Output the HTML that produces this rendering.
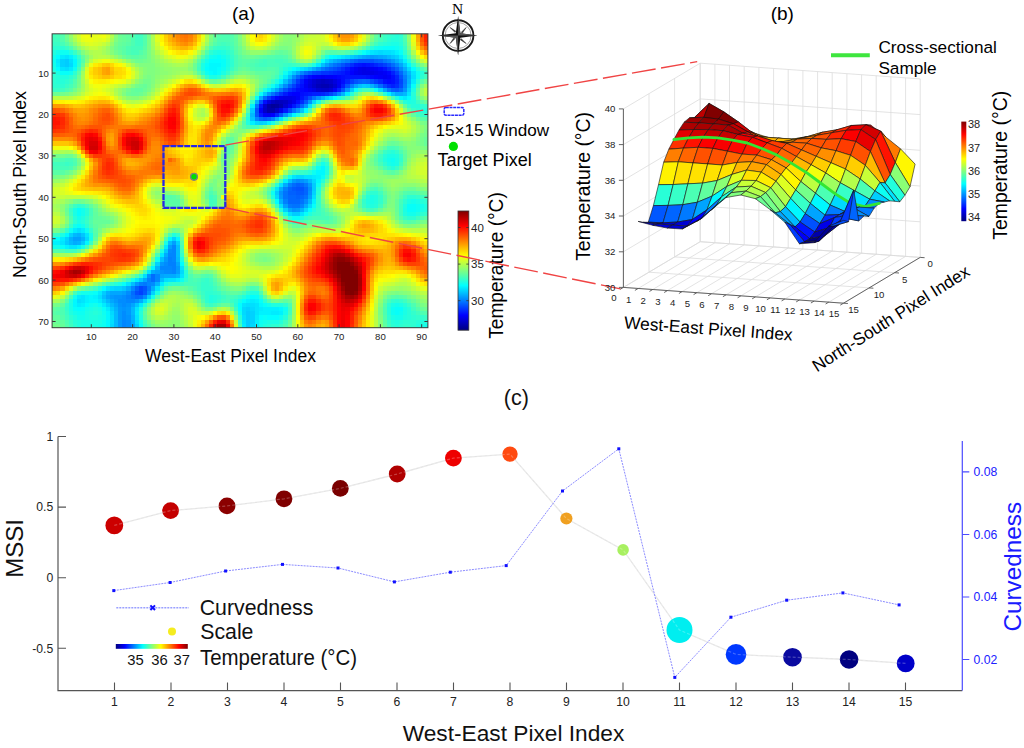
<!DOCTYPE html>
<html><head><meta charset="utf-8"><title>Figure</title>
<style>html,body{margin:0;padding:0;background:#fff;width:1024px;height:748px;overflow:hidden}svg{display:block}</style>
</head><body>
<svg width="1024" height="748" viewBox="0 0 1024 748">
<rect width="1024" height="748" fill="#fff"/>
<g shape-rendering="crispEdges">
<path fill="#40ffbf" d="M52.1 33.8H56.2V37.9H52.1zM134.7 33.8H143.0V37.9H134.7zM52.1 37.9H60.4V42.1H52.1zM134.7 37.9H143.0V42.1H134.7zM134.7 42.1H143.0V46.2H134.7zM221.4 42.1H225.6V46.2H221.4zM374.2 42.1H378.4V46.2H374.2zM366.0 46.2H370.1V50.4H366.0zM349.5 50.4H353.6V54.5H349.5zM262.7 58.6H266.9V62.8H262.7zM275.1 58.6H283.4V62.8H275.1zM316.4 58.6H320.6V62.8H316.4zM258.6 62.8H266.9V66.9H258.6zM279.2 62.8H283.4V66.9H279.2zM295.8 62.8H299.9V66.9H295.8zM76.9 66.9H81.0V71.1H76.9zM196.6 66.9H200.8V71.1H196.6zM72.8 75.2H76.9V79.3H72.8zM221.4 75.2H225.6V79.3H221.4zM275.1 75.2H279.2V79.3H275.1zM423.8 75.2H427.9V79.3H423.8zM60.4 87.6H64.5V91.8H60.4zM361.9 87.6H370.1V91.8H361.9zM312.3 104.2H316.4V108.3H312.3zM250.3 124.9H254.5V129.0H250.3zM378.4 153.9H382.5V158.0H378.4zM320.6 158.0H324.7V162.1H320.6zM52.1 162.1H64.5V166.3H52.1zM68.6 162.1H72.8V166.3H68.6zM399.0 162.1H403.2V166.3H399.0zM279.2 178.7H283.4V182.8H279.2zM378.4 191.1H382.5V195.3H378.4zM209.0 195.3H213.2V199.4H209.0zM403.2 195.3H407.3V199.4H403.2zM419.7 195.3H423.8V199.4H419.7zM209.0 199.4H213.2V203.5H209.0zM209.0 203.5H213.2V207.7H209.0zM378.4 203.5H382.5V207.7H378.4zM399.0 203.5H403.2V207.7H399.0zM370.1 207.7H374.2V211.8H370.1zM399.0 207.7H403.2V211.8H399.0zM68.6 211.8H72.8V216.0H68.6zM399.0 211.8H403.2V216.0H399.0zM308.2 216.0H312.3V220.1H308.2zM415.5 216.0H419.7V220.1H415.5zM64.5 249.1H76.9V253.2H64.5zM180.1 249.1H184.3V253.2H180.1zM184.3 265.6H188.4V269.8H184.3zM143.0 269.8H147.1V273.9H143.0zM209.0 278.1H213.2V282.2H209.0zM196.6 282.2H200.8V286.3H196.6zM93.4 286.3H97.5V290.5H93.4zM196.6 286.3H200.8V290.5H196.6zM213.2 286.3H217.3V290.5H213.2zM200.8 294.6H204.9V298.8H200.8zM233.8 294.6H237.9V298.8H233.8zM221.4 298.8H225.6V302.9H221.4zM403.2 298.8H407.3V302.9H403.2zM287.5 307.0H291.6V311.2H287.5zM411.4 307.0H415.5V311.2H411.4zM415.5 311.2H419.7V315.3H415.5zM64.5 315.3H68.6V319.5H64.5zM283.4 319.5H287.5V323.6H283.4zM68.6 323.6H72.8V327.7H68.6zM386.6 323.6H390.8V327.7H386.6z"/>
<path fill="#46ffb9" d="M56.2 33.8H60.4V37.9H56.2zM378.4 37.9H382.5V42.1H378.4zM60.4 42.1H64.5V46.2H60.4zM217.3 42.1H221.4V46.2H217.3zM225.6 42.1H229.7V46.2H225.6zM403.2 42.1H407.3V46.2H403.2zM130.6 46.2H143.0V50.4H130.6zM229.7 46.2H233.8V50.4H229.7zM130.6 50.4H138.8V54.5H130.6zM233.8 54.5H237.9V58.6H233.8zM320.6 54.5H324.7V58.6H320.6zM407.3 54.5H411.4V58.6H407.3zM233.8 58.6H237.9V62.8H233.8zM258.6 58.6H262.7V62.8H258.6zM266.9 58.6H275.1V62.8H266.9zM283.4 58.6H287.5V62.8H283.4zM196.6 62.8H200.8V66.9H196.6zM233.8 62.8H237.9V66.9H233.8zM254.5 62.8H258.6V66.9H254.5zM266.9 62.8H279.2V66.9H266.9zM419.7 66.9H423.8V71.1H419.7zM68.6 83.5H72.8V87.6H68.6zM415.5 83.5H419.7V87.6H415.5zM258.6 87.6H262.7V91.8H258.6zM308.2 108.3H312.3V112.5H308.2zM299.9 112.5H304.0V116.6H299.9zM415.5 112.5H419.7V116.6H415.5zM246.2 124.9H250.3V129.0H246.2zM254.5 124.9H258.6V129.0H254.5zM386.6 145.6H394.9V149.7H386.6zM64.5 158.0H72.8V162.1H64.5zM378.4 162.1H382.5V166.3H378.4zM52.1 166.3H68.6V170.4H52.1zM382.5 166.3H386.6V170.4H382.5zM291.6 170.4H295.8V174.6H291.6zM374.2 187.0H378.4V191.1H374.2zM361.9 195.3H366.0V199.4H361.9zM423.8 195.3H427.9V199.4H423.8zM213.2 199.4H217.3V203.5H213.2zM399.0 199.4H403.2V203.5H399.0zM85.1 203.5H89.3V207.7H85.1zM89.3 207.7H93.4V211.8H89.3zM366.0 207.7H370.1V211.8H366.0zM89.3 211.8H93.4V216.0H89.3zM320.6 211.8H324.7V216.0H320.6zM312.3 216.0H328.8V220.1H312.3zM299.9 220.1H304.0V224.2H299.9zM167.7 232.5H171.9V236.7H167.7zM85.1 244.9H89.3V249.1H85.1zM180.1 244.9H184.3V249.1H180.1zM155.3 253.2H159.5V257.4H155.3zM188.4 278.1H192.5V282.2H188.4zM196.6 278.1H200.8V282.2H196.6zM105.8 282.2H109.9V286.3H105.8zM184.3 282.2H196.6V286.3H184.3zM250.3 286.3H254.5V290.5H250.3zM72.8 290.5H76.9V294.6H72.8zM242.1 290.5H246.2V294.6H242.1zM68.6 294.6H72.8V298.8H68.6zM225.6 294.6H233.8V298.8H225.6zM225.6 298.8H229.7V302.9H225.6zM386.6 298.8H390.8V302.9H386.6zM204.9 302.9H209.0V307.0H204.9zM213.2 302.9H217.3V307.0H213.2zM287.5 311.2H291.6V315.3H287.5zM143.0 319.5H147.1V323.6H143.0z"/>
<path fill="#53ffac" d="M60.4 33.8H64.5V37.9H60.4zM130.6 33.8H134.7V37.9H130.6zM143.0 33.8H147.1V37.9H143.0zM217.3 33.8H221.4V37.9H217.3zM229.7 33.8H233.8V37.9H229.7zM403.2 33.8H407.3V37.9H403.2zM60.4 37.9H64.5V42.1H60.4zM143.0 37.9H147.1V42.1H143.0zM229.7 37.9H233.8V42.1H229.7zM143.0 42.1H147.1V46.2H143.0zM213.2 42.1H217.3V46.2H213.2zM138.8 50.4H143.0V54.5H138.8zM233.8 50.4H237.9V54.5H233.8zM328.8 50.4H337.1V54.5H328.8zM200.8 54.5H204.9V58.6H200.8zM266.9 54.5H275.1V58.6H266.9zM283.4 54.5H287.5V58.6H283.4zM81.0 58.6H85.1V62.8H81.0zM237.9 58.6H242.1V62.8H237.9zM250.3 58.6H254.5V62.8H250.3zM287.5 58.6H291.6V62.8H287.5zM237.9 62.8H242.1V66.9H237.9zM246.2 62.8H250.3V66.9H246.2zM250.3 66.9H254.5V71.1H250.3zM266.9 66.9H275.1V71.1H266.9zM229.7 71.1H233.8V75.2H229.7zM271.0 75.2H275.1V79.3H271.0zM72.8 79.3H76.9V83.5H72.8zM266.9 79.3H271.0V83.5H266.9zM419.7 79.3H423.8V83.5H419.7zM345.3 95.9H349.5V100.0H345.3zM415.5 95.9H419.7V100.0H415.5zM399.0 100.0H403.2V104.2H399.0zM419.7 100.0H423.8V104.2H419.7zM246.2 108.3H250.3V112.5H246.2zM423.8 116.6H427.9V120.7H423.8zM242.1 120.7H246.2V124.9H242.1zM225.6 141.4H229.7V145.6H225.6zM225.6 145.6H229.7V149.7H225.6zM52.1 158.0H60.4V162.1H52.1zM72.8 158.0H76.9V162.1H72.8zM324.7 158.0H328.8V162.1H324.7zM403.2 191.1H407.3V195.3H403.2zM415.5 191.1H419.7V195.3H415.5zM163.6 195.3H171.9V199.4H163.6zM382.5 195.3H386.6V199.4H382.5zM382.5 199.4H386.6V203.5H382.5zM68.6 203.5H72.8V207.7H68.6zM324.7 211.8H328.8V216.0H324.7zM328.8 216.0H332.9V220.1H328.8zM399.0 216.0H403.2V220.1H399.0zM68.6 220.1H72.8V224.2H68.6zM89.3 220.1H93.4V224.2H89.3zM287.5 220.1H291.6V224.2H287.5zM304.0 220.1H308.2V224.2H304.0zM324.7 220.1H328.8V224.2H324.7zM407.3 220.1H411.4V224.2H407.3zM93.4 232.5H97.5V236.7H93.4zM180.1 240.8H184.3V244.9H180.1zM52.1 249.1H60.4V253.2H52.1zM200.8 273.9H204.9V278.1H200.8zM209.0 273.9H213.2V278.1H209.0zM89.3 286.3H93.4V290.5H89.3zM163.6 286.3H167.7V290.5H163.6zM217.3 286.3H221.4V290.5H217.3zM394.9 294.6H399.0V298.8H394.9zM266.9 298.8H271.0V302.9H266.9zM407.3 298.8H411.4V302.9H407.3zM382.5 302.9H386.6V307.0H382.5zM143.0 307.0H147.1V311.2H143.0zM415.5 307.0H419.7V311.2H415.5zM56.2 311.2H60.4V315.3H56.2zM423.8 311.2H427.9V315.3H423.8zM60.4 315.3H64.5V319.5H60.4zM382.5 315.3H386.6V319.5H382.5zM64.5 323.6H68.6V327.7H64.5z"/>
<path fill="#73ff8c" d="M64.5 33.8H68.6V37.9H64.5zM68.6 42.1H72.8V46.2H68.6zM114.0 42.1H118.2V46.2H114.0zM204.9 46.2H209.0V50.4H204.9zM114.0 50.4H118.2V54.5H114.0zM271.0 50.4H275.1V54.5H271.0zM287.5 50.4H291.6V54.5H287.5zM143.0 58.6H147.1V62.8H143.0zM312.3 58.6H316.4V62.8H312.3zM237.9 71.1H242.1V75.2H237.9zM246.2 71.1H250.3V75.2H246.2zM76.9 79.3H81.0V83.5H76.9zM143.0 79.3H151.2V83.5H143.0zM258.6 79.3H262.7V83.5H258.6zM134.7 83.5H138.8V87.6H134.7zM147.1 83.5H151.2V87.6H147.1zM72.8 87.6H76.9V91.8H72.8zM126.4 87.6H130.6V91.8H126.4zM60.4 91.8H64.5V95.9H60.4zM423.8 120.7H427.9V124.9H423.8zM262.7 124.9H266.9V129.0H262.7zM423.8 133.2H427.9V137.3H423.8zM419.7 137.3H423.8V141.4H419.7zM419.7 141.4H423.8V145.6H419.7zM403.2 145.6H407.3V149.7H403.2zM56.2 153.9H64.5V158.0H56.2zM370.1 158.0H374.2V162.1H370.1zM76.9 162.1H81.0V166.3H76.9zM312.3 162.1H316.4V166.3H312.3zM68.6 170.4H72.8V174.6H68.6zM52.1 174.6H56.2V178.7H52.1zM209.0 182.8H213.2V187.0H209.0zM271.0 182.8H275.1V187.0H271.0zM378.4 182.8H382.5V187.0H378.4zM382.5 187.0H386.6V191.1H382.5zM403.2 187.0H407.3V191.1H403.2zM386.6 195.3H390.8V199.4H386.6zM394.9 195.3H399.0V199.4H394.9zM72.8 199.4H76.9V203.5H72.8zM81.0 199.4H85.1V203.5H81.0zM320.6 199.4H324.7V203.5H320.6zM64.5 203.5H68.6V207.7H64.5zM97.5 211.8H101.7V216.0H97.5zM105.8 216.0H109.9V220.1H105.8zM394.9 216.0H399.0V220.1H394.9zM109.9 220.1H114.0V224.2H109.9zM419.7 220.1H423.8V224.2H419.7zM101.7 224.2H105.8V228.4H101.7zM56.2 228.4H60.4V232.5H56.2zM171.9 228.4H176.0V232.5H171.9zM151.2 257.4H155.3V261.5H151.2zM130.6 273.9H134.7V278.1H130.6zM213.2 273.9H217.3V278.1H213.2zM118.2 278.1H122.3V282.2H118.2zM81.0 286.3H85.1V290.5H81.0zM171.9 286.3H180.1V290.5H171.9zM225.6 286.3H229.7V290.5H225.6zM242.1 286.3H246.2V290.5H242.1zM188.4 290.5H192.5V294.6H188.4zM407.3 294.6H411.4V298.8H407.3zM271.0 298.8H275.1V302.9H271.0zM56.2 302.9H60.4V307.0H56.2zM52.1 323.6H60.4V327.7H52.1zM287.5 323.6H291.6V327.7H287.5z"/>
<path fill="#93ff6c" d="M68.6 33.8H72.8V37.9H68.6zM407.3 33.8H411.4V37.9H407.3zM291.6 37.9H295.8V42.1H291.6zM407.3 37.9H411.4V42.1H407.3zM72.8 42.1H76.9V46.2H72.8zM109.9 42.1H114.0V46.2H109.9zM291.6 42.1H295.8V46.2H291.6zM151.2 50.4H155.3V54.5H151.2zM250.3 50.4H262.7V54.5H250.3zM291.6 50.4H295.8V54.5H291.6zM114.0 54.5H118.2V58.6H114.0zM155.3 58.6H159.5V62.8H155.3zM415.5 58.6H419.7V62.8H415.5zM159.5 62.8H163.6V66.9H159.5zM188.4 62.8H192.5V66.9H188.4zM423.8 62.8H427.9V66.9H423.8zM138.8 66.9H143.0V71.1H138.8zM163.6 66.9H171.9V71.1H163.6zM167.7 71.1H171.9V75.2H167.7zM138.8 75.2H143.0V79.3H138.8zM159.5 75.2H163.6V79.3H159.5zM196.6 75.2H200.8V79.3H196.6zM233.8 75.2H237.9V79.3H233.8zM246.2 75.2H250.3V79.3H246.2zM134.7 79.3H138.8V83.5H134.7zM155.3 79.3H159.5V83.5H155.3zM151.2 87.6H155.3V91.8H151.2zM72.8 91.8H76.9V95.9H72.8zM147.1 91.8H151.2V95.9H147.1zM138.8 95.9H143.0V100.0H138.8zM394.9 100.0H399.0V104.2H394.9zM403.2 108.3H407.3V112.5H403.2zM237.9 120.7H242.1V124.9H237.9zM415.5 120.7H419.7V124.9H415.5zM246.2 129.0H250.3V133.2H246.2zM225.6 133.2H229.7V137.3H225.6zM237.9 133.2H242.1V137.3H237.9zM221.4 137.3H225.6V141.4H221.4zM411.4 137.3H415.5V141.4H411.4zM415.5 149.7H427.9V153.9H415.5zM324.7 153.9H328.8V158.0H324.7zM229.7 158.0H233.8V162.1H229.7zM366.0 158.0H370.1V162.1H366.0zM366.0 166.3H370.1V170.4H366.0zM217.3 170.4H221.4V174.6H217.3zM370.1 170.4H374.2V174.6H370.1zM221.4 174.6H225.6V178.7H221.4zM370.1 174.6H378.4V178.7H370.1zM382.5 178.7H386.6V182.8H382.5zM217.3 182.8H221.4V187.0H217.3zM324.7 182.8H328.8V187.0H324.7zM386.6 182.8H390.8V187.0H386.6zM399.0 182.8H403.2V187.0H399.0zM415.5 182.8H419.7V187.0H415.5zM262.7 187.0H266.9V191.1H262.7zM390.8 187.0H394.9V191.1H390.8zM262.7 195.3H266.9V199.4H262.7zM64.5 199.4H68.6V203.5H64.5zM221.4 199.4H225.6V203.5H221.4zM266.9 199.4H271.0V203.5H266.9zM353.6 203.5H357.7V207.7H353.6zM353.6 207.7H357.7V211.8H353.6zM337.1 211.8H341.2V216.0H337.1zM366.0 211.8H370.1V216.0H366.0zM374.2 211.8H378.4V216.0H374.2zM114.0 216.0H118.2V220.1H114.0zM60.4 224.2H64.5V228.4H60.4zM299.9 228.4H304.0V232.5H299.9zM258.6 261.5H271.0V265.6H258.6zM213.2 269.8H217.3V273.9H213.2zM126.4 273.9H130.6V278.1H126.4zM180.1 290.5H184.3V294.6H180.1zM188.4 294.6H192.5V298.8H188.4zM287.5 294.6H291.6V298.8H287.5zM415.5 294.6H419.7V298.8H415.5zM155.3 298.8H159.5V302.9H155.3zM378.4 298.8H382.5V302.9H378.4zM423.8 298.8H427.9V302.9H423.8zM196.6 302.9H200.8V307.0H196.6zM200.8 307.0H204.9V311.2H200.8zM147.1 311.2H151.2V315.3H147.1zM171.9 315.3H180.1V319.5H171.9zM233.8 315.3H237.9V319.5H233.8zM167.7 319.5H171.9V323.6H167.7zM159.5 323.6H167.7V327.7H159.5z"/>
<path fill="#b9ff46" d="M72.8 33.8H76.9V37.9H72.8zM275.1 33.8H279.2V37.9H275.1zM271.0 42.1H275.1V46.2H271.0zM85.1 46.2H89.3V50.4H85.1zM97.5 46.2H101.7V50.4H97.5zM295.8 46.2H299.9V50.4H295.8zM316.4 46.2H320.6V50.4H316.4zM97.5 54.5H105.8V58.6H97.5zM89.3 58.6H93.4V62.8H89.3zM167.7 58.6H171.9V62.8H167.7zM134.7 71.1H138.8V75.2H134.7zM176.0 75.2H180.1V79.3H176.0zM192.5 75.2H196.6V79.3H192.5zM229.7 79.3H233.8V83.5H229.7zM246.2 79.3H250.3V83.5H246.2zM159.5 83.5H163.6V87.6H159.5zM250.3 83.5H254.5V87.6H250.3zM250.3 87.6H254.5V91.8H250.3zM52.1 95.9H68.6V100.0H52.1zM118.2 95.9H122.3V100.0H118.2zM126.4 100.0H130.6V104.2H126.4zM134.7 100.0H138.8V104.2H134.7zM337.1 100.0H341.2V104.2H337.1zM196.6 108.3H200.8V112.5H196.6zM403.2 112.5H407.3V116.6H403.2zM271.0 124.9H275.1V129.0H271.0zM411.4 124.9H415.5V129.0H411.4zM242.1 133.2H246.2V137.3H242.1zM382.5 133.2H386.6V137.3H382.5zM403.2 133.2H407.3V137.3H403.2zM81.0 158.0H85.1V162.1H81.0zM415.5 158.0H419.7V162.1H415.5zM217.3 162.1H221.4V166.3H217.3zM308.2 162.1H312.3V166.3H308.2zM361.9 162.1H366.0V166.3H361.9zM287.5 166.3H291.6V170.4H287.5zM332.9 170.4H337.1V174.6H332.9zM411.4 174.6H415.5V178.7H411.4zM64.5 178.7H68.6V182.8H64.5zM423.8 178.7H427.9V182.8H423.8zM52.1 182.8H56.2V187.0H52.1zM258.6 187.0H262.7V191.1H258.6zM324.7 187.0H328.8V191.1H324.7zM254.5 191.1H258.6V195.3H254.5zM101.7 203.5H105.8V207.7H101.7zM337.1 207.7H341.2V211.8H337.1zM56.2 211.8H60.4V216.0H56.2zM386.6 216.0H390.8V220.1H386.6zM52.1 224.2H56.2V228.4H52.1zM118.2 224.2H122.3V228.4H118.2zM171.9 224.2H176.0V228.4H171.9zM341.2 224.2H345.3V228.4H341.2zM163.6 228.4H167.7V232.5H163.6zM312.3 228.4H316.4V232.5H312.3zM411.4 228.4H419.7V232.5H411.4zM155.3 244.9H159.5V249.1H155.3zM275.1 249.1H279.2V253.2H275.1zM72.8 253.2H76.9V257.4H72.8zM246.2 253.2H250.3V257.4H246.2zM204.9 265.6H213.2V269.8H204.9zM258.6 265.6H262.7V269.8H258.6zM271.0 265.6H275.1V269.8H271.0zM134.7 269.8H138.8V273.9H134.7zM217.3 269.8H221.4V273.9H217.3zM225.6 278.1H229.7V282.2H225.6zM246.2 278.1H250.3V282.2H246.2zM394.9 282.2H399.0V286.3H394.9zM382.5 286.3H386.6V290.5H382.5zM411.4 286.3H415.5V290.5H411.4zM378.4 290.5H382.5V294.6H378.4zM419.7 290.5H423.8V294.6H419.7zM167.7 298.8H171.9V302.9H167.7zM184.3 298.8H188.4V302.9H184.3zM167.7 302.9H171.9V307.0H167.7zM192.5 302.9H196.6V307.0H192.5zM151.2 307.0H155.3V311.2H151.2zM221.4 307.0H225.6V311.2H221.4zM374.2 307.0H378.4V311.2H374.2zM151.2 311.2H155.3V315.3H151.2zM155.3 315.3H163.6V319.5H155.3zM184.3 315.3H188.4V319.5H184.3zM374.2 319.5H378.4V323.6H374.2zM374.2 323.6H378.4V327.7H374.2z"/>
<path fill="#d2ff2d" d="M76.9 33.8H81.0V37.9H76.9zM246.2 33.8H250.3V37.9H246.2zM320.6 33.8H324.7V37.9H320.6zM105.8 37.9H109.9V42.1H105.8zM271.0 37.9H275.1V42.1H271.0zM320.6 37.9H324.7V42.1H320.6zM97.5 42.1H101.7V46.2H97.5zM155.3 42.1H159.5V46.2H155.3zM304.0 42.1H308.2V46.2H304.0zM312.3 42.1H316.4V46.2H312.3zM357.7 42.1H361.9V46.2H357.7zM312.3 50.4H316.4V54.5H312.3zM299.9 54.5H304.0V58.6H299.9zM114.0 58.6H118.2V62.8H114.0zM184.3 75.2H192.5V79.3H184.3zM85.1 79.3H89.3V83.5H85.1zM126.4 79.3H130.6V83.5H126.4zM171.9 79.3H176.0V83.5H171.9zM237.9 79.3H242.1V83.5H237.9zM209.0 83.5H213.2V87.6H209.0zM105.8 87.6H109.9V91.8H105.8zM159.5 87.6H163.6V91.8H159.5zM109.9 91.8H114.0V95.9H109.9zM357.7 95.9H361.9V100.0H357.7zM143.0 100.0H147.1V104.2H143.0zM349.5 100.0H353.6V104.2H349.5zM192.5 108.3H196.6V112.5H192.5zM242.1 108.3H246.2V112.5H242.1zM403.2 116.6H407.3V120.7H403.2zM407.3 124.9H411.4V129.0H407.3zM382.5 129.0H386.6V133.2H382.5zM403.2 129.0H407.3V133.2H403.2zM378.4 133.2H382.5V137.3H378.4zM221.4 145.6H225.6V149.7H221.4zM320.6 149.7H324.7V153.9H320.6zM366.0 149.7H370.1V153.9H366.0zM423.8 162.1H427.9V166.3H423.8zM419.7 166.3H423.8V170.4H419.7zM357.7 170.4H361.9V174.6H357.7zM419.7 170.4H427.9V174.6H419.7zM229.7 174.6H233.8V178.7H229.7zM353.6 174.6H357.7V178.7H353.6zM68.6 178.7H72.8V182.8H68.6zM271.0 178.7H275.1V182.8H271.0zM345.3 178.7H349.5V182.8H345.3zM328.8 182.8H332.9V187.0H328.8zM357.7 182.8H361.9V187.0H357.7zM52.1 187.0H60.4V191.1H52.1zM176.0 187.0H180.1V191.1H176.0zM52.1 191.1H60.4V195.3H52.1zM246.2 191.1H250.3V195.3H246.2zM147.1 195.3H151.2V199.4H147.1zM196.6 199.4H200.8V203.5H196.6zM105.8 203.5H109.9V207.7H105.8zM188.4 203.5H192.5V207.7H188.4zM266.9 203.5H271.0V207.7H266.9zM332.9 203.5H337.1V207.7H332.9zM114.0 207.7H118.2V211.8H114.0zM163.6 207.7H176.0V211.8H163.6zM271.0 207.7H275.1V211.8H271.0zM52.1 216.0H56.2V220.1H52.1zM184.3 216.0H192.5V220.1H184.3zM382.5 216.0H386.6V220.1H382.5zM52.1 220.1H56.2V224.2H52.1zM192.5 220.1H196.6V224.2H192.5zM386.6 220.1H390.8V224.2H386.6zM122.3 224.2H126.4V228.4H122.3zM188.4 224.2H192.5V228.4H188.4zM114.0 228.4H118.2V232.5H114.0zM399.0 228.4H403.2V232.5H399.0zM159.5 232.5H163.6V236.7H159.5zM299.9 236.7H304.0V240.8H299.9zM287.5 240.8H295.8V244.9H287.5zM279.2 244.9H291.6V249.1H279.2zM184.3 249.1H188.4V253.2H184.3zM246.2 249.1H250.3V253.2H246.2zM76.9 253.2H81.0V257.4H76.9zM242.1 253.2H246.2V257.4H242.1zM287.5 253.2H291.6V257.4H287.5zM242.1 261.5H246.2V265.6H242.1zM246.2 265.6H250.3V269.8H246.2zM130.6 269.8H134.7V273.9H130.6zM258.6 269.8H266.9V273.9H258.6zM246.2 273.9H258.6V278.1H246.2zM407.3 278.1H411.4V282.2H407.3zM382.5 282.2H386.6V286.3H382.5zM411.4 282.2H415.5V286.3H411.4zM159.5 302.9H163.6V307.0H159.5zM192.5 307.0H196.6V311.2H192.5zM155.3 311.2H163.6V315.3H155.3zM196.6 311.2H200.8V315.3H196.6zM188.4 315.3H192.5V319.5H188.4z"/>
<path fill="#ecff13" d="M81.0 33.8H85.1V37.9H81.0zM89.3 33.8H93.4V37.9H89.3zM97.5 33.8H101.7V37.9H97.5zM200.8 33.8H204.9V37.9H200.8zM324.7 33.8H328.8V37.9H324.7zM85.1 37.9H93.4V42.1H85.1zM411.4 37.9H415.5V42.1H411.4zM304.0 46.2H312.3V50.4H304.0zM184.3 54.5H188.4V58.6H184.3zM89.3 62.8H93.4V66.9H89.3zM122.3 62.8H126.4V66.9H122.3zM122.3 79.3H126.4V83.5H122.3zM101.7 83.5H105.8V87.6H101.7zM225.6 83.5H229.7V87.6H225.6zM97.5 87.6H101.7V91.8H97.5zM155.3 95.9H159.5V100.0H155.3zM118.2 100.0H122.3V104.2H118.2zM126.4 104.2H130.6V108.3H126.4zM134.7 104.2H138.8V108.3H134.7zM320.6 104.2H324.7V108.3H320.6zM390.8 124.9H394.9V129.0H390.8zM258.6 129.0H262.7V133.2H258.6zM378.4 129.0H382.5V133.2H378.4zM242.1 137.3H246.2V141.4H242.1zM370.1 141.4H374.2V145.6H370.1zM85.1 162.1H89.3V166.3H85.1zM213.2 162.1H217.3V166.3H213.2zM283.4 166.3H287.5V170.4H283.4zM357.7 166.3H361.9V170.4H357.7zM353.6 170.4H357.7V174.6H353.6zM200.8 174.6H204.9V178.7H200.8zM275.1 174.6H279.2V178.7H275.1zM72.8 178.7H76.9V182.8H72.8zM159.5 182.8H163.6V187.0H159.5zM64.5 187.0H68.6V191.1H64.5zM68.6 191.1H72.8V195.3H68.6zM188.4 191.1H192.5V195.3H188.4zM97.5 195.3H101.7V199.4H97.5zM237.9 195.3H242.1V199.4H237.9zM147.1 199.4H151.2V203.5H147.1zM254.5 199.4H258.6V203.5H254.5zM109.9 203.5H114.0V207.7H109.9zM151.2 203.5H155.3V207.7H151.2zM337.1 203.5H341.2V207.7H337.1zM345.3 203.5H349.5V207.7H345.3zM155.3 207.7H159.5V211.8H155.3zM209.0 207.7H213.2V211.8H209.0zM159.5 211.8H163.6V216.0H159.5zM180.1 211.8H188.4V216.0H180.1zM196.6 211.8H200.8V216.0H196.6zM171.9 216.0H176.0V220.1H171.9zM370.1 216.0H374.2V220.1H370.1zM167.7 220.1H171.9V224.2H167.7zM126.4 224.2H130.6V228.4H126.4zM279.2 224.2H283.4V228.4H279.2zM386.6 224.2H390.8V228.4H386.6zM122.3 228.4H126.4V232.5H122.3zM105.8 232.5H109.9V236.7H105.8zM312.3 232.5H316.4V236.7H312.3zM415.5 232.5H419.7V236.7H415.5zM279.2 240.8H283.4V244.9H279.2zM184.3 244.9H188.4V249.1H184.3zM254.5 244.9H258.6V249.1H254.5zM295.8 244.9H299.9V249.1H295.8zM242.1 249.1H246.2V253.2H242.1zM237.9 253.2H242.1V257.4H237.9zM291.6 253.2H295.8V257.4H291.6zM138.8 265.6H143.0V269.8H138.8zM237.9 265.6H242.1V269.8H237.9zM225.6 269.8H229.7V273.9H225.6zM237.9 269.8H242.1V273.9H237.9zM275.1 269.8H279.2V273.9H275.1zM114.0 273.9H118.2V278.1H114.0zM262.7 273.9H266.9V278.1H262.7zM399.0 273.9H407.3V278.1H399.0zM97.5 278.1H101.7V282.2H97.5zM262.7 278.1H266.9V282.2H262.7zM386.6 278.1H390.8V282.2H386.6zM287.5 286.3H291.6V290.5H287.5zM374.2 290.5H378.4V294.6H374.2zM52.1 294.6H56.2V298.8H52.1zM370.1 311.2H374.2V315.3H370.1zM192.5 319.5H196.6V323.6H192.5zM192.5 323.6H196.6V327.7H192.5z"/>
<path fill="#f2ff0d" d="M85.1 33.8H89.3V37.9H85.1zM101.7 33.8H105.8V37.9H101.7zM411.4 33.8H415.5V37.9H411.4zM266.9 37.9H271.0V42.1H266.9zM262.7 42.1H266.9V46.2H262.7zM308.2 50.4H312.3V54.5H308.2zM176.0 54.5H184.3V58.6H176.0zM101.7 58.6H109.9V62.8H101.7zM118.2 79.3H122.3V83.5H118.2zM93.4 83.5H101.7V87.6H93.4zM204.9 83.5H209.0V87.6H204.9zM163.6 87.6H167.7V91.8H163.6zM246.2 87.6H250.3V91.8H246.2zM93.4 91.8H97.5V95.9H93.4zM101.7 91.8H105.8V95.9H101.7zM159.5 91.8H163.6V95.9H159.5zM246.2 91.8H250.3V95.9H246.2zM138.8 104.2H143.0V108.3H138.8zM394.9 104.2H399.0V108.3H394.9zM196.6 120.7H200.8V124.9H196.6zM287.5 120.7H291.6V124.9H287.5zM386.6 124.9H390.8V129.0H386.6zM374.2 133.2H378.4V137.3H374.2zM52.1 145.6H68.6V149.7H52.1zM316.4 149.7H320.6V153.9H316.4zM312.3 153.9H316.4V158.0H312.3zM295.8 162.1H304.0V166.3H295.8zM233.8 166.3H237.9V170.4H233.8zM279.2 170.4H283.4V174.6H279.2zM349.5 170.4H353.6V174.6H349.5zM341.2 174.6H345.3V178.7H341.2zM68.6 182.8H72.8V187.0H68.6zM196.6 182.8H200.8V187.0H196.6zM353.6 182.8H357.7V187.0H353.6zM184.3 187.0H188.4V191.1H184.3zM246.2 187.0H250.3V191.1H246.2zM192.5 191.1H196.6V195.3H192.5zM237.9 191.1H242.1V195.3H237.9zM221.4 195.3H225.6V199.4H221.4zM105.8 199.4H109.9V203.5H105.8zM122.3 207.7H126.4V211.8H122.3zM126.4 211.8H130.6V216.0H126.4zM188.4 211.8H196.6V216.0H188.4zM200.8 211.8H204.9V216.0H200.8zM163.6 216.0H171.9V220.1H163.6zM275.1 216.0H279.2V220.1H275.1zM353.6 216.0H357.7V220.1H353.6zM366.0 216.0H370.1V220.1H366.0zM130.6 220.1H134.7V224.2H130.6zM163.6 220.1H167.7V224.2H163.6zM196.6 220.1H200.8V224.2H196.6zM382.5 220.1H386.6V224.2H382.5zM159.5 224.2H163.6V228.4H159.5zM192.5 224.2H196.6V228.4H192.5zM390.8 228.4H394.9V232.5H390.8zM411.4 232.5H415.5V236.7H411.4zM184.3 236.7H188.4V240.8H184.3zM184.3 240.8H188.4V244.9H184.3zM299.9 240.8H304.0V244.9H299.9zM250.3 244.9H254.5V249.1H250.3zM233.8 261.5H237.9V265.6H233.8zM221.4 265.6H225.6V269.8H221.4zM126.4 269.8H130.6V273.9H126.4zM233.8 269.8H237.9V273.9H233.8zM394.9 273.9H399.0V278.1H394.9zM382.5 278.1H386.6V282.2H382.5zM411.4 278.1H415.5V282.2H411.4zM415.5 282.2H419.7V286.3H415.5zM295.8 294.6H299.9V298.8H295.8zM196.6 315.3H200.8V319.5H196.6zM295.8 323.6H299.9V327.7H295.8z"/>
<path fill="#e5ff1a" d="M93.4 33.8H97.5V37.9H93.4zM361.9 33.8H366.0V37.9H361.9zM81.0 37.9H85.1V42.1H81.0zM93.4 37.9H97.5V42.1H93.4zM101.7 37.9H105.8V42.1H101.7zM200.8 37.9H204.9V42.1H200.8zM324.7 37.9H328.8V42.1H324.7zM250.3 42.1H254.5V46.2H250.3zM159.5 46.2H163.6V50.4H159.5zM196.6 46.2H200.8V50.4H196.6zM163.6 50.4H167.7V54.5H163.6zM192.5 50.4H196.6V54.5H192.5zM171.9 54.5H176.0V58.6H171.9zM304.0 54.5H308.2V58.6H304.0zM97.5 58.6H101.7V62.8H97.5zM85.1 71.1H89.3V75.2H85.1zM85.1 75.2H89.3V79.3H85.1zM176.0 79.3H180.1V83.5H176.0zM196.6 79.3H200.8V83.5H196.6zM89.3 83.5H93.4V87.6H89.3zM105.8 83.5H109.9V87.6H105.8zM167.7 83.5H171.9V87.6H167.7zM93.4 87.6H97.5V91.8H93.4zM89.3 91.8H93.4V95.9H89.3zM105.8 91.8H109.9V95.9H105.8zM81.0 95.9H85.1V100.0H81.0zM353.6 100.0H357.7V104.2H353.6zM130.6 104.2H134.7V108.3H130.6zM204.9 116.6H209.0V120.7H204.9zM275.1 124.9H279.2V129.0H275.1zM394.9 124.9H403.2V129.0H394.9zM246.2 133.2H250.3V137.3H246.2zM237.9 153.9H242.1V158.0H237.9zM304.0 162.1H308.2V166.3H304.0zM332.9 162.1H337.1V166.3H332.9zM209.0 166.3H213.2V170.4H209.0zM81.0 170.4H85.1V174.6H81.0zM204.9 170.4H209.0V174.6H204.9zM76.9 174.6H81.0V178.7H76.9zM229.7 178.7H233.8V182.8H229.7zM332.9 178.7H337.1V182.8H332.9zM151.2 182.8H155.3V187.0H151.2zM225.6 182.8H229.7V187.0H225.6zM196.6 187.0H200.8V191.1H196.6zM250.3 187.0H254.5V191.1H250.3zM64.5 191.1H68.6V195.3H64.5zM188.4 195.3H196.6V199.4H188.4zM192.5 199.4H196.6V203.5H192.5zM242.1 199.4H246.2V203.5H242.1zM250.3 199.4H254.5V203.5H250.3zM118.2 207.7H122.3V211.8H118.2zM176.0 207.7H180.1V211.8H176.0zM200.8 207.7H204.9V211.8H200.8zM163.6 211.8H171.9V216.0H163.6zM176.0 211.8H180.1V216.0H176.0zM126.4 216.0H130.6V220.1H126.4zM176.0 216.0H180.1V220.1H176.0zM196.6 216.0H200.8V220.1H196.6zM374.2 216.0H378.4V220.1H374.2zM126.4 220.1H130.6V224.2H126.4zM171.9 220.1H176.0V224.2H171.9zM159.5 228.4H163.6V232.5H159.5zM419.7 232.5H423.8V236.7H419.7zM304.0 236.7H308.2V240.8H304.0zM155.3 240.8H159.5V244.9H155.3zM258.6 244.9H266.9V249.1H258.6zM89.3 249.1H93.4V253.2H89.3zM291.6 249.1H295.8V253.2H291.6zM237.9 257.4H242.1V261.5H237.9zM237.9 261.5H242.1V265.6H237.9zM242.1 269.8H246.2V273.9H242.1zM229.7 273.9H242.1V278.1H229.7zM390.8 278.1H394.9V282.2H390.8zM378.4 282.2H382.5V286.3H378.4zM68.6 286.3H72.8V290.5H68.6zM291.6 286.3H295.8V290.5H291.6zM423.8 286.3H427.9V290.5H423.8zM266.9 290.5H271.0V294.6H266.9zM192.5 315.3H196.6V319.5H192.5zM370.1 315.3H374.2V319.5H370.1zM370.1 319.5H374.2V323.6H370.1zM370.1 323.6H374.2V327.7H370.1z"/>
<path fill="#dfff20" d="M105.8 33.8H109.9V37.9H105.8zM155.3 33.8H159.5V37.9H155.3zM97.5 37.9H101.7V42.1H97.5zM155.3 37.9H159.5V42.1H155.3zM89.3 42.1H93.4V46.2H89.3zM328.8 42.1H332.9V46.2H328.8zM411.4 42.1H415.5V46.2H411.4zM299.9 50.4H304.0V54.5H299.9zM308.2 54.5H312.3V58.6H308.2zM109.9 58.6H114.0V62.8H109.9zM130.6 71.1H134.7V75.2H130.6zM246.2 83.5H250.3V87.6H246.2zM101.7 87.6H105.8V91.8H101.7zM147.1 100.0H151.2V104.2H147.1zM196.6 104.2H204.9V108.3H196.6zM399.0 108.3H403.2V112.5H399.0zM403.2 120.7H407.3V124.9H403.2zM403.2 124.9H407.3V129.0H403.2zM374.2 137.3H378.4V141.4H374.2zM217.3 149.7H221.4V153.9H217.3zM324.7 149.7H328.8V153.9H324.7zM361.9 153.9H366.0V158.0H361.9zM60.4 187.0H64.5V191.1H60.4zM180.1 187.0H184.3V191.1H180.1zM196.6 191.1H200.8V195.3H196.6zM242.1 191.1H246.2V195.3H242.1zM353.6 195.3H357.7V199.4H353.6zM246.2 199.4H250.3V203.5H246.2zM258.6 199.4H262.7V203.5H258.6zM192.5 203.5H196.6V207.7H192.5zM159.5 207.7H163.6V211.8H159.5zM171.9 211.8H176.0V216.0H171.9zM378.4 216.0H382.5V220.1H378.4zM163.6 224.2H167.7V228.4H163.6zM345.3 224.2H349.5V228.4H345.3zM118.2 228.4H122.3V232.5H118.2zM341.2 228.4H345.3V232.5H341.2zM394.9 228.4H399.0V232.5H394.9zM184.3 232.5H188.4V236.7H184.3zM423.8 232.5H427.9V236.7H423.8zM283.4 236.7H287.5V240.8H283.4zM295.8 240.8H299.9V244.9H295.8zM266.9 244.9H271.0V249.1H266.9zM291.6 244.9H295.8V249.1H291.6zM287.5 257.4H291.6V261.5H287.5zM217.3 265.6H221.4V269.8H217.3zM242.1 265.6H246.2V269.8H242.1zM246.2 269.8H250.3V273.9H246.2zM271.0 269.8H275.1V273.9H271.0zM258.6 273.9H262.7V278.1H258.6zM85.1 282.2H89.3V286.3H85.1zM262.7 282.2H266.9V286.3H262.7zM419.7 286.3H423.8V290.5H419.7zM283.4 290.5H287.5V294.6H283.4zM56.2 294.6H60.4V298.8H56.2zM159.5 307.0H163.6V311.2H159.5zM192.5 311.2H196.6V315.3H192.5zM233.8 323.6H237.9V327.7H233.8z"/>
<path fill="#b3ff4c" d="M109.9 33.8H114.0V37.9H109.9zM366.0 33.8H370.1V37.9H366.0zM275.1 37.9H279.2V42.1H275.1zM299.9 37.9H304.0V42.1H299.9zM76.9 42.1H81.0V46.2H76.9zM105.8 42.1H109.9V46.2H105.8zM332.9 46.2H337.1V50.4H332.9zM349.5 46.2H353.6V50.4H349.5zM93.4 50.4H101.7V54.5H93.4zM155.3 50.4H159.5V54.5H155.3zM196.6 50.4H200.8V54.5H196.6zM93.4 54.5H97.5V58.6H93.4zM105.8 54.5H109.9V58.6H105.8zM159.5 54.5H163.6V58.6H159.5zM192.5 54.5H196.6V58.6H192.5zM295.8 54.5H299.9V58.6H295.8zM312.3 54.5H316.4V58.6H312.3zM85.1 62.8H89.3V66.9H85.1zM134.7 75.2H138.8V79.3H134.7zM130.6 79.3H134.7V83.5H130.6zM200.8 79.3H204.9V83.5H200.8zM122.3 83.5H126.4V87.6H122.3zM155.3 87.6H159.5V91.8H155.3zM114.0 91.8H118.2V95.9H114.0zM366.0 91.8H370.1V95.9H366.0zM147.1 95.9H151.2V100.0H147.1zM130.6 100.0H134.7V104.2H130.6zM246.2 100.0H250.3V104.2H246.2zM332.9 100.0H337.1V104.2H332.9zM196.6 112.5H200.8V116.6H196.6zM308.2 112.5H312.3V116.6H308.2zM295.8 116.6H299.9V120.7H295.8zM411.4 129.0H415.5V133.2H411.4zM399.0 133.2H403.2V137.3H399.0zM407.3 133.2H411.4V137.3H407.3zM52.1 149.7H56.2V153.9H52.1zM76.9 153.9H81.0V158.0H76.9zM312.3 158.0H316.4V162.1H312.3zM411.4 162.1H415.5V166.3H411.4zM229.7 166.3H233.8V170.4H229.7zM361.9 166.3H366.0V170.4H361.9zM76.9 170.4H81.0V174.6H76.9zM407.3 170.4H411.4V174.6H407.3zM361.9 174.6H366.0V178.7H361.9zM407.3 174.6H411.4V178.7H407.3zM204.9 178.7H209.0V182.8H204.9zM361.9 178.7H366.0V182.8H361.9zM419.7 178.7H423.8V182.8H419.7zM151.2 187.0H155.3V191.1H151.2zM159.5 187.0H163.6V191.1H159.5zM200.8 187.0H204.9V191.1H200.8zM180.1 191.1H184.3V195.3H180.1zM258.6 195.3H262.7V199.4H258.6zM52.1 199.4H56.2V203.5H52.1zM155.3 199.4H159.5V203.5H155.3zM353.6 199.4H357.7V203.5H353.6zM200.8 203.5H204.9V207.7H200.8zM328.8 203.5H332.9V207.7H328.8zM105.8 207.7H109.9V211.8H105.8zM349.5 207.7H353.6V211.8H349.5zM345.3 211.8H349.5V216.0H345.3zM357.7 211.8H361.9V216.0H357.7zM118.2 216.0H122.3V220.1H118.2zM60.4 220.1H64.5V224.2H60.4zM390.8 220.1H394.9V224.2H390.8zM56.2 224.2H60.4V228.4H56.2zM176.0 224.2H184.3V228.4H176.0zM394.9 224.2H399.0V228.4H394.9zM299.9 232.5H304.0V236.7H299.9zM159.5 236.7H163.6V240.8H159.5zM254.5 249.1H258.6V253.2H254.5zM271.0 249.1H275.1V253.2H271.0zM184.3 253.2H188.4V257.4H184.3zM246.2 257.4H250.3V261.5H246.2zM262.7 265.6H271.0V269.8H262.7zM122.3 273.9H126.4V278.1H122.3zM105.8 278.1H109.9V282.2H105.8zM250.3 278.1H258.6V282.2H250.3zM399.0 282.2H407.3V286.3H399.0zM72.8 286.3H76.9V290.5H72.8zM167.7 294.6H176.0V298.8H167.7zM159.5 298.8H163.6V302.9H159.5zM171.9 298.8H176.0V302.9H171.9zM180.1 298.8H184.3V302.9H180.1zM188.4 298.8H192.5V302.9H188.4zM180.1 302.9H184.3V307.0H180.1zM167.7 307.0H171.9V311.2H167.7zM180.1 307.0H184.3V311.2H180.1zM196.6 307.0H200.8V311.2H196.6zM374.2 311.2H378.4V315.3H374.2zM374.2 315.3H378.4V319.5H374.2zM184.3 319.5H188.4V323.6H184.3z"/>
<path fill="#86ff79" d="M114.0 33.8H118.2V37.9H114.0zM370.1 33.8H374.2V37.9H370.1zM287.5 37.9H291.6V42.1H287.5zM283.4 42.1H291.6V46.2H283.4zM407.3 42.1H411.4V46.2H407.3zM242.1 46.2H246.2V50.4H242.1zM275.1 46.2H279.2V50.4H275.1zM109.9 50.4H114.0V54.5H109.9zM246.2 50.4H250.3V54.5H246.2zM291.6 54.5H295.8V58.6H291.6zM411.4 54.5H415.5V58.6H411.4zM151.2 58.6H155.3V62.8H151.2zM192.5 58.6H196.6V62.8H192.5zM295.8 58.6H299.9V62.8H295.8zM81.0 66.9H85.1V71.1H81.0zM143.0 66.9H147.1V71.1H143.0zM155.3 66.9H159.5V71.1H155.3zM188.4 66.9H192.5V71.1H188.4zM143.0 71.1H147.1V75.2H143.0zM155.3 71.1H159.5V75.2H155.3zM250.3 75.2H254.5V79.3H250.3zM204.9 79.3H209.0V83.5H204.9zM130.6 83.5H134.7V87.6H130.6zM151.2 83.5H155.3V87.6H151.2zM122.3 87.6H126.4V91.8H122.3zM68.6 91.8H72.8V95.9H68.6zM357.7 91.8H361.9V95.9H357.7zM130.6 95.9H138.8V100.0H130.6zM386.6 95.9H390.8V100.0H386.6zM324.7 100.0H328.8V104.2H324.7zM407.3 112.5H411.4V116.6H407.3zM279.2 120.7H283.4V124.9H279.2zM390.8 137.3H394.9V141.4H390.8zM382.5 141.4H386.6V145.6H382.5zM403.2 141.4H407.3V145.6H403.2zM411.4 141.4H415.5V145.6H411.4zM407.3 145.6H419.7V149.7H407.3zM221.4 166.3H229.7V170.4H221.4zM370.1 166.3H374.2V170.4H370.1zM386.6 174.6H394.9V178.7H386.6zM370.1 178.7H382.5V182.8H370.1zM382.5 182.8H386.6V187.0H382.5zM217.3 187.0H225.6V191.1H217.3zM386.6 187.0H390.8V191.1H386.6zM423.8 187.0H427.9V191.1H423.8zM167.7 191.1H171.9V195.3H167.7zM217.3 191.1H221.4V195.3H217.3zM390.8 191.1H394.9V195.3H390.8zM357.7 195.3H361.9V199.4H357.7zM68.6 199.4H72.8V203.5H68.6zM217.3 203.5H221.4V207.7H217.3zM324.7 203.5H328.8V207.7H324.7zM328.8 207.7H332.9V211.8H328.8zM390.8 207.7H394.9V211.8H390.8zM64.5 220.1H68.6V224.2H64.5zM308.2 224.2H324.7V228.4H308.2zM332.9 224.2H337.1V228.4H332.9zM403.2 224.2H407.3V228.4H403.2zM411.4 224.2H415.5V228.4H411.4zM295.8 228.4H299.9V232.5H295.8zM163.6 232.5H167.7V236.7H163.6zM93.4 240.8H97.5V244.9H93.4zM159.5 240.8H163.6V244.9H159.5zM89.3 244.9H93.4V249.1H89.3zM258.6 253.2H266.9V257.4H258.6zM254.5 257.4H258.6V261.5H254.5zM138.8 269.8H143.0V273.9H138.8zM192.5 269.8H196.6V273.9H192.5zM114.0 278.1H118.2V282.2H114.0zM254.5 282.2H258.6V286.3H254.5zM76.9 286.3H81.0V290.5H76.9zM233.8 286.3H242.1V290.5H233.8zM68.6 290.5H72.8V294.6H68.6zM184.3 290.5H188.4V294.6H184.3zM386.6 290.5H390.8V294.6H386.6zM403.2 290.5H407.3V294.6H403.2zM64.5 294.6H68.6V298.8H64.5zM159.5 294.6H163.6V298.8H159.5zM60.4 298.8H64.5V302.9H60.4zM378.4 302.9H382.5V307.0H378.4zM147.1 315.3H151.2V319.5H147.1zM378.4 319.5H382.5V323.6H378.4z"/>
<path fill="#6cff93" d="M118.2 33.8H122.3V37.9H118.2zM64.5 37.9H68.6V42.1H64.5zM118.2 37.9H122.3V42.1H118.2zM209.0 42.1H213.2V46.2H209.0zM72.8 46.2H76.9V50.4H72.8zM114.0 46.2H118.2V50.4H114.0zM237.9 46.2H242.1V50.4H237.9zM122.3 54.5H126.4V58.6H122.3zM246.2 54.5H254.5V58.6H246.2zM134.7 58.6H143.0V62.8H134.7zM192.5 62.8H196.6V66.9H192.5zM192.5 66.9H196.6V71.1H192.5zM250.3 71.1H254.5V75.2H250.3zM76.9 75.2H81.0V79.3H76.9zM258.6 75.2H262.7V79.3H258.6zM217.3 79.3H221.4V83.5H217.3zM423.8 79.3H427.9V83.5H423.8zM138.8 83.5H143.0V87.6H138.8zM143.0 87.6H147.1V91.8H143.0zM52.1 91.8H60.4V95.9H52.1zM126.4 91.8H130.6V95.9H126.4zM138.8 91.8H143.0V95.9H138.8zM250.3 95.9H254.5V100.0H250.3zM242.1 116.6H246.2V120.7H242.1zM415.5 116.6H419.7V120.7H415.5zM386.6 141.4H390.8V145.6H386.6zM394.9 141.4H399.0V145.6H394.9zM229.7 149.7H233.8V153.9H229.7zM64.5 153.9H72.8V158.0H64.5zM225.6 153.9H229.7V158.0H225.6zM221.4 158.0H225.6V162.1H221.4zM403.2 162.1H407.3V166.3H403.2zM308.2 166.3H312.3V170.4H308.2zM382.5 170.4H386.6V174.6H382.5zM370.1 182.8H374.2V187.0H370.1zM320.6 187.0H324.7V191.1H320.6zM407.3 187.0H415.5V191.1H407.3zM204.9 191.1H209.0V195.3H204.9zM76.9 199.4H81.0V203.5H76.9zM64.5 211.8H68.6V216.0H64.5zM394.9 211.8H399.0V216.0H394.9zM101.7 216.0H105.8V220.1H101.7zM399.0 220.1H403.2V224.2H399.0zM64.5 224.2H68.6V228.4H64.5zM97.5 224.2H101.7V228.4H97.5zM299.9 224.2H304.0V228.4H299.9zM167.7 286.3H171.9V290.5H167.7zM180.1 286.3H184.3V290.5H180.1zM279.2 298.8H283.4V302.9H279.2zM287.5 298.8H291.6V302.9H287.5zM423.8 307.0H427.9V311.2H423.8zM52.1 319.5H56.2V323.6H52.1zM147.1 319.5H151.2V323.6H147.1z"/>
<path fill="#66ff99" d="M122.3 33.8H126.4V37.9H122.3zM233.8 33.8H237.9V37.9H233.8zM122.3 37.9H126.4V42.1H122.3zM118.2 42.1H122.3V46.2H118.2zM118.2 50.4H122.3V54.5H118.2zM237.9 50.4H242.1V54.5H237.9zM275.1 50.4H279.2V54.5H275.1zM283.4 50.4H287.5V54.5H283.4zM143.0 54.5H147.1V58.6H143.0zM242.1 54.5H246.2V58.6H242.1zM254.5 54.5H258.6V58.6H254.5zM287.5 54.5H291.6V58.6H287.5zM291.6 58.6H295.8V62.8H291.6zM81.0 62.8H85.1V66.9H81.0zM242.1 66.9H246.2V71.1H242.1zM233.8 71.1H237.9V75.2H233.8zM262.7 75.2H266.9V79.3H262.7zM209.0 79.3H213.2V83.5H209.0zM262.7 79.3H266.9V83.5H262.7zM143.0 83.5H147.1V87.6H143.0zM258.6 83.5H262.7V87.6H258.6zM130.6 87.6H134.7V91.8H130.6zM130.6 91.8H138.8V95.9H130.6zM415.5 91.8H419.7V95.9H415.5zM423.8 100.0H427.9V104.2H423.8zM225.6 137.3H229.7V141.4H225.6zM423.8 137.3H427.9V141.4H423.8zM390.8 141.4H394.9V145.6H390.8zM423.8 141.4H427.9V145.6H423.8zM403.2 149.7H407.3V153.9H403.2zM316.4 158.0H320.6V162.1H316.4zM72.8 166.3H76.9V170.4H72.8zM328.8 166.3H332.9V170.4H328.8zM64.5 170.4H68.6V174.6H64.5zM287.5 170.4H291.6V174.6H287.5zM328.8 170.4H332.9V174.6H328.8zM394.9 170.4H399.0V174.6H394.9zM324.7 178.7H328.8V182.8H324.7zM374.2 182.8H378.4V187.0H374.2zM266.9 187.0H271.0V191.1H266.9zM361.9 191.1H366.0V195.3H361.9zM399.0 191.1H403.2V195.3H399.0zM423.8 191.1H427.9V195.3H423.8zM176.0 195.3H180.1V199.4H176.0zM204.9 195.3H209.0V199.4H204.9zM357.7 199.4H361.9V203.5H357.7zM394.9 199.4H399.0V203.5H394.9zM163.6 203.5H167.7V207.7H163.6zM382.5 203.5H386.6V207.7H382.5zM394.9 203.5H399.0V207.7H394.9zM64.5 207.7H68.6V211.8H64.5zM93.4 207.7H97.5V211.8H93.4zM324.7 207.7H328.8V211.8H324.7zM378.4 207.7H382.5V211.8H378.4zM394.9 207.7H399.0V211.8H394.9zM279.2 211.8H283.4V216.0H279.2zM328.8 211.8H332.9V216.0H328.8zM97.5 216.0H101.7V220.1H97.5zM332.9 216.0H337.1V220.1H332.9zM93.4 220.1H109.9V224.2H93.4zM312.3 220.1H316.4V224.2H312.3zM332.9 220.1H337.1V224.2H332.9zM415.5 220.1H419.7V224.2H415.5zM291.6 224.2H295.8V228.4H291.6zM188.4 269.8H192.5V273.9H188.4zM217.3 282.2H221.4V286.3H217.3zM184.3 286.3H188.4V290.5H184.3zM221.4 286.3H225.6V290.5H221.4zM386.6 294.6H390.8V298.8H386.6zM382.5 298.8H386.6V302.9H382.5zM411.4 298.8H415.5V302.9H411.4zM200.8 302.9H204.9V307.0H200.8zM221.4 302.9H229.7V307.0H221.4zM415.5 302.9H419.7V307.0H415.5zM419.7 307.0H423.8V311.2H419.7zM233.8 311.2H237.9V315.3H233.8zM56.2 319.5H60.4V323.6H56.2zM287.5 319.5H291.6V323.6H287.5zM60.4 323.6H64.5V327.7H60.4z"/>
<path fill="#60ff9f" d="M126.4 33.8H130.6V37.9H126.4zM213.2 33.8H217.3V37.9H213.2zM374.2 33.8H378.4V37.9H374.2zM126.4 37.9H130.6V42.1H126.4zM213.2 37.9H217.3V42.1H213.2zM233.8 37.9H237.9V42.1H233.8zM122.3 42.1H126.4V46.2H122.3zM233.8 42.1H237.9V46.2H233.8zM118.2 46.2H122.3V50.4H118.2zM361.9 46.2H366.0V50.4H361.9zM143.0 50.4H147.1V54.5H143.0zM279.2 50.4H283.4V54.5H279.2zM407.3 50.4H411.4V54.5H407.3zM81.0 54.5H85.1V58.6H81.0zM126.4 54.5H130.6V58.6H126.4zM138.8 54.5H143.0V58.6H138.8zM258.6 54.5H262.7V58.6H258.6zM237.9 66.9H242.1V71.1H237.9zM246.2 66.9H250.3V71.1H246.2zM254.5 71.1H271.0V75.2H254.5zM200.8 75.2H204.9V79.3H200.8zM225.6 75.2H229.7V79.3H225.6zM266.9 75.2H271.0V79.3H266.9zM213.2 79.3H217.3V83.5H213.2zM134.7 87.6H143.0V91.8H134.7zM415.5 87.6H419.7V91.8H415.5zM378.4 91.8H382.5V95.9H378.4zM403.2 104.2H407.3V108.3H403.2zM411.4 112.5H415.5V116.6H411.4zM287.5 116.6H291.6V120.7H287.5zM229.7 137.3H233.8V141.4H229.7zM229.7 145.6H233.8V149.7H229.7zM382.5 145.6H386.6V149.7H382.5zM399.0 145.6H403.2V149.7H399.0zM374.2 153.9H378.4V158.0H374.2zM403.2 153.9H407.3V158.0H403.2zM403.2 158.0H407.3V162.1H403.2zM374.2 162.1H378.4V166.3H374.2zM378.4 166.3H382.5V170.4H378.4zM386.6 170.4H390.8V174.6H386.6zM209.0 187.0H213.2V191.1H209.0zM366.0 187.0H370.1V191.1H366.0zM213.2 191.1H217.3V195.3H213.2zM382.5 191.1H386.6V195.3H382.5zM419.7 191.1H423.8V195.3H419.7zM266.9 195.3H271.0V199.4H266.9zM89.3 203.5H93.4V207.7H89.3zM167.7 203.5H171.9V207.7H167.7zM320.6 203.5H324.7V207.7H320.6zM357.7 203.5H361.9V207.7H357.7zM93.4 211.8H97.5V216.0H93.4zM93.4 216.0H97.5V220.1H93.4zM308.2 220.1H312.3V224.2H308.2zM316.4 220.1H320.6V224.2H316.4zM93.4 224.2H97.5V228.4H93.4zM295.8 224.2H299.9V228.4H295.8zM93.4 236.7H97.5V240.8H93.4zM180.1 236.7H184.3V240.8H180.1zM184.3 261.5H188.4V265.6H184.3zM192.5 273.9H200.8V278.1H192.5zM101.7 282.2H105.8V286.3H101.7zM85.1 286.3H89.3V290.5H85.1zM192.5 290.5H196.6V294.6H192.5zM229.7 290.5H237.9V294.6H229.7zM196.6 294.6H200.8V298.8H196.6zM262.7 294.6H266.9V298.8H262.7zM403.2 294.6H407.3V298.8H403.2zM283.4 298.8H287.5V302.9H283.4zM60.4 302.9H64.5V307.0H60.4zM147.1 302.9H151.2V307.0H147.1zM52.1 307.0H56.2V311.2H52.1zM143.0 311.2H147.1V315.3H143.0zM52.1 315.3H60.4V319.5H52.1zM60.4 319.5H64.5V323.6H60.4zM382.5 323.6H386.6V327.7H382.5z"/>
<path fill="#79ff86" d="M147.1 33.8H151.2V37.9H147.1zM147.1 37.9H151.2V42.1H147.1zM209.0 37.9H213.2V42.1H209.0zM370.1 37.9H374.2V42.1H370.1zM147.1 42.1H151.2V46.2H147.1zM237.9 42.1H242.1V46.2H237.9zM147.1 46.2H151.2V50.4H147.1zM279.2 46.2H287.5V50.4H279.2zM407.3 46.2H411.4V50.4H407.3zM147.1 50.4H151.2V54.5H147.1zM242.1 50.4H246.2V54.5H242.1zM320.6 50.4H324.7V54.5H320.6zM147.1 54.5H151.2V58.6H147.1zM130.6 58.6H134.7V62.8H130.6zM147.1 58.6H151.2V62.8H147.1zM419.7 62.8H423.8V66.9H419.7zM242.1 71.1H246.2V75.2H242.1zM147.1 75.2H151.2V79.3H147.1zM229.7 75.2H233.8V79.3H229.7zM254.5 75.2H258.6V79.3H254.5zM76.9 83.5H81.0V87.6H76.9zM147.1 87.6H151.2V91.8H147.1zM254.5 87.6H258.6V91.8H254.5zM64.5 91.8H68.6V95.9H64.5zM143.0 91.8H147.1V95.9H143.0zM349.5 95.9H353.6V100.0H349.5zM304.0 112.5H308.2V116.6H304.0zM419.7 120.7H423.8V124.9H419.7zM237.9 124.9H242.1V129.0H237.9zM423.8 129.0H427.9V133.2H423.8zM229.7 133.2H233.8V137.3H229.7zM419.7 133.2H423.8V137.3H419.7zM233.8 137.3H237.9V141.4H233.8zM221.4 141.4H225.6V145.6H221.4zM399.0 141.4H403.2V145.6H399.0zM415.5 141.4H419.7V145.6H415.5zM378.4 145.6H382.5V149.7H378.4zM423.8 145.6H427.9V149.7H423.8zM52.1 153.9H56.2V158.0H52.1zM221.4 153.9H225.6V158.0H221.4zM76.9 158.0H81.0V162.1H76.9zM225.6 158.0H229.7V162.1H225.6zM221.4 162.1H225.6V166.3H221.4zM370.1 162.1H374.2V166.3H370.1zM374.2 166.3H378.4V170.4H374.2zM56.2 174.6H60.4V178.7H56.2zM213.2 178.7H217.3V182.8H213.2zM213.2 182.8H217.3V187.0H213.2zM221.4 182.8H225.6V187.0H221.4zM213.2 187.0H217.3V191.1H213.2zM415.5 187.0H419.7V191.1H415.5zM386.6 191.1H390.8V195.3H386.6zM394.9 191.1H399.0V195.3H394.9zM217.3 195.3H221.4V199.4H217.3zM180.1 199.4H184.3V203.5H180.1zM204.9 199.4H209.0V203.5H204.9zM386.6 199.4H390.8V203.5H386.6zM93.4 203.5H97.5V207.7H93.4zM180.1 203.5H184.3V207.7H180.1zM275.1 207.7H279.2V211.8H275.1zM357.7 207.7H361.9V211.8H357.7zM423.8 220.1H427.9V224.2H423.8zM304.0 224.2H308.2V228.4H304.0zM52.1 228.4H56.2V232.5H52.1zM97.5 228.4H101.7V232.5H97.5zM176.0 228.4H180.1V232.5H176.0zM180.1 232.5H184.3V236.7H180.1zM262.7 257.4H266.9V261.5H262.7zM204.9 269.8H209.0V273.9H204.9zM217.3 278.1H221.4V282.2H217.3zM258.6 286.3H262.7V290.5H258.6zM394.9 290.5H399.0V294.6H394.9zM192.5 294.6H196.6V298.8H192.5zM196.6 298.8H200.8V302.9H196.6zM275.1 298.8H279.2V302.9H275.1zM415.5 298.8H419.7V302.9H415.5zM52.1 302.9H56.2V307.0H52.1zM419.7 302.9H423.8V307.0H419.7zM204.9 307.0H213.2V311.2H204.9zM229.7 307.0H233.8V311.2H229.7zM378.4 307.0H382.5V311.2H378.4zM378.4 311.2H382.5V315.3H378.4zM151.2 323.6H155.3V327.7H151.2z"/>
<path fill="#acff53" d="M151.2 33.8H155.3V37.9H151.2zM204.9 33.8H209.0V37.9H204.9zM299.9 33.8H304.0V37.9H299.9zM72.8 37.9H76.9V42.1H72.8zM151.2 37.9H155.3V42.1H151.2zM204.9 37.9H209.0V42.1H204.9zM295.8 42.1H299.9V46.2H295.8zM361.9 42.1H366.0V46.2H361.9zM101.7 46.2H105.8V50.4H101.7zM200.8 46.2H204.9V50.4H200.8zM266.9 46.2H271.0V50.4H266.9zM89.3 50.4H93.4V54.5H89.3zM411.4 50.4H415.5V54.5H411.4zM163.6 58.6H167.7V62.8H163.6zM188.4 58.6H192.5V62.8H188.4zM304.0 58.6H308.2V62.8H304.0zM176.0 62.8H184.3V66.9H176.0zM134.7 66.9H138.8V71.1H134.7zM171.9 75.2H176.0V79.3H171.9zM163.6 79.3H167.7V83.5H163.6zM114.0 87.6H118.2V91.8H114.0zM151.2 91.8H155.3V95.9H151.2zM370.1 91.8H374.2V95.9H370.1zM200.8 108.3H204.9V112.5H200.8zM407.3 116.6H411.4V120.7H407.3zM411.4 120.7H415.5V124.9H411.4zM250.3 129.0H254.5V133.2H250.3zM386.6 133.2H390.8V137.3H386.6zM394.9 133.2H399.0V137.3H394.9zM237.9 137.3H242.1V141.4H237.9zM56.2 149.7H64.5V153.9H56.2zM68.6 149.7H72.8V153.9H68.6zM233.8 153.9H237.9V158.0H233.8zM316.4 153.9H320.6V158.0H316.4zM419.7 153.9H427.9V158.0H419.7zM217.3 158.0H221.4V162.1H217.3zM213.2 170.4H217.3V174.6H213.2zM361.9 170.4H366.0V174.6H361.9zM415.5 178.7H419.7V182.8H415.5zM266.9 182.8H271.0V187.0H266.9zM357.7 191.1H361.9V195.3H357.7zM151.2 195.3H155.3V199.4H151.2zM56.2 199.4H60.4V203.5H56.2zM159.5 199.4H163.6V203.5H159.5zM184.3 199.4H188.4V203.5H184.3zM52.1 207.7H56.2V211.8H52.1zM114.0 211.8H118.2V216.0H114.0zM60.4 216.0H64.5V220.1H60.4zM118.2 220.1H122.3V224.2H118.2zM283.4 224.2H287.5V228.4H283.4zM105.8 228.4H109.9V232.5H105.8zM308.2 228.4H312.3V232.5H308.2zM291.6 232.5H299.9V236.7H291.6zM97.5 236.7H101.7V240.8H97.5zM85.1 249.1H89.3V253.2H85.1zM258.6 249.1H271.0V253.2H258.6zM52.1 253.2H56.2V257.4H52.1zM68.6 253.2H72.8V257.4H68.6zM279.2 253.2H283.4V257.4H279.2zM279.2 257.4H283.4V261.5H279.2zM250.3 261.5H254.5V265.6H250.3zM275.1 261.5H279.2V265.6H275.1zM233.8 282.2H242.1V286.3H233.8zM386.6 286.3H390.8V290.5H386.6zM415.5 290.5H419.7V294.6H415.5zM176.0 294.6H180.1V298.8H176.0zM291.6 294.6H295.8V298.8H291.6zM52.1 298.8H56.2V302.9H52.1zM176.0 298.8H180.1V302.9H176.0zM171.9 302.9H176.0V307.0H171.9zM217.3 307.0H221.4V311.2H217.3zM225.6 307.0H229.7V311.2H225.6zM180.1 311.2H184.3V315.3H180.1zM163.6 315.3H167.7V319.5H163.6zM291.6 319.5H295.8V323.6H291.6zM184.3 323.6H188.4V327.7H184.3zM291.6 323.6H295.8V327.7H291.6z"/>
<path fill="#fff200" d="M159.5 33.8H163.6V37.9H159.5zM159.5 37.9H163.6V42.1H159.5zM196.6 42.1H200.8V46.2H196.6zM171.9 50.4H176.0V54.5H171.9zM114.0 62.8H118.2V66.9H114.0zM93.4 79.3H97.5V83.5H93.4zM105.8 79.3H109.9V83.5H105.8zM192.5 79.3H196.6V83.5H192.5zM233.8 83.5H242.1V87.6H233.8zM89.3 95.9H93.4V100.0H89.3zM56.2 100.0H64.5V104.2H56.2zM76.9 100.0H81.0V104.2H76.9zM114.0 100.0H118.2V104.2H114.0zM357.7 100.0H361.9V104.2H357.7zM130.6 108.3H134.7V112.5H130.6zM394.9 120.7H399.0V124.9H394.9zM262.7 129.0H266.9V133.2H262.7zM242.1 141.4H246.2V145.6H242.1zM361.9 149.7H366.0V153.9H361.9zM184.3 153.9H188.4V158.0H184.3zM85.1 158.0H89.3V162.1H85.1zM332.9 158.0H337.1V162.1H332.9zM209.0 162.1H213.2V166.3H209.0zM287.5 162.1H291.6V166.3H287.5zM200.8 166.3H204.9V170.4H200.8zM337.1 178.7H341.2V182.8H337.1zM72.8 182.8H76.9V187.0H72.8zM233.8 182.8H237.9V187.0H233.8zM332.9 182.8H337.1V187.0H332.9zM345.3 182.8H349.5V187.0H345.3zM229.7 187.0H237.9V191.1H229.7zM85.1 191.1H93.4V195.3H85.1zM233.8 191.1H237.9V195.3H233.8zM109.9 199.4H114.0V203.5H109.9zM143.0 199.4H147.1V203.5H143.0zM147.1 203.5H151.2V207.7H147.1zM237.9 203.5H242.1V207.7H237.9zM184.3 207.7H188.4V211.8H184.3zM192.5 207.7H196.6V211.8H192.5zM138.8 216.0H143.0V220.1H138.8zM147.1 216.0H151.2V220.1H147.1zM378.4 220.1H382.5V224.2H378.4zM138.8 224.2H155.3V228.4H138.8zM349.5 224.2H353.6V228.4H349.5zM382.5 224.2H386.6V228.4H382.5zM155.3 228.4H159.5V232.5H155.3zM109.9 232.5H114.0V236.7H109.9zM122.3 232.5H126.4V236.7H122.3zM155.3 232.5H159.5V236.7H155.3zM337.1 232.5H341.2V236.7H337.1zM399.0 232.5H403.2V236.7H399.0zM419.7 236.7H423.8V240.8H419.7zM304.0 240.8H308.2V244.9H304.0zM242.1 244.9H246.2V249.1H242.1zM52.1 257.4H60.4V261.5H52.1zM229.7 257.4H233.8V261.5H229.7zM204.9 261.5H209.0V265.6H204.9zM221.4 261.5H229.7V265.6H221.4zM122.3 269.8H126.4V273.9H122.3zM271.0 273.9H275.1V278.1H271.0zM382.5 273.9H386.6V278.1H382.5zM93.4 278.1H97.5V282.2H93.4zM291.6 282.2H295.8V286.3H291.6zM419.7 282.2H423.8V286.3H419.7zM295.8 286.3H299.9V290.5H295.8zM225.6 311.2H229.7V315.3H225.6zM196.6 319.5H200.8V323.6H196.6z"/>
<path fill="#ffcc00" d="M163.6 33.8H167.7V37.9H163.6zM353.6 37.9H357.7V42.1H353.6zM171.9 46.2H176.0V50.4H171.9zM101.7 62.8H105.8V66.9H101.7zM93.4 66.9H97.5V71.1H93.4zM93.4 71.1H97.5V75.2H93.4zM97.5 75.2H101.7V79.3H97.5zM109.9 75.2H114.0V79.3H109.9zM221.4 87.6H225.6V91.8H221.4zM89.3 100.0H93.4V104.2H89.3zM134.7 112.5H138.8V116.6H134.7zM209.0 116.6H213.2V120.7H209.0zM386.6 120.7H390.8V124.9H386.6zM200.8 124.9H204.9V129.0H200.8zM196.6 133.2H200.8V137.3H196.6zM246.2 137.3H250.3V141.4H246.2zM366.0 137.3H370.1V141.4H366.0zM167.7 145.6H171.9V149.7H167.7zM200.8 145.6H204.9V149.7H200.8zM171.9 149.7H176.0V153.9H171.9zM196.6 149.7H200.8V153.9H196.6zM312.3 149.7H316.4V153.9H312.3zM176.0 153.9H180.1V158.0H176.0zM196.6 153.9H200.8V158.0H196.6zM213.2 153.9H217.3V158.0H213.2zM196.6 158.0H204.9V162.1H196.6zM209.0 158.0H213.2V162.1H209.0zM304.0 158.0H308.2V162.1H304.0zM89.3 162.1H93.4V166.3H89.3zM283.4 162.1H287.5V166.3H283.4zM192.5 166.3H196.6V170.4H192.5zM188.4 174.6H192.5V178.7H188.4zM271.0 174.6H275.1V178.7H271.0zM81.0 178.7H85.1V182.8H81.0zM171.9 178.7H180.1V182.8H171.9zM262.7 178.7H266.9V182.8H262.7zM81.0 187.0H85.1V191.1H81.0zM138.8 187.0H143.0V191.1H138.8zM105.8 191.1H109.9V195.3H105.8zM332.9 191.1H337.1V195.3H332.9zM229.7 195.3H233.8V199.4H229.7zM233.8 203.5H237.9V207.7H233.8zM246.2 207.7H250.3V211.8H246.2zM370.1 220.1H374.2V224.2H370.1zM275.1 228.4H279.2V232.5H275.1zM138.8 232.5H143.0V236.7H138.8zM151.2 232.5H155.3V236.7H151.2zM357.7 232.5H366.0V236.7H357.7zM105.8 236.7H109.9V240.8H105.8zM126.4 236.7H130.6V240.8H126.4zM271.0 236.7H275.1V240.8H271.0zM386.6 236.7H390.8V240.8H386.6zM411.4 236.7H415.5V240.8H411.4zM242.1 240.8H246.2V244.9H242.1zM419.7 240.8H423.8V244.9H419.7zM229.7 249.1H233.8V253.2H229.7zM188.4 253.2H192.5V257.4H188.4zM130.6 265.6H134.7V269.8H130.6zM386.6 265.6H390.8V269.8H386.6zM407.3 269.8H411.4V273.9H407.3zM287.5 273.9H291.6V278.1H287.5zM283.4 278.1H287.5V282.2H283.4zM291.6 278.1H295.8V282.2H291.6zM52.1 290.5H56.2V294.6H52.1zM370.1 290.5H374.2V294.6H370.1z"/>
<path fill="#ffb300" d="M167.7 33.8H171.9V37.9H167.7zM167.7 37.9H171.9V42.1H167.7zM337.1 37.9H341.2V42.1H337.1zM349.5 37.9H353.6V42.1H349.5zM171.9 42.1H176.0V46.2H171.9zM180.1 46.2H188.4V50.4H180.1zM229.7 87.6H233.8V91.8H229.7zM97.5 100.0H105.8V104.2H97.5zM204.9 100.0H209.0V104.2H204.9zM85.1 104.2H89.3V108.3H85.1zM209.0 104.2H213.2V108.3H209.0zM337.1 104.2H341.2V108.3H337.1zM151.2 108.3H155.3V112.5H151.2zM122.3 116.6H126.4V120.7H122.3zM134.7 116.6H138.8V120.7H134.7zM184.3 116.6H188.4V120.7H184.3zM366.0 129.0H370.1V133.2H366.0zM184.3 133.2H188.4V137.3H184.3zM254.5 133.2H258.6V137.3H254.5zM209.0 145.6H213.2V149.7H209.0zM204.9 153.9H209.0V158.0H204.9zM295.8 158.0H299.9V162.1H295.8zM126.4 162.1H134.7V166.3H126.4zM180.1 166.3H184.3V170.4H180.1zM345.3 166.3H353.6V170.4H345.3zM184.3 170.4H188.4V174.6H184.3zM237.9 170.4H242.1V174.6H237.9zM171.9 174.6H184.3V178.7H171.9zM237.9 174.6H242.1V178.7H237.9zM258.6 178.7H262.7V182.8H258.6zM101.7 187.0H105.8V191.1H101.7zM134.7 191.1H138.8V195.3H134.7zM341.2 191.1H349.5V195.3H341.2zM200.8 224.2H204.9V228.4H200.8zM370.1 224.2H374.2V228.4H370.1zM361.9 228.4H370.1V232.5H361.9zM266.9 236.7H271.0V240.8H266.9zM341.2 236.7H345.3V240.8H341.2zM399.0 236.7H407.3V240.8H399.0zM308.2 244.9H312.3V249.1H308.2zM361.9 244.9H366.0V249.1H361.9zM386.6 244.9H390.8V249.1H386.6zM225.6 249.1H229.7V253.2H225.6zM382.5 249.1H386.6V253.2H382.5zM89.3 253.2H93.4V257.4H89.3zM143.0 253.2H147.1V257.4H143.0zM386.6 257.4H390.8V261.5H386.6zM382.5 261.5H386.6V265.6H382.5zM390.8 261.5H394.9V265.6H390.8zM126.4 265.6H130.6V269.8H126.4zM291.6 269.8H295.8V273.9H291.6zM411.4 269.8H415.5V273.9H411.4zM291.6 273.9H295.8V278.1H291.6zM295.8 278.1H299.9V282.2H295.8zM423.8 278.1H427.9V282.2H423.8zM279.2 282.2H283.4V286.3H279.2zM271.0 286.3H275.1V290.5H271.0zM299.9 294.6H304.0V298.8H299.9zM366.0 302.9H370.1V307.0H366.0zM361.9 315.3H366.0V319.5H361.9zM200.8 323.6H204.9V327.7H200.8zM320.6 323.6H324.7V327.7H320.6z"/>
<path fill="#ff9900" d="M171.9 33.8H176.0V37.9H171.9zM423.8 50.4H427.9V54.5H423.8zM192.5 83.5H196.6V87.6H192.5zM171.9 91.8H176.0V95.9H171.9zM52.1 104.2H60.4V108.3H52.1zM93.4 104.2H97.5V108.3H93.4zM109.9 104.2H114.0V108.3H109.9zM159.5 104.2H163.6V108.3H159.5zM155.3 108.3H159.5V112.5H155.3zM76.9 112.5H85.1V116.6H76.9zM122.3 120.7H126.4V124.9H122.3zM217.3 124.9H221.4V129.0H217.3zM213.2 129.0H217.3V133.2H213.2zM275.1 129.0H279.2V133.2H275.1zM361.9 133.2H366.0V137.3H361.9zM105.8 137.3H109.9V141.4H105.8zM209.0 137.3H213.2V141.4H209.0zM246.2 141.4H250.3V145.6H246.2zM320.6 141.4H328.8V145.6H320.6zM81.0 149.7H85.1V153.9H81.0zM332.9 149.7H337.1V153.9H332.9zM85.1 153.9H89.3V158.0H85.1zM353.6 153.9H357.7V158.0H353.6zM138.8 158.0H147.1V162.1H138.8zM337.1 158.0H341.2V162.1H337.1zM122.3 162.1H126.4V166.3H122.3zM126.4 166.3H130.6V170.4H126.4zM134.7 166.3H138.8V170.4H134.7zM163.6 166.3H180.1V170.4H163.6zM151.2 174.6H155.3V178.7H151.2zM159.5 174.6H163.6V178.7H159.5zM266.9 174.6H271.0V178.7H266.9zM246.2 178.7H254.5V182.8H246.2zM109.9 187.0H114.0V191.1H109.9zM225.6 203.5H229.7V207.7H225.6zM229.7 207.7H233.8V211.8H229.7zM246.2 211.8H250.3V216.0H246.2zM271.0 224.2H275.1V228.4H271.0zM271.0 228.4H275.1V232.5H271.0zM237.9 236.7H242.1V240.8H237.9zM250.3 236.7H254.5V240.8H250.3zM258.6 236.7H262.7V240.8H258.6zM324.7 236.7H328.8V240.8H324.7zM332.9 236.7H337.1V240.8H332.9zM105.8 240.8H109.9V244.9H105.8zM130.6 240.8H134.7V244.9H130.6zM143.0 240.8H147.1V244.9H143.0zM390.8 244.9H394.9V249.1H390.8zM143.0 249.1H147.1V253.2H143.0zM213.2 253.2H217.3V257.4H213.2zM304.0 253.2H308.2V257.4H304.0zM378.4 253.2H382.5V257.4H378.4zM200.8 257.4H204.9V261.5H200.8zM134.7 261.5H138.8V265.6H134.7zM374.2 265.6H378.4V269.8H374.2zM403.2 265.6H407.3V269.8H403.2zM295.8 273.9H299.9V278.1H295.8zM419.7 273.9H423.8V278.1H419.7zM68.6 282.2H72.8V286.3H68.6zM366.0 298.8H370.1V302.9H366.0zM357.7 323.6H361.9V327.7H357.7z"/>
<path fill="#ff8600" d="M176.0 33.8H180.1V37.9H176.0zM188.4 37.9H192.5V42.1H188.4zM213.2 91.8H217.3V95.9H213.2zM196.6 95.9H204.9V100.0H196.6zM209.0 100.0H213.2V104.2H209.0zM101.7 104.2H109.9V108.3H101.7zM72.8 112.5H76.9V116.6H72.8zM89.3 112.5H93.4V116.6H89.3zM213.2 112.5H217.3V116.6H213.2zM353.6 112.5H357.7V116.6H353.6zM147.1 116.6H151.2V120.7H147.1zM386.6 116.6H390.8V120.7H386.6zM76.9 120.7H85.1V124.9H76.9zM138.8 120.7H143.0V124.9H138.8zM308.2 120.7H312.3V124.9H308.2zM366.0 120.7H370.1V124.9H366.0zM213.2 124.9H217.3V129.0H213.2zM361.9 124.9H366.0V129.0H361.9zM209.0 129.0H213.2V133.2H209.0zM204.9 133.2H209.0V137.3H204.9zM258.6 133.2H262.7V137.3H258.6zM68.6 137.3H72.8V141.4H68.6zM180.1 137.3H184.3V141.4H180.1zM204.9 137.3H209.0V141.4H204.9zM250.3 137.3H254.5V141.4H250.3zM151.2 141.4H159.5V145.6H151.2zM316.4 141.4H320.6V145.6H316.4zM109.9 145.6H114.0V149.7H109.9zM246.2 149.7H250.3V153.9H246.2zM308.2 149.7H312.3V153.9H308.2zM143.0 153.9H147.1V158.0H143.0zM155.3 153.9H159.5V158.0H155.3zM246.2 153.9H250.3V158.0H246.2zM151.2 158.0H155.3V162.1H151.2zM353.6 158.0H357.7V162.1H353.6zM93.4 166.3H97.5V170.4H93.4zM122.3 166.3H126.4V170.4H122.3zM242.1 166.3H246.2V170.4H242.1zM271.0 170.4H275.1V174.6H271.0zM143.0 174.6H147.1V178.7H143.0zM105.8 182.8H109.9V187.0H105.8zM134.7 182.8H138.8V187.0H134.7zM225.6 207.7H229.7V211.8H225.6zM221.4 211.8H225.6V216.0H221.4zM229.7 211.8H233.8V216.0H229.7zM250.3 211.8H254.5V216.0H250.3zM262.7 211.8H266.9V216.0H262.7zM217.3 216.0H221.4V220.1H217.3zM233.8 216.0H237.9V220.1H233.8zM242.1 216.0H246.2V220.1H242.1zM266.9 216.0H271.0V220.1H266.9zM188.4 236.7H192.5V240.8H188.4zM316.4 240.8H320.6V244.9H316.4zM345.3 240.8H349.5V244.9H345.3zM312.3 244.9H316.4V249.1H312.3zM366.0 249.1H370.1V253.2H366.0zM419.7 249.1H423.8V253.2H419.7zM423.8 253.2H427.9V257.4H423.8zM60.4 261.5H64.5V265.6H60.4zM407.3 265.6H411.4V269.8H407.3zM93.4 273.9H97.5V278.1H93.4zM423.8 273.9H427.9V278.1H423.8zM304.0 290.5H308.2V294.6H304.0zM366.0 294.6H370.1V298.8H366.0zM299.9 307.0H304.0V311.2H299.9zM213.2 315.3H217.3V319.5H213.2zM225.6 315.3H229.7V319.5H225.6z"/>
<path fill="#ff7900" d="M180.1 33.8H184.3V37.9H180.1zM184.3 37.9H188.4V42.1H184.3zM176.0 91.8H180.1V95.9H176.0zM204.9 91.8H209.0V95.9H204.9zM221.4 91.8H225.6V95.9H221.4zM233.8 91.8H237.9V95.9H233.8zM192.5 95.9H196.6V100.0H192.5zM237.9 95.9H242.1V100.0H237.9zM237.9 100.0H242.1V104.2H237.9zM64.5 108.3H68.6V112.5H64.5zM159.5 108.3H163.6V112.5H159.5zM213.2 108.3H217.3V112.5H213.2zM155.3 112.5H159.5V116.6H155.3zM349.5 112.5H353.6V116.6H349.5zM72.8 120.7H76.9V124.9H72.8zM213.2 120.7H217.3V124.9H213.2zM312.3 120.7H316.4V124.9H312.3zM361.9 120.7H366.0V124.9H361.9zM114.0 124.9H130.6V129.0H114.0zM357.7 129.0H361.9V133.2H357.7zM180.1 133.2H184.3V137.3H180.1zM151.2 137.3H159.5V141.4H151.2zM114.0 145.6H118.2V149.7H114.0zM332.9 145.6H337.1V149.7H332.9zM349.5 149.7H353.6V153.9H349.5zM118.2 153.9H122.3V158.0H118.2zM159.5 153.9H163.6V158.0H159.5zM337.1 153.9H341.2V158.0H337.1zM349.5 153.9H353.6V158.0H349.5zM93.4 158.0H97.5V162.1H93.4zM155.3 158.0H159.5V162.1H155.3zM118.2 162.1H122.3V166.3H118.2zM345.3 162.1H349.5V166.3H345.3zM147.1 166.3H151.2V170.4H147.1zM93.4 170.4H97.5V174.6H93.4zM126.4 170.4H130.6V174.6H126.4zM138.8 170.4H155.3V174.6H138.8zM138.8 174.6H143.0V178.7H138.8zM262.7 174.6H266.9V178.7H262.7zM93.4 178.7H97.5V182.8H93.4zM134.7 178.7H138.8V182.8H134.7zM109.9 182.8H114.0V187.0H109.9zM130.6 187.0H134.7V191.1H130.6zM225.6 211.8H229.7V216.0H225.6zM229.7 216.0H233.8V220.1H229.7zM213.2 220.1H217.3V224.2H213.2zM233.8 232.5H237.9V236.7H233.8zM229.7 236.7H233.8V240.8H229.7zM109.9 240.8H114.0V244.9H109.9zM225.6 240.8H229.7V244.9H225.6zM399.0 240.8H403.2V244.9H399.0zM138.8 244.9H143.0V249.1H138.8zM188.4 244.9H192.5V249.1H188.4zM361.9 249.1H366.0V253.2H361.9zM192.5 253.2H196.6V257.4H192.5zM374.2 253.2H378.4V257.4H374.2zM299.9 265.6H304.0V269.8H299.9zM411.4 265.6H415.5V269.8H411.4zM101.7 269.8H105.8V273.9H101.7zM419.7 269.8H423.8V273.9H419.7zM316.4 286.3H324.7V290.5H316.4zM320.6 315.3H324.7V319.5H320.6zM304.0 319.5H308.2V323.6H304.0zM229.7 323.6H233.8V327.7H229.7z"/>
<path fill="#ff7300" d="M184.3 33.8H188.4V37.9H184.3zM225.6 91.8H229.7V95.9H225.6zM370.1 100.0H374.2V104.2H370.1zM386.6 104.2H390.8V108.3H386.6zM109.9 108.3H114.0V112.5H109.9zM180.1 108.3H184.3V112.5H180.1zM361.9 108.3H366.0V112.5H361.9zM68.6 112.5H72.8V116.6H68.6zM93.4 112.5H97.5V116.6H93.4zM320.6 112.5H324.7V116.6H320.6zM114.0 116.6H118.2V120.7H114.0zM151.2 116.6H155.3V120.7H151.2zM357.7 116.6H361.9V120.7H357.7zM89.3 120.7H93.4V124.9H89.3zM114.0 120.7H118.2V124.9H114.0zM147.1 120.7H151.2V124.9H147.1zM316.4 120.7H320.6V124.9H316.4zM76.9 124.9H81.0V129.0H76.9zM109.9 124.9H114.0V129.0H109.9zM130.6 124.9H134.7V129.0H130.6zM279.2 129.0H283.4V133.2H279.2zM72.8 137.3H76.9V141.4H72.8zM320.6 137.3H328.8V141.4H320.6zM159.5 141.4H163.6V145.6H159.5zM105.8 145.6H109.9V149.7H105.8zM147.1 145.6H151.2V149.7H147.1zM353.6 145.6H357.7V149.7H353.6zM126.4 153.9H130.6V158.0H126.4zM291.6 153.9H304.0V158.0H291.6zM159.5 158.0H163.6V162.1H159.5zM279.2 158.0H283.4V162.1H279.2zM341.2 158.0H345.3V162.1H341.2zM151.2 162.1H155.3V166.3H151.2zM155.3 170.4H163.6V174.6H155.3zM242.1 170.4H246.2V174.6H242.1zM93.4 174.6H97.5V178.7H93.4zM134.7 174.6H138.8V178.7H134.7zM254.5 211.8H262.7V216.0H254.5zM221.4 216.0H229.7V220.1H221.4zM246.2 216.0H250.3V220.1H246.2zM233.8 220.1H237.9V224.2H233.8zM209.0 224.2H213.2V228.4H209.0zM266.9 228.4H271.0V232.5H266.9zM192.5 232.5H196.6V236.7H192.5zM246.2 232.5H250.3V236.7H246.2zM262.7 232.5H266.9V236.7H262.7zM114.0 240.8H118.2V244.9H114.0zM188.4 240.8H192.5V244.9H188.4zM407.3 240.8H411.4V244.9H407.3zM105.8 244.9H109.9V249.1H105.8zM134.7 244.9H138.8V249.1H134.7zM217.3 244.9H221.4V249.1H217.3zM394.9 244.9H399.0V249.1H394.9zM138.8 249.1H143.0V253.2H138.8zM213.2 249.1H217.3V253.2H213.2zM97.5 253.2H101.7V257.4H97.5zM138.8 253.2H143.0V257.4H138.8zM308.2 253.2H312.3V257.4H308.2zM85.1 257.4H89.3V261.5H85.1zM374.2 257.4H378.4V261.5H374.2zM394.9 257.4H399.0V261.5H394.9zM299.9 273.9H304.0V278.1H299.9zM81.0 278.1H85.1V282.2H81.0zM64.5 282.2H68.6V286.3H64.5zM308.2 286.3H312.3V290.5H308.2zM316.4 290.5H320.6V294.6H316.4zM324.7 290.5H328.8V294.6H324.7zM324.7 315.3H328.8V319.5H324.7zM312.3 319.5H316.4V323.6H312.3zM204.9 323.6H209.0V327.7H204.9z"/>
<path fill="#ff8000" d="M188.4 33.8H192.5V37.9H188.4zM180.1 37.9H184.3V42.1H180.1zM180.1 87.6H184.3V91.8H180.1zM209.0 91.8H213.2V95.9H209.0zM217.3 91.8H221.4V95.9H217.3zM204.9 95.9H209.0V100.0H204.9zM184.3 100.0H188.4V104.2H184.3zM378.4 100.0H382.5V104.2H378.4zM93.4 108.3H97.5V112.5H93.4zM390.8 108.3H394.9V112.5H390.8zM114.0 112.5H118.2V116.6H114.0zM357.7 112.5H361.9V116.6H357.7zM390.8 112.5H394.9V116.6H390.8zM72.8 116.6H76.9V120.7H72.8zM89.3 116.6H93.4V120.7H89.3zM213.2 116.6H217.3V120.7H213.2zM85.1 120.7H89.3V124.9H85.1zM143.0 120.7H147.1V124.9H143.0zM221.4 120.7H225.6V124.9H221.4zM105.8 129.0H109.9V133.2H105.8zM114.0 129.0H118.2V133.2H114.0zM114.0 133.2H118.2V137.3H114.0zM357.7 133.2H361.9V137.3H357.7zM114.0 137.3H118.2V141.4H114.0zM357.7 137.3H361.9V141.4H357.7zM114.0 141.4H118.2V145.6H114.0zM328.8 141.4H332.9V145.6H328.8zM357.7 141.4H361.9V145.6H357.7zM159.5 145.6H163.6V149.7H159.5zM147.1 149.7H151.2V153.9H147.1zM159.5 149.7H163.6V153.9H159.5zM122.3 153.9H126.4V158.0H122.3zM118.2 158.0H122.3V162.1H118.2zM171.9 158.0H176.0V162.1H171.9zM246.2 158.0H250.3V162.1H246.2zM147.1 162.1H151.2V166.3H147.1zM143.0 166.3H147.1V170.4H143.0zM130.6 170.4H138.8V174.6H130.6zM242.1 174.6H246.2V178.7H242.1zM114.0 187.0H118.2V191.1H114.0zM122.3 191.1H130.6V195.3H122.3zM200.8 228.4H204.9V232.5H200.8zM237.9 232.5H246.2V236.7H237.9zM118.2 240.8H122.3V244.9H118.2zM221.4 244.9H225.6V249.1H221.4zM415.5 244.9H419.7V249.1H415.5zM101.7 249.1H105.8V253.2H101.7zM209.0 253.2H213.2V257.4H209.0zM304.0 257.4H308.2V261.5H304.0zM130.6 261.5H134.7V265.6H130.6zM374.2 261.5H378.4V265.6H374.2zM114.0 265.6H118.2V269.8H114.0zM304.0 282.2H308.2V286.3H304.0zM52.1 286.3H56.2V290.5H52.1zM320.6 290.5H324.7V294.6H320.6zM357.7 315.3H361.9V319.5H357.7zM308.2 323.6H312.3V327.7H308.2z"/>
<path fill="#ff9f00" d="M192.5 33.8H196.6V37.9H192.5zM349.5 33.8H353.6V37.9H349.5zM171.9 37.9H176.0V42.1H171.9zM341.2 37.9H349.5V42.1H341.2zM176.0 42.1H180.1V46.2H176.0zM188.4 42.1H192.5V46.2H188.4zM105.8 66.9H109.9V71.1H105.8zM105.8 71.1H109.9V75.2H105.8zM184.3 83.5H188.4V87.6H184.3zM60.4 104.2H64.5V108.3H60.4zM72.8 108.3H76.9V112.5H72.8zM85.1 108.3H89.3V112.5H85.1zM357.7 108.3H361.9V112.5H357.7zM118.2 112.5H122.3V116.6H118.2zM147.1 112.5H151.2V116.6H147.1zM233.8 112.5H237.9V116.6H233.8zM138.8 116.6H143.0V120.7H138.8zM229.7 116.6H233.8V120.7H229.7zM126.4 120.7H134.7V124.9H126.4zM374.2 120.7H378.4V124.9H374.2zM184.3 124.9H188.4V129.0H184.3zM366.0 124.9H370.1V129.0H366.0zM109.9 133.2H114.0V137.3H109.9zM200.8 133.2H204.9V137.3H200.8zM200.8 137.3H204.9V141.4H200.8zM361.9 137.3H366.0V141.4H361.9zM72.8 141.4H76.9V145.6H72.8zM109.9 141.4H114.0V145.6H109.9zM122.3 158.0H126.4V162.1H122.3zM134.7 158.0H138.8V162.1H134.7zM163.6 158.0H167.7V162.1H163.6zM176.0 158.0H180.1V162.1H176.0zM138.8 162.1H143.0V166.3H138.8zM176.0 162.1H180.1V166.3H176.0zM242.1 162.1H246.2V166.3H242.1zM279.2 162.1H283.4V166.3H279.2zM130.6 166.3H134.7V170.4H130.6zM171.9 170.4H180.1V174.6H171.9zM155.3 174.6H159.5V178.7H155.3zM254.5 178.7H258.6V182.8H254.5zM89.3 182.8H93.4V187.0H89.3zM134.7 187.0H138.8V191.1H134.7zM114.0 191.1H118.2V195.3H114.0zM122.3 195.3H130.6V199.4H122.3zM217.3 211.8H221.4V216.0H217.3zM233.8 211.8H237.9V216.0H233.8zM213.2 216.0H217.3V220.1H213.2zM271.0 220.1H275.1V224.2H271.0zM361.9 224.2H366.0V228.4H361.9zM196.6 228.4H200.8V232.5H196.6zM242.1 236.7H250.3V240.8H242.1zM262.7 236.7H266.9V240.8H262.7zM126.4 240.8H130.6V244.9H126.4zM349.5 240.8H353.6V244.9H349.5zM188.4 249.1H192.5V253.2H188.4zM221.4 249.1H225.6V253.2H221.4zM374.2 249.1H378.4V253.2H374.2zM423.8 249.1H427.9V253.2H423.8zM196.6 257.4H200.8V261.5H196.6zM390.8 257.4H394.9V261.5H390.8zM378.4 261.5H382.5V265.6H378.4zM122.3 265.6H126.4V269.8H122.3zM295.8 265.6H299.9V269.8H295.8zM370.1 273.9H374.2V278.1H370.1zM85.1 278.1H89.3V282.2H85.1zM275.1 282.2H279.2V286.3H275.1zM275.1 286.3H279.2V290.5H275.1zM299.9 298.8H304.0V302.9H299.9zM361.9 311.2H366.0V315.3H361.9zM204.9 319.5H209.0V323.6H204.9zM320.6 319.5H324.7V323.6H320.6zM324.7 323.6H328.8V327.7H324.7z"/>
<path fill="#ffd200" d="M196.6 33.8H200.8V37.9H196.6zM258.6 33.8H262.7V37.9H258.6zM163.6 37.9H167.7V42.1H163.6zM332.9 37.9H337.1V42.1H332.9zM114.0 71.1H118.2V75.2H114.0zM213.2 87.6H221.4V91.8H213.2zM109.9 100.0H114.0V104.2H109.9zM196.6 100.0H204.9V104.2H196.6zM242.1 100.0H246.2V104.2H242.1zM143.0 108.3H147.1V112.5H143.0zM394.9 108.3H399.0V112.5H394.9zM126.4 112.5H134.7V116.6H126.4zM394.9 116.6H399.0V120.7H394.9zM374.2 124.9H378.4V129.0H374.2zM196.6 129.0H200.8V133.2H196.6zM213.2 137.3H217.3V141.4H213.2zM242.1 153.9H246.2V158.0H242.1zM357.7 153.9H361.9V158.0H357.7zM192.5 158.0H196.6V162.1H192.5zM192.5 162.1H200.8V166.3H192.5zM279.2 166.3H283.4V170.4H279.2zM353.6 166.3H357.7V170.4H353.6zM192.5 170.4H196.6V174.6H192.5zM159.5 178.7H163.6V182.8H159.5zM167.7 178.7H171.9V182.8H167.7zM180.1 178.7H184.3V182.8H180.1zM143.0 182.8H147.1V187.0H143.0zM246.2 182.8H250.3V187.0H246.2zM337.1 182.8H341.2V187.0H337.1zM332.9 187.0H337.1V191.1H332.9zM349.5 187.0H353.6V191.1H349.5zM109.9 195.3H114.0V199.4H109.9zM349.5 195.3H353.6V199.4H349.5zM118.2 199.4H122.3V203.5H118.2zM341.2 199.4H345.3V203.5H341.2zM134.7 203.5H143.0V207.7H134.7zM237.9 207.7H242.1V211.8H237.9zM275.1 224.2H279.2V228.4H275.1zM353.6 232.5H357.7V236.7H353.6zM366.0 232.5H370.1V236.7H366.0zM353.6 236.7H357.7V240.8H353.6zM101.7 240.8H105.8V244.9H101.7zM151.2 240.8H155.3V244.9H151.2zM246.2 240.8H262.7V244.9H246.2zM308.2 240.8H312.3V244.9H308.2zM357.7 240.8H361.9V244.9H357.7zM382.5 240.8H386.6V244.9H382.5zM304.0 244.9H308.2V249.1H304.0zM225.6 253.2H229.7V257.4H225.6zM68.6 257.4H72.8V261.5H68.6zM143.0 257.4H147.1V261.5H143.0zM217.3 257.4H221.4V261.5H217.3zM295.8 257.4H299.9V261.5H295.8zM287.5 269.8H291.6V273.9H287.5zM378.4 269.8H382.5V273.9H378.4zM374.2 273.9H378.4V278.1H374.2zM287.5 278.1H291.6V282.2H287.5zM283.4 282.2H287.5V286.3H283.4zM295.8 282.2H299.9V286.3H295.8zM275.1 290.5H279.2V294.6H275.1zM221.4 311.2H225.6V315.3H221.4zM200.8 319.5H204.9V323.6H200.8z"/>
<path fill="#80ff80" d="M209.0 33.8H213.2V37.9H209.0zM237.9 33.8H242.1V37.9H237.9zM114.0 37.9H118.2V42.1H114.0zM237.9 37.9H242.1V42.1H237.9zM366.0 42.1H370.1V46.2H366.0zM109.9 46.2H114.0V50.4H109.9zM287.5 46.2H291.6V50.4H287.5zM357.7 46.2H361.9V50.4H357.7zM81.0 50.4H85.1V54.5H81.0zM200.8 50.4H204.9V54.5H200.8zM266.9 50.4H271.0V54.5H266.9zM85.1 54.5H89.3V58.6H85.1zM118.2 54.5H122.3V58.6H118.2zM196.6 54.5H200.8V58.6H196.6zM316.4 54.5H320.6V58.6H316.4zM138.8 62.8H155.3V66.9H138.8zM147.1 66.9H155.3V71.1H147.1zM147.1 71.1H155.3V75.2H147.1zM192.5 71.1H196.6V75.2H192.5zM143.0 75.2H147.1V79.3H143.0zM151.2 75.2H155.3V79.3H151.2zM138.8 79.3H143.0V83.5H138.8zM151.2 79.3H155.3V83.5H151.2zM221.4 79.3H225.6V83.5H221.4zM419.7 83.5H423.8V87.6H419.7zM122.3 91.8H126.4V95.9H122.3zM419.7 95.9H423.8V100.0H419.7zM246.2 104.2H250.3V108.3H246.2zM423.8 124.9H427.9V129.0H423.8zM237.9 129.0H246.2V133.2H237.9zM233.8 133.2H237.9V137.3H233.8zM415.5 137.3H419.7V141.4H415.5zM233.8 141.4H237.9V145.6H233.8zM419.7 145.6H423.8V149.7H419.7zM374.2 149.7H378.4V153.9H374.2zM407.3 149.7H411.4V153.9H407.3zM72.8 153.9H76.9V158.0H72.8zM229.7 153.9H233.8V158.0H229.7zM320.6 153.9H324.7V158.0H320.6zM370.1 153.9H374.2V158.0H370.1zM407.3 153.9H411.4V158.0H407.3zM225.6 162.1H229.7V166.3H225.6zM328.8 162.1H332.9V166.3H328.8zM403.2 166.3H407.3V170.4H403.2zM378.4 170.4H382.5V174.6H378.4zM399.0 170.4H403.2V174.6H399.0zM60.4 174.6H64.5V178.7H60.4zM217.3 174.6H221.4V178.7H217.3zM328.8 174.6H332.9V178.7H328.8zM366.0 182.8H370.1V187.0H366.0zM204.9 187.0H209.0V191.1H204.9zM399.0 187.0H403.2V191.1H399.0zM419.7 187.0H423.8V191.1H419.7zM163.6 191.1H167.7V195.3H163.6zM221.4 191.1H225.6V195.3H221.4zM262.7 191.1H266.9V195.3H262.7zM320.6 191.1H324.7V195.3H320.6zM320.6 195.3H324.7V199.4H320.6zM390.8 195.3H394.9V199.4H390.8zM85.1 199.4H89.3V203.5H85.1zM217.3 199.4H221.4V203.5H217.3zM390.8 199.4H394.9V203.5H390.8zM386.6 203.5H394.9V207.7H386.6zM97.5 207.7H101.7V211.8H97.5zM382.5 207.7H386.6V211.8H382.5zM101.7 211.8H105.8V216.0H101.7zM332.9 211.8H337.1V216.0H332.9zM64.5 216.0H68.6V220.1H64.5zM109.9 216.0H114.0V220.1H109.9zM337.1 216.0H341.2V220.1H337.1zM337.1 220.1H341.2V224.2H337.1zM105.8 224.2H109.9V228.4H105.8zM287.5 224.2H291.6V228.4H287.5zM324.7 224.2H332.9V228.4H324.7zM407.3 224.2H411.4V228.4H407.3zM81.0 249.1H85.1V253.2H81.0zM155.3 249.1H159.5V253.2H155.3zM258.6 257.4H262.7V261.5H258.6zM266.9 257.4H271.0V261.5H266.9zM200.8 269.8H204.9V273.9H200.8zM209.0 269.8H213.2V273.9H209.0zM97.5 282.2H101.7V286.3H97.5zM221.4 282.2H225.6V286.3H221.4zM250.3 282.2H254.5V286.3H250.3zM229.7 286.3H233.8V290.5H229.7zM163.6 290.5H167.7V294.6H163.6zM390.8 290.5H394.9V294.6H390.8zM399.0 290.5H403.2V294.6H399.0zM382.5 294.6H386.6V298.8H382.5zM411.4 294.6H415.5V298.8H411.4zM423.8 302.9H427.9V307.0H423.8zM378.4 315.3H382.5V319.5H378.4z"/>
<path fill="#4dffb2" d="M221.4 33.8H229.7V37.9H221.4zM378.4 33.8H382.5V37.9H378.4zM130.6 37.9H134.7V42.1H130.6zM217.3 37.9H229.7V42.1H217.3zM403.2 37.9H407.3V42.1H403.2zM130.6 42.1H134.7V46.2H130.6zM229.7 42.1H233.8V46.2H229.7zM68.6 46.2H72.8V50.4H68.6zM126.4 46.2H130.6V50.4H126.4zM209.0 46.2H213.2V50.4H209.0zM126.4 50.4H130.6V54.5H126.4zM204.9 50.4H209.0V54.5H204.9zM345.3 50.4H349.5V54.5H345.3zM275.1 54.5H283.4V58.6H275.1zM254.5 58.6H258.6V62.8H254.5zM250.3 62.8H254.5V66.9H250.3zM299.9 62.8H308.2V66.9H299.9zM233.8 66.9H237.9V71.1H233.8zM254.5 66.9H266.9V71.1H254.5zM275.1 66.9H279.2V71.1H275.1zM275.1 71.1H279.2V75.2H275.1zM262.7 83.5H266.9V87.6H262.7zM64.5 87.6H68.6V91.8H64.5zM254.5 91.8H258.6V95.9H254.5zM390.8 95.9H394.9V100.0H390.8zM275.1 120.7H279.2V124.9H275.1zM394.9 145.6H399.0V149.7H394.9zM399.0 149.7H403.2V153.9H399.0zM60.4 158.0H64.5V162.1H60.4zM72.8 162.1H76.9V166.3H72.8zM68.6 166.3H72.8V170.4H68.6zM283.4 174.6H287.5V178.7H283.4zM320.6 182.8H324.7V187.0H320.6zM370.1 187.0H374.2V191.1H370.1zM209.0 191.1H213.2V195.3H209.0zM266.9 191.1H271.0V195.3H266.9zM407.3 191.1H415.5V195.3H407.3zM213.2 195.3H217.3V199.4H213.2zM271.0 199.4H275.1V203.5H271.0zM213.2 203.5H217.3V207.7H213.2zM320.6 207.7H324.7V211.8H320.6zM374.2 207.7H378.4V211.8H374.2zM68.6 216.0H72.8V220.1H68.6zM89.3 216.0H93.4V220.1H89.3zM419.7 216.0H423.8V220.1H419.7zM89.3 224.2H93.4V228.4H89.3zM163.6 236.7H167.7V240.8H163.6zM60.4 249.1H64.5V253.2H60.4zM147.1 265.6H151.2V269.8H147.1zM134.7 273.9H138.8V278.1H134.7zM188.4 273.9H192.5V278.1H188.4zM204.9 273.9H209.0V278.1H204.9zM192.5 278.1H196.6V282.2H192.5zM213.2 282.2H217.3V286.3H213.2zM192.5 286.3H196.6V290.5H192.5zM254.5 286.3H258.6V290.5H254.5zM196.6 290.5H200.8V294.6H196.6zM221.4 290.5H225.6V294.6H221.4zM258.6 290.5H262.7V294.6H258.6zM200.8 298.8H204.9V302.9H200.8zM229.7 302.9H233.8V307.0H229.7zM287.5 302.9H291.6V307.0H287.5zM411.4 302.9H415.5V307.0H411.4zM60.4 307.0H64.5V311.2H60.4zM382.5 307.0H386.6V311.2H382.5zM60.4 311.2H64.5V315.3H60.4zM382.5 311.2H386.6V315.3H382.5zM419.7 311.2H423.8V315.3H419.7zM64.5 319.5H68.6V323.6H64.5zM237.9 323.6H242.1V327.7H237.9zM283.4 323.6H287.5V327.7H283.4z"/>
<path fill="#a6ff59" d="M242.1 33.8H246.2V37.9H242.1zM109.9 37.9H114.0V42.1H109.9zM366.0 37.9H370.1V42.1H366.0zM151.2 42.1H155.3V46.2H151.2zM81.0 46.2H85.1V50.4H81.0zM246.2 46.2H250.3V50.4H246.2zM101.7 50.4H105.8V54.5H101.7zM316.4 50.4H320.6V54.5H316.4zM109.9 54.5H114.0V58.6H109.9zM122.3 58.6H126.4V62.8H122.3zM130.6 62.8H134.7V66.9H130.6zM171.9 62.8H176.0V66.9H171.9zM184.3 62.8H188.4V66.9H184.3zM180.1 71.1H188.4V75.2H180.1zM81.0 75.2H85.1V79.3H81.0zM81.0 79.3H85.1V83.5H81.0zM81.0 87.6H85.1V91.8H81.0zM76.9 91.8H81.0V95.9H76.9zM361.9 91.8H366.0V95.9H361.9zM353.6 95.9H357.7V100.0H353.6zM399.0 104.2H403.2V108.3H399.0zM312.3 108.3H316.4V112.5H312.3zM200.8 112.5H204.9V116.6H200.8zM233.8 124.9H237.9V129.0H233.8zM229.7 129.0H233.8V133.2H229.7zM390.8 133.2H394.9V137.3H390.8zM411.4 133.2H415.5V137.3H411.4zM64.5 149.7H68.6V153.9H64.5zM370.1 149.7H374.2V153.9H370.1zM366.0 153.9H370.1V158.0H366.0zM415.5 153.9H419.7V158.0H415.5zM328.8 158.0H332.9V162.1H328.8zM411.4 158.0H415.5V162.1H411.4zM81.0 162.1H85.1V166.3H81.0zM217.3 166.3H221.4V170.4H217.3zM407.3 166.3H411.4V170.4H407.3zM283.4 170.4H287.5V174.6H283.4zM209.0 174.6H213.2V178.7H209.0zM225.6 174.6H229.7V178.7H225.6zM403.2 174.6H407.3V178.7H403.2zM60.4 178.7H64.5V182.8H60.4zM328.8 178.7H332.9V182.8H328.8zM407.3 178.7H415.5V182.8H407.3zM361.9 182.8H366.0V187.0H361.9zM155.3 187.0H159.5V191.1H155.3zM60.4 199.4H64.5V203.5H60.4zM93.4 199.4H97.5V203.5H93.4zM324.7 199.4H328.8V203.5H324.7zM52.1 203.5H56.2V207.7H52.1zM184.3 203.5H188.4V207.7H184.3zM56.2 207.7H60.4V211.8H56.2zM332.9 207.7H337.1V211.8H332.9zM341.2 211.8H345.3V216.0H341.2zM361.9 211.8H366.0V216.0H361.9zM382.5 211.8H390.8V216.0H382.5zM56.2 253.2H68.6V257.4H56.2zM151.2 253.2H155.3V257.4H151.2zM143.0 265.6H147.1V269.8H143.0zM229.7 282.2H233.8V286.3H229.7zM258.6 282.2H262.7V286.3H258.6zM390.8 286.3H394.9V290.5H390.8zM407.3 286.3H411.4V290.5H407.3zM163.6 294.6H167.7V298.8H163.6zM180.1 294.6H184.3V298.8H180.1zM378.4 294.6H382.5V298.8H378.4zM423.8 294.6H427.9V298.8H423.8zM56.2 298.8H60.4V302.9H56.2zM176.0 302.9H180.1V307.0H176.0zM167.7 311.2H171.9V315.3H167.7zM151.2 315.3H155.3V319.5H151.2zM180.1 315.3H184.3V319.5H180.1z"/>
<path fill="#ffff00" d="M250.3 33.8H254.5V37.9H250.3zM159.5 42.1H163.6V46.2H159.5zM258.6 42.1H262.7V46.2H258.6zM332.9 42.1H337.1V46.2H332.9zM167.7 50.4H171.9V54.5H167.7zM419.7 54.5H423.8V58.6H419.7zM180.1 79.3H184.3V83.5H180.1zM171.9 83.5H176.0V87.6H171.9zM242.1 83.5H246.2V87.6H242.1zM122.3 104.2H126.4V108.3H122.3zM143.0 104.2H147.1V108.3H143.0zM204.9 104.2H209.0V108.3H204.9zM188.4 108.3H192.5V112.5H188.4zM312.3 112.5H316.4V116.6H312.3zM399.0 116.6H403.2V120.7H399.0zM200.8 120.7H204.9V124.9H200.8zM382.5 124.9H386.6V129.0H382.5zM221.4 129.0H225.6V133.2H221.4zM68.6 145.6H72.8V149.7H68.6zM217.3 145.6H221.4V149.7H217.3zM237.9 158.0H242.1V162.1H237.9zM308.2 158.0H312.3V162.1H308.2zM85.1 166.3H89.3V170.4H85.1zM337.1 170.4H341.2V174.6H337.1zM196.6 178.7H200.8V182.8H196.6zM349.5 182.8H353.6V187.0H349.5zM68.6 187.0H72.8V191.1H68.6zM353.6 187.0H357.7V191.1H353.6zM76.9 191.1H81.0V195.3H76.9zM101.7 195.3H105.8V199.4H101.7zM143.0 195.3H147.1V199.4H143.0zM332.9 199.4H337.1V203.5H332.9zM349.5 199.4H353.6V203.5H349.5zM242.1 203.5H246.2V207.7H242.1zM155.3 216.0H159.5V220.1H155.3zM200.8 216.0H204.9V220.1H200.8zM357.7 216.0H366.0V220.1H357.7zM134.7 220.1H138.8V224.2H134.7zM155.3 220.1H159.5V224.2H155.3zM279.2 232.5H283.4V236.7H279.2zM316.4 232.5H320.6V236.7H316.4zM407.3 232.5H411.4V236.7H407.3zM423.8 236.7H427.9V240.8H423.8zM246.2 244.9H250.3V249.1H246.2zM237.9 249.1H242.1V253.2H237.9zM295.8 249.1H299.9V253.2H295.8zM147.1 253.2H151.2V257.4H147.1zM209.0 261.5H213.2V265.6H209.0zM229.7 261.5H233.8V265.6H229.7zM225.6 265.6H233.8V269.8H225.6zM279.2 269.8H283.4V273.9H279.2zM266.9 273.9H271.0V278.1H266.9zM390.8 273.9H394.9V278.1H390.8zM213.2 311.2H217.3V315.3H213.2zM200.8 315.3H204.9V319.5H200.8zM295.8 315.3H299.9V319.5H295.8z"/>
<path fill="#ffdf00" d="M254.5 33.8H258.6V37.9H254.5zM258.6 37.9H262.7V42.1H258.6zM163.6 42.1H167.7V46.2H163.6zM167.7 46.2H171.9V50.4H167.7zM180.1 50.4H184.3V54.5H180.1zM423.8 54.5H427.9V58.6H423.8zM97.5 62.8H101.7V66.9H97.5zM89.3 71.1H93.4V75.2H89.3zM122.3 71.1H126.4V75.2H122.3zM114.0 75.2H122.3V79.3H114.0zM188.4 79.3H192.5V83.5H188.4zM118.2 104.2H122.3V108.3H118.2zM188.4 104.2H192.5V108.3H188.4zM349.5 104.2H357.7V108.3H349.5zM138.8 108.3H143.0V112.5H138.8zM209.0 108.3H213.2V112.5H209.0zM308.2 116.6H312.3V120.7H308.2zM291.6 120.7H295.8V124.9H291.6zM390.8 120.7H394.9V124.9H390.8zM188.4 133.2H192.5V137.3H188.4zM366.0 141.4H370.1V145.6H366.0zM242.1 145.6H246.2V149.7H242.1zM320.6 145.6H324.7V149.7H320.6zM192.5 149.7H196.6V153.9H192.5zM180.1 153.9H184.3V158.0H180.1zM188.4 158.0H192.5V162.1H188.4zM357.7 158.0H361.9V162.1H357.7zM200.8 162.1H204.9V166.3H200.8zM237.9 162.1H242.1V166.3H237.9zM196.6 166.3H200.8V170.4H196.6zM337.1 166.3H341.2V170.4H337.1zM85.1 170.4H89.3V174.6H85.1zM192.5 174.6H196.6V178.7H192.5zM155.3 178.7H159.5V182.8H155.3zM237.9 182.8H242.1V187.0H237.9zM229.7 191.1H233.8V195.3H229.7zM114.0 199.4H118.2V203.5H114.0zM233.8 199.4H237.9V203.5H233.8zM337.1 199.4H341.2V203.5H337.1zM126.4 203.5H130.6V207.7H126.4zM143.0 203.5H147.1V207.7H143.0zM254.5 203.5H262.7V207.7H254.5zM134.7 207.7H138.8V211.8H134.7zM138.8 211.8H147.1V216.0H138.8zM204.9 216.0H209.0V220.1H204.9zM200.8 220.1H204.9V224.2H200.8zM353.6 220.1H357.7V224.2H353.6zM374.2 220.1H378.4V224.2H374.2zM196.6 224.2H200.8V228.4H196.6zM143.0 228.4H147.1V232.5H143.0zM151.2 228.4H155.3V232.5H151.2zM378.4 232.5H386.6V236.7H378.4zM357.7 236.7H361.9V240.8H357.7zM415.5 236.7H419.7V240.8H415.5zM262.7 240.8H266.9V244.9H262.7zM361.9 240.8H366.0V244.9H361.9zM374.2 240.8H378.4V244.9H374.2zM423.8 240.8H427.9V244.9H423.8zM237.9 244.9H242.1V249.1H237.9zM93.4 249.1H97.5V253.2H93.4zM299.9 249.1H304.0V253.2H299.9zM85.1 253.2H89.3V257.4H85.1zM64.5 257.4H68.6V261.5H64.5zM291.6 261.5H295.8V265.6H291.6zM382.5 269.8H394.9V273.9H382.5zM403.2 269.8H407.3V273.9H403.2zM105.8 273.9H109.9V278.1H105.8zM279.2 273.9H283.4V278.1H279.2zM266.9 282.2H271.0V286.3H266.9zM271.0 290.5H275.1V294.6H271.0zM217.3 311.2H221.4V315.3H217.3z"/>
<path fill="#ffe500" d="M262.7 33.8H266.9V37.9H262.7zM254.5 37.9H258.6V42.1H254.5zM337.1 42.1H341.2V46.2H337.1zM192.5 46.2H196.6V50.4H192.5zM176.0 50.4H180.1V54.5H176.0zM184.3 50.4H188.4V54.5H184.3zM89.3 66.9H93.4V71.1H89.3zM122.3 66.9H126.4V71.1H122.3zM184.3 79.3H188.4V83.5H184.3zM200.8 83.5H204.9V87.6H200.8zM163.6 91.8H167.7V95.9H163.6zM97.5 95.9H105.8V100.0H97.5zM159.5 95.9H163.6V100.0H159.5zM366.0 95.9H370.1V100.0H366.0zM374.2 95.9H378.4V100.0H374.2zM155.3 100.0H159.5V104.2H155.3zM386.6 100.0H390.8V104.2H386.6zM233.8 116.6H237.9V120.7H233.8zM188.4 120.7H192.5V124.9H188.4zM229.7 120.7H233.8V124.9H229.7zM196.6 124.9H200.8V129.0H196.6zM192.5 129.0H196.6V133.2H192.5zM192.5 133.2H196.6V137.3H192.5zM250.3 133.2H254.5V137.3H250.3zM370.1 133.2H374.2V137.3H370.1zM188.4 137.3H196.6V141.4H188.4zM188.4 141.4H196.6V145.6H188.4zM72.8 145.6H76.9V149.7H72.8zM328.8 149.7H332.9V153.9H328.8zM184.3 158.0H188.4V162.1H184.3zM204.9 162.1H209.0V166.3H204.9zM192.5 178.7H196.6V182.8H192.5zM188.4 182.8H192.5V187.0H188.4zM72.8 187.0H76.9V191.1H72.8zM97.5 191.1H101.7V195.3H97.5zM147.1 207.7H151.2V211.8H147.1zM213.2 207.7H217.3V211.8H213.2zM266.9 207.7H271.0V211.8H266.9zM275.1 220.1H279.2V224.2H275.1zM138.8 228.4H143.0V232.5H138.8zM349.5 228.4H353.6V232.5H349.5zM382.5 228.4H386.6V232.5H382.5zM130.6 232.5H134.7V236.7H130.6zM324.7 232.5H332.9V236.7H324.7zM345.3 232.5H349.5V236.7H345.3zM386.6 232.5H394.9V236.7H386.6zM361.9 236.7H366.0V240.8H361.9zM378.4 236.7H382.5V240.8H378.4zM266.9 240.8H271.0V244.9H266.9zM366.0 240.8H374.2V244.9H366.0zM233.8 249.1H237.9V253.2H233.8zM229.7 253.2H233.8V257.4H229.7zM225.6 257.4H229.7V261.5H225.6zM134.7 265.6H138.8V269.8H134.7zM287.5 265.6H291.6V269.8H287.5zM394.9 269.8H403.2V273.9H394.9zM275.1 273.9H279.2V278.1H275.1zM411.4 273.9H415.5V278.1H411.4zM266.9 278.1H271.0V282.2H266.9zM374.2 278.1H378.4V282.2H374.2zM415.5 278.1H419.7V282.2H415.5zM76.9 282.2H81.0V286.3H76.9zM423.8 282.2H427.9V286.3H423.8zM204.9 315.3H209.0V319.5H204.9zM366.0 315.3H370.1V319.5H366.0zM196.6 323.6H200.8V327.7H196.6z"/>
<path fill="#f9ff06" d="M266.9 33.8H271.0V37.9H266.9zM250.3 37.9H254.5V42.1H250.3zM254.5 42.1H258.6V46.2H254.5zM353.6 42.1H357.7V46.2H353.6zM304.0 50.4H308.2V54.5H304.0zM415.5 50.4H419.7V54.5H415.5zM126.4 66.9H130.6V71.1H126.4zM126.4 75.2H130.6V79.3H126.4zM89.3 79.3H93.4V83.5H89.3zM114.0 79.3H118.2V83.5H114.0zM97.5 91.8H101.7V95.9H97.5zM85.1 95.9H89.3V100.0H85.1zM109.9 95.9H114.0V100.0H109.9zM361.9 95.9H366.0V100.0H361.9zM378.4 95.9H382.5V100.0H378.4zM151.2 100.0H155.3V104.2H151.2zM192.5 104.2H196.6V108.3H192.5zM188.4 112.5H192.5V116.6H188.4zM399.0 112.5H403.2V116.6H399.0zM304.0 116.6H308.2V120.7H304.0zM192.5 120.7H196.6V124.9H192.5zM399.0 120.7H403.2V124.9H399.0zM366.0 145.6H370.1V149.7H366.0zM291.6 162.1H295.8V166.3H291.6zM204.9 166.3H209.0V170.4H204.9zM200.8 170.4H204.9V174.6H200.8zM345.3 170.4H349.5V174.6H345.3zM337.1 174.6H341.2V178.7H337.1zM341.2 178.7H345.3V182.8H341.2zM229.7 182.8H233.8V187.0H229.7zM258.6 182.8H262.7V187.0H258.6zM242.1 187.0H246.2V191.1H242.1zM328.8 187.0H332.9V191.1H328.8zM72.8 191.1H76.9V195.3H72.8zM143.0 191.1H147.1V195.3H143.0zM353.6 191.1H357.7V195.3H353.6zM328.8 195.3H332.9V199.4H328.8zM237.9 199.4H242.1V203.5H237.9zM114.0 203.5H118.2V207.7H114.0zM341.2 203.5H345.3V207.7H341.2zM180.1 207.7H184.3V211.8H180.1zM196.6 207.7H200.8V211.8H196.6zM155.3 211.8H159.5V216.0H155.3zM204.9 211.8H209.0V216.0H204.9zM130.6 216.0H134.7V220.1H130.6zM159.5 216.0H163.6V220.1H159.5zM159.5 220.1H163.6V224.2H159.5zM349.5 220.1H353.6V224.2H349.5zM130.6 224.2H134.7V228.4H130.6zM126.4 228.4H130.6V232.5H126.4zM279.2 228.4H283.4V232.5H279.2zM345.3 228.4H349.5V232.5H345.3zM101.7 236.7H105.8V240.8H101.7zM279.2 236.7H283.4V240.8H279.2zM275.1 240.8H279.2V244.9H275.1zM81.0 253.2H85.1V257.4H81.0zM188.4 257.4H192.5V261.5H188.4zM233.8 257.4H237.9V261.5H233.8zM143.0 261.5H147.1V265.6H143.0zM192.5 261.5H196.6V265.6H192.5zM287.5 261.5H291.6V265.6H287.5zM233.8 265.6H237.9V269.8H233.8zM283.4 265.6H287.5V269.8H283.4zM229.7 269.8H233.8V273.9H229.7zM407.3 273.9H411.4V278.1H407.3zM378.4 278.1H382.5V282.2H378.4zM81.0 282.2H85.1V286.3H81.0zM374.2 286.3H378.4V290.5H374.2zM295.8 290.5H299.9V294.6H295.8zM295.8 298.8H299.9V302.9H295.8zM370.1 307.0H374.2V311.2H370.1zM295.8 319.5H299.9V323.6H295.8z"/>
<path fill="#d9ff26" d="M271.0 33.8H275.1V37.9H271.0zM361.9 37.9H366.0V42.1H361.9zM85.1 42.1H89.3V46.2H85.1zM93.4 42.1H97.5V46.2H93.4zM266.9 42.1H271.0V46.2H266.9zM308.2 42.1H312.3V46.2H308.2zM299.9 46.2H304.0V50.4H299.9zM312.3 46.2H316.4V50.4H312.3zM167.7 54.5H171.9V58.6H167.7zM188.4 54.5H192.5V58.6H188.4zM93.4 58.6H97.5V62.8H93.4zM423.8 58.6H427.9V62.8H423.8zM85.1 66.9H89.3V71.1H85.1zM130.6 75.2H134.7V79.3H130.6zM109.9 83.5H114.0V87.6H109.9zM221.4 83.5H225.6V87.6H221.4zM89.3 87.6H93.4V91.8H89.3zM85.1 91.8H89.3V95.9H85.1zM76.9 95.9H81.0V100.0H76.9zM114.0 95.9H118.2V100.0H114.0zM246.2 95.9H250.3V100.0H246.2zM390.8 100.0H394.9V104.2H390.8zM192.5 116.6H196.6V120.7H192.5zM299.9 116.6H304.0V120.7H299.9zM233.8 120.7H237.9V124.9H233.8zM229.7 124.9H233.8V129.0H229.7zM217.3 137.3H221.4V141.4H217.3zM237.9 149.7H242.1V153.9H237.9zM328.8 153.9H332.9V158.0H328.8zM233.8 162.1H237.9V166.3H233.8zM423.8 166.3H427.9V170.4H423.8zM200.8 178.7H204.9V182.8H200.8zM353.6 178.7H357.7V182.8H353.6zM64.5 182.8H68.6V187.0H64.5zM155.3 182.8H159.5V187.0H155.3zM262.7 182.8H266.9V187.0H262.7zM147.1 187.0H151.2V191.1H147.1zM254.5 187.0H258.6V191.1H254.5zM60.4 191.1H64.5V195.3H60.4zM184.3 191.1H188.4V195.3H184.3zM93.4 195.3H97.5V199.4H93.4zM196.6 195.3H200.8V199.4H196.6zM242.1 195.3H246.2V199.4H242.1zM101.7 199.4H105.8V203.5H101.7zM188.4 199.4H192.5V203.5H188.4zM328.8 199.4H332.9V203.5H328.8zM155.3 203.5H159.5V207.7H155.3zM196.6 203.5H200.8V207.7H196.6zM204.9 207.7H209.0V211.8H204.9zM122.3 211.8H126.4V216.0H122.3zM180.1 216.0H184.3V220.1H180.1zM192.5 216.0H196.6V220.1H192.5zM349.5 216.0H353.6V220.1H349.5zM176.0 220.1H180.1V224.2H176.0zM283.4 232.5H287.5V236.7H283.4zM308.2 232.5H312.3V236.7H308.2zM97.5 240.8H101.7V244.9H97.5zM283.4 240.8H287.5V244.9H283.4zM271.0 244.9H279.2V249.1H271.0zM151.2 249.1H155.3V253.2H151.2zM147.1 257.4H151.2V261.5H147.1zM283.4 261.5H287.5V265.6H283.4zM279.2 265.6H283.4V269.8H279.2zM221.4 269.8H225.6V273.9H221.4zM250.3 269.8H258.6V273.9H250.3zM266.9 269.8H271.0V273.9H266.9zM225.6 273.9H229.7V278.1H225.6zM242.1 273.9H246.2V278.1H242.1zM394.9 278.1H399.0V282.2H394.9zM275.1 294.6H279.2V298.8H275.1zM374.2 294.6H378.4V298.8H374.2zM155.3 307.0H159.5V311.2H155.3zM188.4 307.0H192.5V311.2H188.4zM188.4 311.2H192.5V315.3H188.4zM209.0 311.2H213.2V315.3H209.0z"/>
<path fill="#9fff60" d="M279.2 33.8H283.4V37.9H279.2zM295.8 33.8H299.9V37.9H295.8zM242.1 37.9H246.2V42.1H242.1zM295.8 37.9H299.9V42.1H295.8zM275.1 42.1H279.2V46.2H275.1zM151.2 46.2H155.3V50.4H151.2zM320.6 46.2H324.7V50.4H320.6zM328.8 46.2H332.9V50.4H328.8zM353.6 46.2H357.7V50.4H353.6zM89.3 54.5H93.4V58.6H89.3zM155.3 54.5H159.5V58.6H155.3zM159.5 58.6H163.6V62.8H159.5zM299.9 58.6H304.0V62.8H299.9zM308.2 58.6H312.3V62.8H308.2zM167.7 62.8H171.9V66.9H167.7zM81.0 71.1H85.1V75.2H81.0zM176.0 71.1H180.1V75.2H176.0zM188.4 71.1H192.5V75.2H188.4zM167.7 75.2H171.9V79.3H167.7zM237.9 75.2H246.2V79.3H237.9zM159.5 79.3H163.6V83.5H159.5zM225.6 79.3H229.7V83.5H225.6zM250.3 79.3H254.5V83.5H250.3zM81.0 83.5H85.1V87.6H81.0zM126.4 83.5H130.6V87.6H126.4zM155.3 83.5H159.5V87.6H155.3zM423.8 83.5H427.9V87.6H423.8zM419.7 87.6H423.8V91.8H419.7zM250.3 91.8H254.5V95.9H250.3zM419.7 91.8H423.8V95.9H419.7zM122.3 95.9H126.4V100.0H122.3zM143.0 95.9H147.1V100.0H143.0zM328.8 100.0H332.9V104.2H328.8zM242.1 112.5H246.2V116.6H242.1zM415.5 124.9H419.7V129.0H415.5zM415.5 129.0H419.7V133.2H415.5zM382.5 137.3H386.6V141.4H382.5zM403.2 137.3H411.4V141.4H403.2zM378.4 141.4H382.5V145.6H378.4zM374.2 145.6H378.4V149.7H374.2zM229.7 162.1H233.8V166.3H229.7zM291.6 166.3H295.8V170.4H291.6zM68.6 174.6H72.8V178.7H68.6zM279.2 174.6H283.4V178.7H279.2zM366.0 174.6H370.1V178.7H366.0zM390.8 178.7H407.3V182.8H390.8zM390.8 182.8H394.9V187.0H390.8zM419.7 182.8H427.9V187.0H419.7zM151.2 191.1H155.3V195.3H151.2zM200.8 191.1H204.9V195.3H200.8zM258.6 191.1H262.7V195.3H258.6zM200.8 199.4H204.9V203.5H200.8zM56.2 203.5H60.4V207.7H56.2zM221.4 203.5H225.6V207.7H221.4zM378.4 211.8H382.5V216.0H378.4zM279.2 216.0H283.4V220.1H279.2zM341.2 220.1H345.3V224.2H341.2zM114.0 224.2H118.2V228.4H114.0zM423.8 224.2H427.9V228.4H423.8zM287.5 228.4H291.6V232.5H287.5zM304.0 228.4H308.2V232.5H304.0zM250.3 253.2H254.5V257.4H250.3zM275.1 253.2H279.2V257.4H275.1zM275.1 257.4H279.2V261.5H275.1zM147.1 261.5H151.2V265.6H147.1zM254.5 261.5H258.6V265.6H254.5zM109.9 278.1H114.0V282.2H109.9zM221.4 278.1H225.6V282.2H221.4zM93.4 282.2H97.5V286.3H93.4zM242.1 282.2H246.2V286.3H242.1zM394.9 286.3H399.0V290.5H394.9zM403.2 286.3H407.3V290.5H403.2zM171.9 290.5H176.0V294.6H171.9zM411.4 290.5H415.5V294.6H411.4zM184.3 294.6H188.4V298.8H184.3zM266.9 294.6H271.0V298.8H266.9zM283.4 294.6H287.5V298.8H283.4zM419.7 294.6H423.8V298.8H419.7zM291.6 298.8H295.8V302.9H291.6zM171.9 307.0H180.1V311.2H171.9zM167.7 315.3H171.9V319.5H167.7zM291.6 315.3H295.8V319.5H291.6zM155.3 319.5H163.6V323.6H155.3zM180.1 319.5H184.3V323.6H180.1z"/>
<path fill="#8cff73" d="M283.4 33.8H295.8V37.9H283.4zM68.6 37.9H72.8V42.1H68.6zM283.4 37.9H287.5V42.1H283.4zM279.2 42.1H283.4V46.2H279.2zM76.9 46.2H81.0V50.4H76.9zM262.7 50.4H266.9V54.5H262.7zM151.2 54.5H155.3V58.6H151.2zM85.1 58.6H89.3V62.8H85.1zM126.4 58.6H130.6V62.8H126.4zM134.7 62.8H138.8V66.9H134.7zM155.3 62.8H159.5V66.9H155.3zM159.5 66.9H163.6V71.1H159.5zM159.5 71.1H167.7V75.2H159.5zM155.3 75.2H159.5V79.3H155.3zM254.5 79.3H258.6V83.5H254.5zM254.5 83.5H258.6V87.6H254.5zM76.9 87.6H81.0V91.8H76.9zM374.2 91.8H378.4V95.9H374.2zM126.4 95.9H130.6V100.0H126.4zM291.6 116.6H295.8V120.7H291.6zM411.4 116.6H415.5V120.7H411.4zM266.9 124.9H271.0V129.0H266.9zM419.7 124.9H423.8V129.0H419.7zM233.8 129.0H237.9V133.2H233.8zM419.7 129.0H423.8V133.2H419.7zM415.5 133.2H419.7V137.3H415.5zM386.6 137.3H390.8V141.4H386.6zM394.9 137.3H399.0V141.4H394.9zM407.3 141.4H411.4V145.6H407.3zM233.8 145.6H237.9V149.7H233.8zM221.4 149.7H225.6V153.9H221.4zM411.4 149.7H415.5V153.9H411.4zM407.3 158.0H411.4V162.1H407.3zM366.0 162.1H370.1V166.3H366.0zM76.9 166.3H81.0V170.4H76.9zM304.0 166.3H308.2V170.4H304.0zM72.8 170.4H76.9V174.6H72.8zM221.4 170.4H229.7V174.6H221.4zM374.2 170.4H378.4V174.6H374.2zM64.5 174.6H68.6V178.7H64.5zM213.2 174.6H217.3V178.7H213.2zM378.4 174.6H386.6V178.7H378.4zM394.9 174.6H399.0V178.7H394.9zM209.0 178.7H213.2V182.8H209.0zM217.3 178.7H225.6V182.8H217.3zM275.1 178.7H279.2V182.8H275.1zM403.2 182.8H415.5V187.0H403.2zM361.9 187.0H366.0V191.1H361.9zM394.9 187.0H399.0V191.1H394.9zM155.3 191.1H159.5V195.3H155.3zM171.9 191.1H176.0V195.3H171.9zM180.1 195.3H184.3V199.4H180.1zM89.3 199.4H93.4V203.5H89.3zM60.4 203.5H64.5V207.7H60.4zM204.9 203.5H209.0V207.7H204.9zM271.0 203.5H275.1V207.7H271.0zM60.4 207.7H64.5V211.8H60.4zM386.6 207.7H390.8V211.8H386.6zM105.8 211.8H109.9V216.0H105.8zM370.1 211.8H374.2V216.0H370.1zM390.8 211.8H394.9V216.0H390.8zM114.0 220.1H118.2V224.2H114.0zM283.4 220.1H287.5V224.2H283.4zM394.9 220.1H399.0V224.2H394.9zM109.9 224.2H114.0V228.4H109.9zM415.5 224.2H419.7V228.4H415.5zM167.7 228.4H171.9V232.5H167.7zM291.6 228.4H295.8V232.5H291.6zM97.5 232.5H101.7V236.7H97.5zM254.5 253.2H258.6V257.4H254.5zM266.9 253.2H271.0V257.4H266.9zM184.3 257.4H188.4V261.5H184.3zM271.0 257.4H275.1V261.5H271.0zM188.4 265.6H192.5V269.8H188.4zM196.6 269.8H200.8V273.9H196.6zM246.2 282.2H250.3V286.3H246.2zM407.3 290.5H411.4V294.6H407.3zM419.7 298.8H423.8V302.9H419.7zM147.1 307.0H151.2V311.2H147.1zM213.2 307.0H217.3V311.2H213.2zM151.2 319.5H155.3V323.6H151.2zM171.9 319.5H180.1V323.6H171.9zM155.3 323.6H159.5V327.7H155.3zM167.7 323.6H180.1V327.7H167.7zM378.4 323.6H382.5V327.7H378.4z"/>
<path fill="#bfff40" d="M304.0 33.8H308.2V37.9H304.0zM246.2 42.1H250.3V46.2H246.2zM299.9 42.1H304.0V46.2H299.9zM320.6 42.1H324.7V46.2H320.6zM250.3 46.2H254.5V50.4H250.3zM262.7 46.2H266.9V50.4H262.7zM337.1 46.2H341.2V50.4H337.1zM345.3 46.2H349.5V50.4H345.3zM295.8 50.4H299.9V54.5H295.8zM118.2 58.6H122.3V62.8H118.2zM184.3 58.6H188.4V62.8H184.3zM419.7 58.6H423.8V62.8H419.7zM167.7 79.3H171.9V83.5H167.7zM118.2 83.5H122.3V87.6H118.2zM423.8 87.6H427.9V91.8H423.8zM81.0 91.8H85.1V95.9H81.0zM423.8 91.8H427.9V95.9H423.8zM68.6 95.9H72.8V100.0H68.6zM382.5 95.9H386.6V100.0H382.5zM138.8 100.0H143.0V104.2H138.8zM341.2 100.0H345.3V104.2H341.2zM204.9 112.5H209.0V116.6H204.9zM283.4 120.7H287.5V124.9H283.4zM378.4 137.3H382.5V141.4H378.4zM217.3 141.4H221.4V145.6H217.3zM237.9 141.4H242.1V145.6H237.9zM217.3 153.9H221.4V158.0H217.3zM233.8 158.0H237.9V162.1H233.8zM419.7 158.0H423.8V162.1H419.7zM81.0 166.3H85.1V170.4H81.0zM411.4 166.3H415.5V170.4H411.4zM229.7 170.4H233.8V174.6H229.7zM411.4 170.4H415.5V174.6H411.4zM72.8 174.6H76.9V178.7H72.8zM415.5 174.6H419.7V178.7H415.5zM225.6 178.7H229.7V182.8H225.6zM56.2 182.8H60.4V187.0H56.2zM163.6 187.0H167.7V191.1H163.6zM64.5 195.3H85.1V199.4H64.5zM184.3 195.3H188.4V199.4H184.3zM324.7 195.3H328.8V199.4H324.7zM97.5 199.4H101.7V203.5H97.5zM345.3 207.7H349.5V211.8H345.3zM52.1 211.8H56.2V216.0H52.1zM275.1 211.8H279.2V216.0H275.1zM349.5 211.8H357.7V216.0H349.5zM345.3 216.0H349.5V220.1H345.3zM184.3 220.1H192.5V224.2H184.3zM184.3 224.2H188.4V228.4H184.3zM316.4 228.4H320.6V232.5H316.4zM407.3 228.4H411.4V232.5H407.3zM419.7 228.4H427.9V232.5H419.7zM287.5 232.5H291.6V236.7H287.5zM250.3 249.1H254.5V253.2H250.3zM279.2 249.1H283.4V253.2H279.2zM283.4 253.2H287.5V257.4H283.4zM188.4 261.5H192.5V265.6H188.4zM246.2 261.5H250.3V265.6H246.2zM279.2 261.5H283.4V265.6H279.2zM192.5 265.6H196.6V269.8H192.5zM254.5 265.6H258.6V269.8H254.5zM221.4 273.9H225.6V278.1H221.4zM89.3 282.2H93.4V286.3H89.3zM407.3 282.2H411.4V286.3H407.3zM262.7 286.3H266.9V290.5H262.7zM287.5 290.5H291.6V294.6H287.5zM423.8 290.5H427.9V294.6H423.8zM60.4 294.6H64.5V298.8H60.4zM279.2 294.6H283.4V298.8H279.2zM163.6 298.8H167.7V302.9H163.6zM374.2 302.9H378.4V307.0H374.2zM163.6 311.2H167.7V315.3H163.6zM229.7 311.2H233.8V315.3H229.7z"/>
<path fill="#c6ff39" d="M308.2 33.8H316.4V37.9H308.2zM304.0 37.9H308.2V42.1H304.0zM101.7 42.1H105.8V46.2H101.7zM316.4 42.1H320.6V46.2H316.4zM324.7 42.1H328.8V46.2H324.7zM89.3 46.2H97.5V50.4H89.3zM155.3 46.2H159.5V50.4H155.3zM341.2 46.2H345.3V50.4H341.2zM415.5 54.5H419.7V58.6H415.5zM171.9 58.6H176.0V62.8H171.9zM126.4 62.8H130.6V66.9H126.4zM180.1 75.2H184.3V79.3H180.1zM85.1 83.5H89.3V87.6H85.1zM213.2 83.5H217.3V87.6H213.2zM85.1 87.6H89.3V91.8H85.1zM109.9 87.6H114.0V91.8H109.9zM345.3 100.0H349.5V104.2H345.3zM196.6 116.6H204.9V120.7H196.6zM237.9 116.6H242.1V120.7H237.9zM407.3 120.7H411.4V124.9H407.3zM386.6 129.0H399.0V133.2H386.6zM407.3 129.0H411.4V133.2H407.3zM221.4 133.2H225.6V137.3H221.4zM374.2 141.4H378.4V145.6H374.2zM72.8 149.7H76.9V153.9H72.8zM361.9 158.0H366.0V162.1H361.9zM423.8 158.0H427.9V162.1H423.8zM415.5 162.1H419.7V166.3H415.5zM332.9 166.3H337.1V170.4H332.9zM209.0 170.4H213.2V174.6H209.0zM332.9 174.6H337.1V178.7H332.9zM345.3 174.6H353.6V178.7H345.3zM419.7 174.6H423.8V178.7H419.7zM60.4 182.8H64.5V187.0H60.4zM200.8 182.8H204.9V187.0H200.8zM167.7 187.0H171.9V191.1H167.7zM357.7 187.0H361.9V191.1H357.7zM147.1 191.1H151.2V195.3H147.1zM250.3 191.1H254.5V195.3H250.3zM324.7 191.1H328.8V195.3H324.7zM52.1 195.3H64.5V199.4H52.1zM85.1 195.3H89.3V199.4H85.1zM254.5 195.3H258.6V199.4H254.5zM262.7 199.4H266.9V203.5H262.7zM159.5 203.5H163.6V207.7H159.5zM349.5 203.5H353.6V207.7H349.5zM109.9 207.7H114.0V211.8H109.9zM341.2 207.7H345.3V211.8H341.2zM118.2 211.8H122.3V216.0H118.2zM109.9 228.4H114.0V232.5H109.9zM320.6 228.4H337.1V232.5H320.6zM403.2 228.4H407.3V232.5H403.2zM101.7 232.5H105.8V236.7H101.7zM304.0 232.5H308.2V236.7H304.0zM291.6 236.7H299.9V240.8H291.6zM283.4 249.1H287.5V253.2H283.4zM283.4 257.4H287.5V261.5H283.4zM200.8 265.6H204.9V269.8H200.8zM213.2 265.6H217.3V269.8H213.2zM250.3 265.6H254.5V269.8H250.3zM275.1 265.6H279.2V269.8H275.1zM242.1 278.1H246.2V282.2H242.1zM403.2 278.1H407.3V282.2H403.2zM390.8 282.2H394.9V286.3H390.8zM64.5 290.5H68.6V294.6H64.5zM291.6 290.5H295.8V294.6H291.6zM155.3 302.9H159.5V307.0H155.3zM184.3 302.9H188.4V307.0H184.3zM184.3 307.0H188.4V311.2H184.3zM184.3 311.2H188.4V315.3H184.3zM200.8 311.2H209.0V315.3H200.8zM233.8 319.5H237.9V323.6H233.8zM188.4 323.6H192.5V327.7H188.4z"/>
<path fill="#ccff33" d="M316.4 33.8H320.6V37.9H316.4zM76.9 37.9H81.0V42.1H76.9zM246.2 37.9H250.3V42.1H246.2zM308.2 37.9H320.6V42.1H308.2zM81.0 42.1H85.1V46.2H81.0zM200.8 42.1H204.9V46.2H200.8zM254.5 46.2H262.7V50.4H254.5zM411.4 46.2H415.5V50.4H411.4zM159.5 50.4H163.6V54.5H159.5zM163.6 54.5H167.7V58.6H163.6zM176.0 58.6H184.3V62.8H176.0zM130.6 66.9H134.7V71.1H130.6zM233.8 79.3H237.9V83.5H233.8zM242.1 79.3H246.2V83.5H242.1zM114.0 83.5H118.2V87.6H114.0zM163.6 83.5H167.7V87.6H163.6zM217.3 83.5H221.4V87.6H217.3zM155.3 91.8H159.5V95.9H155.3zM72.8 95.9H76.9V100.0H72.8zM151.2 95.9H155.3V100.0H151.2zM122.3 100.0H126.4V104.2H122.3zM204.9 108.3H209.0V112.5H204.9zM192.5 112.5H196.6V116.6H192.5zM225.6 129.0H229.7V133.2H225.6zM254.5 129.0H258.6V133.2H254.5zM399.0 129.0H403.2V133.2H399.0zM237.9 145.6H242.1V149.7H237.9zM370.1 145.6H374.2V149.7H370.1zM419.7 162.1H423.8V166.3H419.7zM213.2 166.3H217.3V170.4H213.2zM415.5 166.3H419.7V170.4H415.5zM415.5 170.4H419.7V174.6H415.5zM204.9 174.6H209.0V178.7H204.9zM357.7 174.6H361.9V178.7H357.7zM423.8 174.6H427.9V178.7H423.8zM349.5 178.7H353.6V182.8H349.5zM357.7 178.7H361.9V182.8H357.7zM171.9 187.0H176.0V191.1H171.9zM89.3 195.3H93.4V199.4H89.3zM246.2 195.3H254.5V199.4H246.2zM151.2 199.4H155.3V203.5H151.2zM56.2 216.0H60.4V220.1H56.2zM122.3 216.0H126.4V220.1H122.3zM56.2 220.1H60.4V224.2H56.2zM122.3 220.1H126.4V224.2H122.3zM180.1 220.1H184.3V224.2H180.1zM279.2 220.1H283.4V224.2H279.2zM345.3 220.1H349.5V224.2H345.3zM167.7 224.2H171.9V228.4H167.7zM390.8 224.2H394.9V228.4H390.8zM184.3 228.4H188.4V232.5H184.3zM283.4 228.4H287.5V232.5H283.4zM337.1 228.4H341.2V232.5H337.1zM287.5 236.7H291.6V240.8H287.5zM93.4 244.9H97.5V249.1H93.4zM287.5 249.1H291.6V253.2H287.5zM242.1 257.4H246.2V261.5H242.1zM196.6 265.6H200.8V269.8H196.6zM118.2 273.9H122.3V278.1H118.2zM101.7 278.1H105.8V282.2H101.7zM229.7 278.1H242.1V282.2H229.7zM258.6 278.1H262.7V282.2H258.6zM399.0 278.1H403.2V282.2H399.0zM386.6 282.2H390.8V286.3H386.6zM378.4 286.3H382.5V290.5H378.4zM415.5 286.3H419.7V290.5H415.5zM271.0 294.6H275.1V298.8H271.0zM374.2 298.8H378.4V302.9H374.2zM163.6 302.9H167.7V307.0H163.6zM188.4 302.9H192.5V307.0H188.4zM163.6 307.0H167.7V311.2H163.6zM188.4 319.5H192.5V323.6H188.4z"/>
<path fill="#ffec00" d="M328.8 33.8H332.9V37.9H328.8zM357.7 33.8H361.9V37.9H357.7zM262.7 37.9H266.9V42.1H262.7zM349.5 42.1H353.6V46.2H349.5zM93.4 62.8H97.5V66.9H93.4zM89.3 75.2H93.4V79.3H89.3zM122.3 75.2H126.4V79.3H122.3zM97.5 79.3H105.8V83.5H97.5zM167.7 87.6H171.9V91.8H167.7zM93.4 95.9H97.5V100.0H93.4zM105.8 95.9H109.9V100.0H105.8zM52.1 100.0H56.2V104.2H52.1zM81.0 100.0H85.1V104.2H81.0zM147.1 104.2H151.2V108.3H147.1zM126.4 108.3H130.6V112.5H126.4zM134.7 108.3H138.8V112.5H134.7zM209.0 112.5H213.2V116.6H209.0zM192.5 124.9H196.6V129.0H192.5zM225.6 124.9H229.7V129.0H225.6zM279.2 124.9H283.4V129.0H279.2zM378.4 124.9H382.5V129.0H378.4zM213.2 141.4H217.3V145.6H213.2zM176.0 145.6H180.1V149.7H176.0zM192.5 145.6H196.6V149.7H192.5zM180.1 149.7H192.5V153.9H180.1zM188.4 153.9H192.5V158.0H188.4zM213.2 158.0H217.3V162.1H213.2zM357.7 162.1H361.9V166.3H357.7zM196.6 170.4H200.8V174.6H196.6zM341.2 170.4H345.3V174.6H341.2zM81.0 174.6H85.1V178.7H81.0zM233.8 174.6H237.9V178.7H233.8zM76.9 178.7H81.0V182.8H76.9zM233.8 178.7H237.9V182.8H233.8zM184.3 182.8H188.4V187.0H184.3zM192.5 182.8H196.6V187.0H192.5zM254.5 182.8H258.6V187.0H254.5zM93.4 191.1H97.5V195.3H93.4zM105.8 195.3H109.9V199.4H105.8zM233.8 195.3H237.9V199.4H233.8zM122.3 203.5H126.4V207.7H122.3zM250.3 203.5H254.5V207.7H250.3zM130.6 207.7H134.7V211.8H130.6zM188.4 207.7H192.5V211.8H188.4zM134.7 211.8H138.8V216.0H134.7zM147.1 211.8H151.2V216.0H147.1zM209.0 211.8H213.2V216.0H209.0zM271.0 211.8H275.1V216.0H271.0zM143.0 216.0H147.1V220.1H143.0zM134.7 228.4H138.8V232.5H134.7zM114.0 232.5H122.3V236.7H114.0zM126.4 232.5H130.6V236.7H126.4zM320.6 232.5H324.7V236.7H320.6zM332.9 232.5H337.1V236.7H332.9zM341.2 232.5H345.3V236.7H341.2zM394.9 232.5H399.0V236.7H394.9zM275.1 236.7H279.2V240.8H275.1zM366.0 236.7H378.4V240.8H366.0zM97.5 244.9H101.7V249.1H97.5zM295.8 253.2H299.9V257.4H295.8zM60.4 257.4H64.5V261.5H60.4zM196.6 261.5H204.9V265.6H196.6zM283.4 269.8H287.5V273.9H283.4zM378.4 273.9H382.5V278.1H378.4zM287.5 282.2H291.6V286.3H287.5zM266.9 286.3H271.0V290.5H266.9zM283.4 286.3H287.5V290.5H283.4zM279.2 290.5H283.4V294.6H279.2zM370.1 298.8H374.2V302.9H370.1zM229.7 315.3H233.8V319.5H229.7zM366.0 319.5H370.1V323.6H366.0zM366.0 323.6H370.1V327.7H366.0z"/>
<path fill="#ffc600" d="M332.9 33.8H337.1V37.9H332.9zM167.7 42.1H171.9V46.2H167.7zM188.4 46.2H192.5V50.4H188.4zM419.7 50.4H423.8V54.5H419.7zM105.8 62.8H109.9V66.9H105.8zM171.9 87.6H176.0V91.8H171.9zM209.0 87.6H213.2V91.8H209.0zM72.8 104.2H81.0V108.3H72.8zM341.2 104.2H345.3V108.3H341.2zM357.7 104.2H361.9V108.3H357.7zM147.1 108.3H151.2V112.5H147.1zM217.3 129.0H221.4V133.2H217.3zM196.6 137.3H200.8V141.4H196.6zM52.1 141.4H68.6V145.6H52.1zM184.3 141.4H188.4V145.6H184.3zM196.6 141.4H200.8V145.6H196.6zM361.9 145.6H366.0V149.7H361.9zM332.9 153.9H337.1V158.0H332.9zM180.1 158.0H184.3V162.1H180.1zM204.9 158.0H209.0V162.1H204.9zM188.4 166.3H192.5V170.4H188.4zM237.9 166.3H242.1V170.4H237.9zM275.1 170.4H279.2V174.6H275.1zM147.1 178.7H151.2V182.8H147.1zM237.9 178.7H242.1V182.8H237.9zM85.1 187.0H89.3V191.1H85.1zM349.5 191.1H353.6V195.3H349.5zM122.3 199.4H126.4V203.5H122.3zM134.7 199.4H138.8V203.5H134.7zM213.2 211.8H217.3V216.0H213.2zM357.7 220.1H361.9V224.2H357.7zM353.6 224.2H357.7V228.4H353.6zM374.2 224.2H378.4V228.4H374.2zM192.5 228.4H196.6V232.5H192.5zM353.6 228.4H357.7V232.5H353.6zM374.2 228.4H378.4V232.5H374.2zM122.3 236.7H126.4V240.8H122.3zM130.6 236.7H134.7V240.8H130.6zM151.2 236.7H155.3V240.8H151.2zM349.5 236.7H353.6V240.8H349.5zM390.8 236.7H394.9V240.8H390.8zM233.8 244.9H237.9V249.1H233.8zM374.2 244.9H382.5V249.1H374.2zM299.9 253.2H304.0V257.4H299.9zM213.2 257.4H217.3V261.5H213.2zM138.8 261.5H143.0V265.6H138.8zM382.5 265.6H386.6V269.8H382.5zM390.8 265.6H394.9V269.8H390.8zM101.7 273.9H105.8V278.1H101.7zM89.3 278.1H93.4V282.2H89.3zM271.0 278.1H275.1V282.2H271.0zM419.7 278.1H423.8V282.2H419.7zM299.9 290.5H304.0V294.6H299.9zM366.0 307.0H370.1V311.2H366.0zM299.9 323.6H304.0V327.7H299.9zM361.9 323.6H366.0V327.7H361.9z"/>
<path fill="#ffa600" d="M337.1 33.8H341.2V37.9H337.1zM415.5 33.8H419.7V37.9H415.5zM192.5 37.9H196.6V42.1H192.5zM101.7 66.9H105.8V71.1H101.7zM101.7 71.1H105.8V75.2H101.7zM176.0 87.6H180.1V91.8H176.0zM188.4 100.0H192.5V104.2H188.4zM382.5 100.0H386.6V104.2H382.5zM89.3 104.2H93.4V108.3H89.3zM184.3 104.2H188.4V108.3H184.3zM76.9 108.3H85.1V112.5H76.9zM320.6 108.3H324.7V112.5H320.6zM349.5 108.3H353.6V112.5H349.5zM390.8 116.6H394.9V120.7H390.8zM184.3 120.7H188.4V124.9H184.3zM209.0 120.7H213.2V124.9H209.0zM225.6 120.7H229.7V124.9H225.6zM299.9 120.7H304.0V124.9H299.9zM204.9 124.9H209.0V129.0H204.9zM184.3 129.0H188.4V133.2H184.3zM109.9 137.3H114.0V141.4H109.9zM200.8 141.4H204.9V145.6H200.8zM76.9 145.6H81.0V149.7H76.9zM209.0 149.7H213.2V153.9H209.0zM163.6 153.9H167.7V158.0H163.6zM130.6 158.0H134.7V162.1H130.6zM89.3 170.4H93.4V174.6H89.3zM167.7 170.4H171.9V174.6H167.7zM242.1 178.7H246.2V182.8H242.1zM225.6 199.4H229.7V203.5H225.6zM254.5 207.7H262.7V211.8H254.5zM366.0 224.2H370.1V228.4H366.0zM143.0 236.7H147.1V240.8H143.0zM320.6 236.7H324.7V240.8H320.6zM337.1 236.7H341.2V240.8H337.1zM233.8 240.8H237.9V244.9H233.8zM390.8 240.8H394.9V244.9H390.8zM101.7 244.9H105.8V249.1H101.7zM357.7 244.9H361.9V249.1H357.7zM419.7 244.9H423.8V249.1H419.7zM76.9 257.4H81.0V261.5H76.9zM204.9 257.4H209.0V261.5H204.9zM109.9 269.8H114.0V273.9H109.9zM60.4 286.3H64.5V290.5H60.4zM299.9 315.3H304.0V319.5H299.9zM229.7 319.5H233.8V323.6H229.7zM316.4 323.6H320.6V327.7H316.4z"/>
<path fill="#ff9300" d="M341.2 33.8H349.5V37.9H341.2zM180.1 42.1H184.3V46.2H180.1zM419.7 46.2H423.8V50.4H419.7zM188.4 83.5H192.5V87.6H188.4zM237.9 91.8H242.1V95.9H237.9zM167.7 95.9H171.9V100.0H167.7zM163.6 100.0H167.7V104.2H163.6zM366.0 100.0H370.1V104.2H366.0zM361.9 104.2H366.0V108.3H361.9zM114.0 108.3H118.2V112.5H114.0zM85.1 112.5H89.3V116.6H85.1zM151.2 112.5H155.3V116.6H151.2zM81.0 116.6H85.1V120.7H81.0zM118.2 116.6H122.3V120.7H118.2zM143.0 116.6H147.1V120.7H143.0zM134.7 120.7H138.8V124.9H134.7zM304.0 120.7H308.2V124.9H304.0zM361.9 129.0H366.0V133.2H361.9zM105.8 133.2H109.9V137.3H105.8zM180.1 141.4H184.3V145.6H180.1zM204.9 141.4H209.0V145.6H204.9zM312.3 145.6H316.4V149.7H312.3zM357.7 145.6H361.9V149.7H357.7zM147.1 153.9H151.2V158.0H147.1zM147.1 158.0H151.2V162.1H147.1zM283.4 158.0H287.5V162.1H283.4zM93.4 162.1H97.5V166.3H93.4zM143.0 162.1H147.1V166.3H143.0zM163.6 162.1H167.7V166.3H163.6zM171.9 162.1H176.0V166.3H171.9zM353.6 162.1H357.7V166.3H353.6zM275.1 166.3H279.2V170.4H275.1zM89.3 174.6H93.4V178.7H89.3zM147.1 174.6H151.2V178.7H147.1zM89.3 178.7H93.4V182.8H89.3zM93.4 182.8H101.7V187.0H93.4zM130.6 191.1H134.7V195.3H130.6zM221.4 207.7H225.6V211.8H221.4zM209.0 220.1H213.2V224.2H209.0zM254.5 236.7H258.6V240.8H254.5zM328.8 236.7H332.9V240.8H328.8zM122.3 240.8H126.4V244.9H122.3zM134.7 240.8H143.0V244.9H134.7zM143.0 244.9H147.1V249.1H143.0zM225.6 244.9H229.7V249.1H225.6zM308.2 249.1H312.3V253.2H308.2zM390.8 249.1H394.9V253.2H390.8zM93.4 253.2H97.5V257.4H93.4zM390.8 253.2H394.9V257.4H390.8zM138.8 257.4H143.0V261.5H138.8zM378.4 257.4H382.5V261.5H378.4zM52.1 261.5H60.4V265.6H52.1zM394.9 261.5H399.0V265.6H394.9zM118.2 265.6H122.3V269.8H118.2zM415.5 269.8H419.7V273.9H415.5zM324.7 319.5H328.8V323.6H324.7zM304.0 323.6H308.2V327.7H304.0z"/>
<path fill="#ffbf00" d="M353.6 33.8H357.7V37.9H353.6zM192.5 42.1H196.6V46.2H192.5zM415.5 42.1H419.7V46.2H415.5zM176.0 46.2H180.1V50.4H176.0zM97.5 66.9H101.7V71.1H97.5zM109.9 66.9H114.0V71.1H109.9zM97.5 71.1H101.7V75.2H97.5zM101.7 75.2H109.9V79.3H101.7zM225.6 87.6H229.7V91.8H225.6zM167.7 91.8H171.9V95.9H167.7zM242.1 91.8H246.2V95.9H242.1zM242.1 95.9H246.2V100.0H242.1zM93.4 100.0H97.5V104.2H93.4zM159.5 100.0H163.6V104.2H159.5zM192.5 100.0H196.6V104.2H192.5zM361.9 100.0H366.0V104.2H361.9zM81.0 104.2H85.1V108.3H81.0zM155.3 104.2H159.5V108.3H155.3zM122.3 112.5H126.4V116.6H122.3zM184.3 112.5H188.4V116.6H184.3zM394.9 112.5H399.0V116.6H394.9zM126.4 116.6H134.7V120.7H126.4zM295.8 120.7H299.9V124.9H295.8zM382.5 120.7H386.6V124.9H382.5zM221.4 124.9H225.6V129.0H221.4zM366.0 133.2H370.1V137.3H366.0zM184.3 137.3H188.4V141.4H184.3zM316.4 145.6H320.6V149.7H316.4zM167.7 149.7H171.9V153.9H167.7zM200.8 149.7H204.9V153.9H200.8zM200.8 153.9H204.9V158.0H200.8zM308.2 153.9H312.3V158.0H308.2zM242.1 158.0H246.2V162.1H242.1zM89.3 166.3H93.4V170.4H89.3zM188.4 170.4H192.5V174.6H188.4zM85.1 174.6H89.3V178.7H85.1zM163.6 174.6H167.7V178.7H163.6zM81.0 182.8H85.1V187.0H81.0zM89.3 187.0H93.4V191.1H89.3zM345.3 187.0H349.5V191.1H345.3zM114.0 195.3H118.2V199.4H114.0zM134.7 195.3H138.8V199.4H134.7zM225.6 195.3H229.7V199.4H225.6zM337.1 195.3H341.2V199.4H337.1zM126.4 199.4H134.7V203.5H126.4zM209.0 216.0H213.2V220.1H209.0zM271.0 216.0H275.1V220.1H271.0zM366.0 220.1H370.1V224.2H366.0zM143.0 232.5H151.2V236.7H143.0zM188.4 232.5H192.5V236.7H188.4zM316.4 236.7H320.6V240.8H316.4zM345.3 236.7H349.5V240.8H345.3zM237.9 240.8H242.1V244.9H237.9zM353.6 240.8H357.7V244.9H353.6zM386.6 240.8H390.8V244.9H386.6zM370.1 244.9H374.2V249.1H370.1zM382.5 244.9H386.6V249.1H382.5zM423.8 244.9H427.9V249.1H423.8zM221.4 253.2H225.6V257.4H221.4zM72.8 257.4H76.9V261.5H72.8zM192.5 257.4H196.6V261.5H192.5zM291.6 265.6H295.8V269.8H291.6zM114.0 269.8H118.2V273.9H114.0zM415.5 273.9H419.7V278.1H415.5zM279.2 278.1H283.4V282.2H279.2zM72.8 282.2H76.9V286.3H72.8zM279.2 286.3H283.4V290.5H279.2zM299.9 286.3H304.0V290.5H299.9zM370.1 286.3H374.2V290.5H370.1zM209.0 315.3H213.2V319.5H209.0zM361.9 319.5H366.0V323.6H361.9z"/>
<path fill="#39ffc6" d="M382.5 33.8H386.6V37.9H382.5zM382.5 37.9H386.6V42.1H382.5zM52.1 42.1H60.4V46.2H52.1zM64.5 46.2H68.6V50.4H64.5zM213.2 46.2H217.3V50.4H213.2zM225.6 46.2H229.7V50.4H225.6zM403.2 46.2H407.3V50.4H403.2zM72.8 50.4H76.9V54.5H72.8zM229.7 50.4H233.8V54.5H229.7zM283.4 62.8H287.5V66.9H283.4zM291.6 62.8H295.8V66.9H291.6zM308.2 62.8H312.3V66.9H308.2zM229.7 66.9H233.8V71.1H229.7zM279.2 66.9H283.4V71.1H279.2zM423.8 71.1H427.9V75.2H423.8zM68.6 79.3H72.8V83.5H68.6zM271.0 79.3H275.1V83.5H271.0zM64.5 83.5H68.6V87.6H64.5zM52.1 87.6H60.4V91.8H52.1zM415.5 100.0H419.7V104.2H415.5zM411.4 108.3H415.5V112.5H411.4zM419.7 112.5H423.8V116.6H419.7zM382.5 149.7H386.6V153.9H382.5zM399.0 153.9H403.2V158.0H399.0zM378.4 158.0H382.5V162.1H378.4zM64.5 162.1H68.6V166.3H64.5zM312.3 166.3H316.4V170.4H312.3zM394.9 166.3H399.0V170.4H394.9zM295.8 170.4H304.0V174.6H295.8zM324.7 174.6H328.8V178.7H324.7zM366.0 191.1H370.1V195.3H366.0zM72.8 203.5H76.9V207.7H72.8zM275.1 203.5H279.2V207.7H275.1zM361.9 203.5H366.0V207.7H361.9zM68.6 207.7H72.8V211.8H68.6zM316.4 207.7H320.6V211.8H316.4zM316.4 211.8H320.6V216.0H316.4zM403.2 216.0H407.3V220.1H403.2zM85.1 220.1H89.3V224.2H85.1zM291.6 220.1H299.9V224.2H291.6zM68.6 224.2H72.8V228.4H68.6zM52.1 232.5H56.2V236.7H52.1zM89.3 240.8H93.4V244.9H89.3zM151.2 261.5H155.3V265.6H151.2zM126.4 278.1H130.6V282.2H126.4zM200.8 278.1H204.9V282.2H200.8zM180.1 282.2H184.3V286.3H180.1zM209.0 282.2H213.2V286.3H209.0zM200.8 290.5H204.9V294.6H200.8zM217.3 290.5H221.4V294.6H217.3zM221.4 294.6H225.6V298.8H221.4zM229.7 298.8H233.8V302.9H229.7zM64.5 302.9H68.6V307.0H64.5zM209.0 302.9H213.2V307.0H209.0zM407.3 302.9H411.4V307.0H407.3zM233.8 307.0H237.9V311.2H233.8zM64.5 311.2H68.6V315.3H64.5zM423.8 315.3H427.9V319.5H423.8zM68.6 319.5H72.8V323.6H68.6zM237.9 319.5H242.1V323.6H237.9zM386.6 319.5H390.8V323.6H386.6zM143.0 323.6H147.1V327.7H143.0zM279.2 323.6H283.4V327.7H279.2z"/>
<path fill="#33ffcc" d="M386.6 33.8H390.8V37.9H386.6zM217.3 46.2H225.6V50.4H217.3zM76.9 54.5H81.0V58.6H76.9zM229.7 54.5H233.8V58.6H229.7zM287.5 62.8H291.6V66.9H287.5zM225.6 71.1H229.7V75.2H225.6zM279.2 71.1H283.4V75.2H279.2zM204.9 75.2H209.0V79.3H204.9zM341.2 95.9H345.3V100.0H341.2zM250.3 100.0H254.5V104.2H250.3zM407.3 104.2H411.4V108.3H407.3zM423.8 104.2H427.9V108.3H423.8zM423.8 112.5H427.9V116.6H423.8zM394.9 149.7H399.0V153.9H394.9zM399.0 158.0H403.2V162.1H399.0zM316.4 162.1H320.6V166.3H316.4zM386.6 166.3H390.8V170.4H386.6zM304.0 170.4H308.2V174.6H304.0zM316.4 195.3H320.6V199.4H316.4zM378.4 195.3H382.5V199.4H378.4zM415.5 195.3H419.7V199.4H415.5zM316.4 199.4H320.6V203.5H316.4zM361.9 199.4H366.0V203.5H361.9zM378.4 199.4H382.5V203.5H378.4zM81.0 203.5H85.1V207.7H81.0zM316.4 203.5H320.6V207.7H316.4zM312.3 211.8H316.4V216.0H312.3zM423.8 211.8H427.9V216.0H423.8zM85.1 216.0H89.3V220.1H85.1zM304.0 216.0H308.2V220.1H304.0zM64.5 228.4H68.6V232.5H64.5zM89.3 228.4H93.4V232.5H89.3zM56.2 232.5H60.4V236.7H56.2zM176.0 232.5H180.1V236.7H176.0zM180.1 253.2H184.3V257.4H180.1zM204.9 278.1H209.0V282.2H204.9zM109.9 282.2H114.0V286.3H109.9zM171.9 282.2H180.1V286.3H171.9zM200.8 282.2H209.0V286.3H200.8zM200.8 286.3H213.2V290.5H200.8zM213.2 290.5H217.3V294.6H213.2zM237.9 294.6H242.1V298.8H237.9zM217.3 298.8H221.4V302.9H217.3zM390.8 298.8H394.9V302.9H390.8zM399.0 298.8H403.2V302.9H399.0zM64.5 307.0H68.6V311.2H64.5zM411.4 311.2H415.5V315.3H411.4zM415.5 315.3H423.8V319.5H415.5zM403.2 323.6H411.4V327.7H403.2z"/>
<path fill="#2dffd2" d="M390.8 33.8H394.9V37.9H390.8zM399.0 33.8H403.2V37.9H399.0zM386.6 37.9H390.8V42.1H386.6zM399.0 37.9H403.2V42.1H399.0zM378.4 42.1H382.5V46.2H378.4zM52.1 46.2H64.5V50.4H52.1zM209.0 50.4H213.2V54.5H209.0zM225.6 50.4H229.7V54.5H225.6zM353.6 50.4H357.7V54.5H353.6zM403.2 50.4H407.3V54.5H403.2zM204.9 54.5H209.0V58.6H204.9zM200.8 58.6H204.9V62.8H200.8zM229.7 58.6H233.8V62.8H229.7zM76.9 62.8H81.0V66.9H76.9zM229.7 62.8H233.8V66.9H229.7zM411.4 62.8H415.5V66.9H411.4zM52.1 71.1H56.2V75.2H52.1zM72.8 71.1H76.9V75.2H72.8zM200.8 71.1H204.9V75.2H200.8zM52.1 75.2H56.2V79.3H52.1zM68.6 75.2H72.8V79.3H68.6zM419.7 75.2H423.8V79.3H419.7zM52.1 79.3H56.2V83.5H52.1zM64.5 79.3H68.6V83.5H64.5zM52.1 83.5H64.5V87.6H52.1zM266.9 83.5H271.0V87.6H266.9zM357.7 87.6H361.9V91.8H357.7zM370.1 87.6H374.2V91.8H370.1zM419.7 104.2H423.8V108.3H419.7zM415.5 108.3H419.7V112.5H415.5zM246.2 112.5H250.3V116.6H246.2zM386.6 149.7H390.8V153.9H386.6zM324.7 162.1H328.8V166.3H324.7zM382.5 162.1H386.6V166.3H382.5zM275.1 182.8H279.2V187.0H275.1zM271.0 187.0H275.1V191.1H271.0zM370.1 191.1H378.4V195.3H370.1zM407.3 195.3H415.5V199.4H407.3zM403.2 199.4H407.3V203.5H403.2zM423.8 199.4H427.9V203.5H423.8zM76.9 203.5H81.0V207.7H76.9zM419.7 211.8H423.8V216.0H419.7zM407.3 216.0H415.5V220.1H407.3zM72.8 220.1H76.9V224.2H72.8zM85.1 224.2H89.3V228.4H85.1zM184.3 278.1H188.4V282.2H184.3zM167.7 282.2H171.9V286.3H167.7zM204.9 290.5H213.2V294.6H204.9zM246.2 290.5H250.3V294.6H246.2zM204.9 294.6H209.0V298.8H204.9zM217.3 294.6H221.4V298.8H217.3zM204.9 298.8H209.0V302.9H204.9zM233.8 298.8H237.9V302.9H233.8zM262.7 298.8H266.9V302.9H262.7zM394.9 298.8H399.0V302.9H394.9zM283.4 302.9H287.5V307.0H283.4zM386.6 302.9H390.8V307.0H386.6zM68.6 315.3H72.8V319.5H68.6zM386.6 315.3H390.8V319.5H386.6zM411.4 315.3H415.5V319.5H411.4zM403.2 319.5H415.5V323.6H403.2zM72.8 323.6H76.9V327.7H72.8zM271.0 323.6H279.2V327.7H271.0zM390.8 323.6H394.9V327.7H390.8zM399.0 323.6H403.2V327.7H399.0zM411.4 323.6H415.5V327.7H411.4z"/>
<path fill="#26ffd9" d="M394.9 33.8H399.0V37.9H394.9zM390.8 37.9H399.0V42.1H390.8zM382.5 42.1H386.6V46.2H382.5zM399.0 42.1H403.2V46.2H399.0zM370.1 46.2H374.2V50.4H370.1zM76.9 58.6H81.0V62.8H76.9zM283.4 66.9H287.5V71.1H283.4zM415.5 66.9H419.7V71.1H415.5zM419.7 71.1H423.8V75.2H419.7zM56.2 75.2H60.4V79.3H56.2zM217.3 75.2H221.4V79.3H217.3zM56.2 79.3H64.5V83.5H56.2zM415.5 79.3H419.7V83.5H415.5zM349.5 91.8H353.6V95.9H349.5zM382.5 91.8H386.6V95.9H382.5zM411.4 91.8H415.5V95.9H411.4zM403.2 100.0H407.3V104.2H403.2zM411.4 104.2H419.7V108.3H411.4zM419.7 108.3H423.8V112.5H419.7zM283.4 116.6H287.5V120.7H283.4zM390.8 149.7H394.9V153.9H390.8zM382.5 153.9H386.6V158.0H382.5zM390.8 166.3H394.9V170.4H390.8zM308.2 170.4H312.3V174.6H308.2zM320.6 178.7H324.7V182.8H320.6zM316.4 191.1H320.6V195.3H316.4zM366.0 195.3H370.1V199.4H366.0zM419.7 199.4H423.8V203.5H419.7zM366.0 203.5H370.1V207.7H366.0zM374.2 203.5H378.4V207.7H374.2zM85.1 207.7H89.3V211.8H85.1zM85.1 211.8H89.3V216.0H85.1zM72.8 216.0H76.9V220.1H72.8zM81.0 220.1H85.1V224.2H81.0zM184.3 269.8H188.4V273.9H184.3zM138.8 273.9H143.0V278.1H138.8zM114.0 282.2H118.2V286.3H114.0zM159.5 286.3H163.6V290.5H159.5zM213.2 294.6H217.3V298.8H213.2zM258.6 294.6H262.7V298.8H258.6zM213.2 298.8H217.3V302.9H213.2zM143.0 302.9H147.1V307.0H143.0zM233.8 302.9H237.9V307.0H233.8zM403.2 302.9H407.3V307.0H403.2zM386.6 307.0H390.8V311.2H386.6zM407.3 307.0H411.4V311.2H407.3zM93.4 311.2H97.5V315.3H93.4zM138.8 311.2H143.0V315.3H138.8zM386.6 311.2H390.8V315.3H386.6zM407.3 311.2H411.4V315.3H407.3zM237.9 315.3H242.1V319.5H237.9zM283.4 315.3H287.5V319.5H283.4zM407.3 315.3H411.4V319.5H407.3zM72.8 319.5H76.9V323.6H72.8zM279.2 319.5H283.4V323.6H279.2zM390.8 319.5H394.9V323.6H390.8zM399.0 319.5H403.2V323.6H399.0zM415.5 319.5H419.7V323.6H415.5zM266.9 323.6H271.0V327.7H266.9zM394.9 323.6H399.0V327.7H394.9z"/>
<path fill="#ff5300" d="M419.7 33.8H423.8V37.9H419.7zM188.4 87.6H192.5V91.8H188.4zM180.1 95.9H184.3V100.0H180.1zM213.2 100.0H217.3V104.2H213.2zM52.1 108.3H56.2V112.5H52.1zM337.1 108.3H341.2V112.5H337.1zM64.5 112.5H68.6V116.6H64.5zM101.7 112.5H105.8V116.6H101.7zM217.3 116.6H221.4V120.7H217.3zM374.2 116.6H378.4V120.7H374.2zM101.7 120.7H109.9V124.9H101.7zM155.3 120.7H159.5V124.9H155.3zM89.3 124.9H101.7V129.0H89.3zM295.8 124.9H299.9V129.0H295.8zM312.3 124.9H316.4V129.0H312.3zM283.4 129.0H287.5V133.2H283.4zM118.2 133.2H122.3V137.3H118.2zM159.5 133.2H163.6V137.3H159.5zM266.9 133.2H271.0V137.3H266.9zM176.0 137.3H180.1V141.4H176.0zM332.9 137.3H337.1V141.4H332.9zM341.2 137.3H345.3V141.4H341.2zM341.2 141.4H345.3V145.6H341.2zM109.9 153.9H114.0V158.0H109.9zM246.2 166.3H250.3V170.4H246.2zM97.5 170.4H101.7V174.6H97.5zM118.2 170.4H122.3V174.6H118.2zM122.3 174.6H126.4V178.7H122.3zM114.0 178.7H118.2V182.8H114.0zM126.4 178.7H130.6V182.8H126.4zM122.3 182.8H126.4V187.0H122.3zM246.2 220.1H250.3V224.2H246.2zM213.2 228.4H225.6V232.5H213.2zM246.2 228.4H250.3V232.5H246.2zM262.7 228.4H266.9V232.5H262.7zM196.6 232.5H200.8V236.7H196.6zM221.4 232.5H225.6V236.7H221.4zM217.3 236.7H221.4V240.8H217.3zM213.2 240.8H217.3V244.9H213.2zM324.7 240.8H328.8V244.9H324.7zM109.9 244.9H114.0V249.1H109.9zM118.2 244.9H122.3V249.1H118.2zM411.4 244.9H415.5V249.1H411.4zM134.7 249.1H138.8V253.2H134.7zM93.4 257.4H97.5V261.5H93.4zM68.6 261.5H72.8V265.6H68.6zM114.0 261.5H118.2V265.6H114.0zM370.1 261.5H374.2V265.6H370.1zM403.2 261.5H407.3V265.6H403.2zM419.7 261.5H423.8V265.6H419.7zM304.0 265.6H308.2V269.8H304.0zM304.0 273.9H308.2V278.1H304.0zM366.0 273.9H370.1V278.1H366.0zM308.2 278.1H312.3V282.2H308.2zM60.4 282.2H64.5V286.3H60.4zM324.7 298.8H328.8V302.9H324.7zM357.7 307.0H361.9V311.2H357.7zM320.6 311.2H324.7V315.3H320.6zM221.4 315.3H225.6V319.5H221.4zM328.8 315.3H332.9V319.5H328.8zM353.6 315.3H357.7V319.5H353.6z"/>
<path fill="#ff2000" d="M423.8 33.8H427.9V37.9H423.8zM221.4 112.5H225.6V116.6H221.4zM332.9 112.5H337.1V116.6H332.9zM163.6 116.6H167.7V120.7H163.6zM176.0 116.6H180.1V120.7H176.0zM56.2 124.9H60.4V129.0H56.2zM176.0 124.9H180.1V129.0H176.0zM122.3 133.2H126.4V137.3H122.3zM279.2 133.2H283.4V137.3H279.2zM304.0 141.4H308.2V145.6H304.0zM299.9 145.6H304.0V149.7H299.9zM266.9 162.1H271.0V166.3H266.9zM262.7 166.3H266.9V170.4H262.7zM324.7 244.9H328.8V249.1H324.7zM196.6 249.1H200.8V253.2H196.6zM320.6 249.1H324.7V253.2H320.6zM81.0 261.5H89.3V265.6H81.0zM316.4 273.9H320.6V278.1H316.4zM68.6 278.1H72.8V282.2H68.6zM324.7 278.1H328.8V282.2H324.7zM328.8 282.2H332.9V286.3H328.8zM332.9 311.2H337.1V315.3H332.9zM349.5 315.3H353.6V319.5H349.5zM213.2 319.5H217.3V323.6H213.2z"/>
<path fill="#ff8c00" d="M176.0 37.9H180.1V42.1H176.0zM184.3 42.1H188.4V46.2H184.3zM200.8 87.6H204.9V91.8H200.8zM97.5 104.2H101.7V108.3H97.5zM237.9 104.2H242.1V108.3H237.9zM68.6 108.3H72.8V112.5H68.6zM89.3 108.3H93.4V112.5H89.3zM345.3 108.3H349.5V112.5H345.3zM76.9 116.6H81.0V120.7H76.9zM85.1 116.6H89.3V120.7H85.1zM316.4 116.6H320.6V120.7H316.4zM118.2 120.7H122.3V124.9H118.2zM370.1 120.7H374.2V124.9H370.1zM209.0 124.9H213.2V129.0H209.0zM287.5 124.9H291.6V129.0H287.5zM109.9 129.0H114.0V133.2H109.9zM204.9 129.0H209.0V133.2H204.9zM209.0 133.2H213.2V137.3H209.0zM52.1 137.3H68.6V141.4H52.1zM105.8 141.4H109.9V145.6H105.8zM151.2 145.6H159.5V149.7H151.2zM246.2 145.6H250.3V149.7H246.2zM151.2 149.7H159.5V153.9H151.2zM353.6 149.7H357.7V153.9H353.6zM151.2 153.9H155.3V158.0H151.2zM304.0 153.9H308.2V158.0H304.0zM167.7 162.1H171.9V166.3H167.7zM341.2 162.1H345.3V166.3H341.2zM138.8 166.3H143.0V170.4H138.8zM138.8 178.7H143.0V182.8H138.8zM101.7 182.8H105.8V187.0H101.7zM118.2 191.1H122.3V195.3H118.2zM237.9 216.0H242.1V220.1H237.9zM204.9 224.2H209.0V228.4H204.9zM266.9 232.5H271.0V236.7H266.9zM233.8 236.7H237.9V240.8H233.8zM229.7 240.8H233.8V244.9H229.7zM394.9 240.8H399.0V244.9H394.9zM411.4 240.8H415.5V244.9H411.4zM353.6 244.9H357.7V249.1H353.6zM217.3 249.1H221.4V253.2H217.3zM370.1 249.1H374.2V253.2H370.1zM81.0 257.4H85.1V261.5H81.0zM299.9 261.5H304.0V265.6H299.9zM105.8 269.8H109.9V273.9H105.8zM295.8 269.8H299.9V273.9H295.8zM370.1 269.8H374.2V273.9H370.1zM299.9 278.1H304.0V282.2H299.9zM56.2 286.3H60.4V290.5H56.2zM304.0 286.3H308.2V290.5H304.0zM299.9 302.9H304.0V307.0H299.9zM361.9 307.0H366.0V311.2H361.9zM299.9 311.2H304.0V315.3H299.9zM316.4 319.5H320.6V323.6H316.4zM357.7 319.5H361.9V323.6H357.7zM312.3 323.6H316.4V327.7H312.3z"/>
<path fill="#ffd900" d="M196.6 37.9H200.8V42.1H196.6zM341.2 42.1H349.5V46.2H341.2zM415.5 46.2H419.7V50.4H415.5zM109.9 62.8H114.0V66.9H109.9zM114.0 66.9H122.3V71.1H114.0zM118.2 71.1H122.3V75.2H118.2zM93.4 75.2H97.5V79.3H93.4zM176.0 83.5H180.1V87.6H176.0zM242.1 87.6H246.2V91.8H242.1zM370.1 95.9H374.2V100.0H370.1zM85.1 100.0H89.3V104.2H85.1zM151.2 104.2H155.3V108.3H151.2zM324.7 104.2H328.8V108.3H324.7zM345.3 104.2H349.5V108.3H345.3zM122.3 108.3H126.4V112.5H122.3zM204.9 120.7H209.0V124.9H204.9zM188.4 124.9H192.5V129.0H188.4zM188.4 129.0H192.5V133.2H188.4zM266.9 129.0H271.0V133.2H266.9zM370.1 129.0H374.2V133.2H370.1zM171.9 145.6H176.0V149.7H171.9zM196.6 145.6H200.8V149.7H196.6zM213.2 145.6H217.3V149.7H213.2zM324.7 145.6H328.8V149.7H324.7zM176.0 149.7H180.1V153.9H176.0zM242.1 149.7H246.2V153.9H242.1zM192.5 153.9H196.6V158.0H192.5zM184.3 162.1H192.5V166.3H184.3zM151.2 178.7H155.3V182.8H151.2zM163.6 178.7H167.7V182.8H163.6zM184.3 178.7H192.5V182.8H184.3zM76.9 182.8H81.0V187.0H76.9zM242.1 182.8H246.2V187.0H242.1zM250.3 182.8H254.5V187.0H250.3zM341.2 182.8H345.3V187.0H341.2zM76.9 187.0H81.0V191.1H76.9zM101.7 191.1H105.8V195.3H101.7zM138.8 191.1H143.0V195.3H138.8zM225.6 191.1H229.7V195.3H225.6zM138.8 195.3H143.0V199.4H138.8zM332.9 195.3H337.1V199.4H332.9zM138.8 199.4H143.0V203.5H138.8zM345.3 199.4H349.5V203.5H345.3zM130.6 203.5H134.7V207.7H130.6zM138.8 207.7H147.1V211.8H138.8zM242.1 207.7H246.2V211.8H242.1zM378.4 224.2H382.5V228.4H378.4zM147.1 228.4H151.2V232.5H147.1zM378.4 228.4H382.5V232.5H378.4zM134.7 232.5H138.8V236.7H134.7zM275.1 232.5H279.2V236.7H275.1zM349.5 232.5H353.6V236.7H349.5zM370.1 232.5H378.4V236.7H370.1zM312.3 236.7H316.4V240.8H312.3zM382.5 236.7H386.6V240.8H382.5zM378.4 240.8H382.5V244.9H378.4zM147.1 249.1H151.2V253.2H147.1zM221.4 257.4H225.6V261.5H221.4zM118.2 269.8H122.3V273.9H118.2zM283.4 273.9H287.5V278.1H283.4zM64.5 286.3H68.6V290.5H64.5zM56.2 290.5H60.4V294.6H56.2zM370.1 294.6H374.2V298.8H370.1zM366.0 311.2H370.1V315.3H366.0z"/>
<path fill="#99ff66" d="M279.2 37.9H283.4V42.1H279.2zM204.9 42.1H209.0V46.2H204.9zM242.1 42.1H246.2V46.2H242.1zM105.8 46.2H109.9V50.4H105.8zM271.0 46.2H275.1V50.4H271.0zM291.6 46.2H295.8V50.4H291.6zM324.7 46.2H328.8V50.4H324.7zM85.1 50.4H89.3V54.5H85.1zM105.8 50.4H109.9V54.5H105.8zM163.6 62.8H167.7V66.9H163.6zM171.9 66.9H188.4V71.1H171.9zM138.8 71.1H143.0V75.2H138.8zM171.9 71.1H176.0V75.2H171.9zM163.6 75.2H167.7V79.3H163.6zM118.2 87.6H122.3V91.8H118.2zM118.2 91.8H122.3V95.9H118.2zM423.8 95.9H427.9V100.0H423.8zM316.4 104.2H320.6V108.3H316.4zM399.0 137.3H403.2V141.4H399.0zM233.8 149.7H237.9V153.9H233.8zM411.4 153.9H415.5V158.0H411.4zM407.3 162.1H411.4V166.3H407.3zM295.8 166.3H304.0V170.4H295.8zM366.0 170.4H370.1V174.6H366.0zM403.2 170.4H407.3V174.6H403.2zM399.0 174.6H403.2V178.7H399.0zM52.1 178.7H60.4V182.8H52.1zM366.0 178.7H370.1V182.8H366.0zM386.6 178.7H390.8V182.8H386.6zM204.9 182.8H209.0V187.0H204.9zM394.9 182.8H399.0V187.0H394.9zM159.5 191.1H163.6V195.3H159.5zM176.0 191.1H180.1V195.3H176.0zM155.3 195.3H163.6V199.4H155.3zM200.8 195.3H204.9V199.4H200.8zM97.5 203.5H101.7V207.7H97.5zM101.7 207.7H105.8V211.8H101.7zM60.4 211.8H64.5V216.0H60.4zM109.9 211.8H114.0V216.0H109.9zM341.2 216.0H345.3V220.1H341.2zM390.8 216.0H394.9V220.1H390.8zM337.1 224.2H341.2V228.4H337.1zM399.0 224.2H403.2V228.4H399.0zM419.7 224.2H423.8V228.4H419.7zM101.7 228.4H105.8V232.5H101.7zM180.1 228.4H184.3V232.5H180.1zM271.0 253.2H275.1V257.4H271.0zM250.3 257.4H254.5V261.5H250.3zM271.0 261.5H275.1V265.6H271.0zM217.3 273.9H221.4V278.1H217.3zM225.6 282.2H229.7V286.3H225.6zM399.0 286.3H403.2V290.5H399.0zM167.7 290.5H171.9V294.6H167.7zM176.0 290.5H180.1V294.6H176.0zM262.7 290.5H266.9V294.6H262.7zM382.5 290.5H386.6V294.6H382.5zM192.5 298.8H196.6V302.9H192.5zM151.2 302.9H155.3V307.0H151.2zM291.6 302.9H295.8V307.0H291.6zM291.6 307.0H295.8V311.2H291.6zM171.9 311.2H180.1V315.3H171.9zM291.6 311.2H295.8V315.3H291.6zM163.6 319.5H167.7V323.6H163.6zM180.1 323.6H184.3V327.7H180.1z"/>
<path fill="#fff900" d="M328.8 37.9H332.9V42.1H328.8zM357.7 37.9H361.9V42.1H357.7zM163.6 46.2H167.7V50.4H163.6zM188.4 50.4H192.5V54.5H188.4zM118.2 62.8H122.3V66.9H118.2zM126.4 71.1H130.6V75.2H126.4zM109.9 79.3H114.0V83.5H109.9zM229.7 83.5H233.8V87.6H229.7zM64.5 100.0H76.9V104.2H64.5zM242.1 104.2H246.2V108.3H242.1zM316.4 108.3H320.6V112.5H316.4zM237.9 112.5H242.1V116.6H237.9zM188.4 116.6H192.5V120.7H188.4zM374.2 129.0H378.4V133.2H374.2zM217.3 133.2H221.4V137.3H217.3zM370.1 137.3H374.2V141.4H370.1zM180.1 145.6H192.5V149.7H180.1zM76.9 149.7H81.0V153.9H76.9zM81.0 153.9H85.1V158.0H81.0zM233.8 170.4H237.9V174.6H233.8zM196.6 174.6H200.8V178.7H196.6zM266.9 178.7H271.0V182.8H266.9zM147.1 182.8H151.2V187.0H147.1zM163.6 182.8H184.3V187.0H163.6zM143.0 187.0H147.1V191.1H143.0zM188.4 187.0H196.6V191.1H188.4zM225.6 187.0H229.7V191.1H225.6zM237.9 187.0H242.1V191.1H237.9zM81.0 191.1H85.1V195.3H81.0zM328.8 191.1H332.9V195.3H328.8zM118.2 203.5H122.3V207.7H118.2zM246.2 203.5H250.3V207.7H246.2zM262.7 203.5H266.9V207.7H262.7zM126.4 207.7H130.6V211.8H126.4zM151.2 207.7H155.3V211.8H151.2zM130.6 211.8H134.7V216.0H130.6zM151.2 211.8H155.3V216.0H151.2zM134.7 216.0H138.8V220.1H134.7zM151.2 216.0H155.3V220.1H151.2zM138.8 220.1H155.3V224.2H138.8zM134.7 224.2H138.8V228.4H134.7zM155.3 224.2H159.5V228.4H155.3zM130.6 228.4H134.7V232.5H130.6zM188.4 228.4H192.5V232.5H188.4zM386.6 228.4H390.8V232.5H386.6zM403.2 232.5H407.3V236.7H403.2zM155.3 236.7H159.5V240.8H155.3zM308.2 236.7H312.3V240.8H308.2zM271.0 240.8H275.1V244.9H271.0zM151.2 244.9H155.3V249.1H151.2zM299.9 244.9H304.0V249.1H299.9zM233.8 253.2H237.9V257.4H233.8zM291.6 257.4H295.8V261.5H291.6zM213.2 261.5H221.4V265.6H213.2zM109.9 273.9H114.0V278.1H109.9zM386.6 273.9H390.8V278.1H386.6zM374.2 282.2H378.4V286.3H374.2zM60.4 290.5H64.5V294.6H60.4zM295.8 302.9H299.9V307.0H295.8zM370.1 302.9H374.2V307.0H370.1zM295.8 307.0H299.9V311.2H295.8zM295.8 311.2H299.9V315.3H295.8z"/>
<path fill="#59ffa6" d="M374.2 37.9H378.4V42.1H374.2zM64.5 42.1H68.6V46.2H64.5zM126.4 42.1H130.6V46.2H126.4zM370.1 42.1H374.2V46.2H370.1zM122.3 46.2H126.4V50.4H122.3zM143.0 46.2H147.1V50.4H143.0zM233.8 46.2H237.9V50.4H233.8zM76.9 50.4H81.0V54.5H76.9zM122.3 50.4H126.4V54.5H122.3zM324.7 50.4H328.8V54.5H324.7zM337.1 50.4H345.3V54.5H337.1zM130.6 54.5H138.8V58.6H130.6zM237.9 54.5H242.1V58.6H237.9zM262.7 54.5H266.9V58.6H262.7zM196.6 58.6H200.8V62.8H196.6zM242.1 58.6H250.3V62.8H242.1zM411.4 58.6H415.5V62.8H411.4zM242.1 62.8H246.2V66.9H242.1zM415.5 62.8H419.7V66.9H415.5zM423.8 66.9H427.9V71.1H423.8zM76.9 71.1H81.0V75.2H76.9zM196.6 71.1H200.8V75.2H196.6zM271.0 71.1H275.1V75.2H271.0zM72.8 83.5H76.9V87.6H72.8zM68.6 87.6H72.8V91.8H68.6zM353.6 91.8H357.7V95.9H353.6zM320.6 100.0H324.7V104.2H320.6zM407.3 108.3H411.4V112.5H407.3zM419.7 116.6H423.8V120.7H419.7zM242.1 124.9H246.2V129.0H242.1zM258.6 124.9H262.7V129.0H258.6zM229.7 141.4H233.8V145.6H229.7zM225.6 149.7H229.7V153.9H225.6zM378.4 149.7H382.5V153.9H378.4zM374.2 158.0H378.4V162.1H374.2zM399.0 166.3H403.2V170.4H399.0zM52.1 170.4H64.5V174.6H52.1zM390.8 170.4H394.9V174.6H390.8zM378.4 187.0H382.5V191.1H378.4zM171.9 195.3H176.0V199.4H171.9zM399.0 195.3H403.2V199.4H399.0zM163.6 199.4H180.1V203.5H163.6zM171.9 203.5H180.1V207.7H171.9zM361.9 207.7H366.0V211.8H361.9zM283.4 216.0H287.5V220.1H283.4zM423.8 216.0H427.9V220.1H423.8zM320.6 220.1H324.7V224.2H320.6zM328.8 220.1H332.9V224.2H328.8zM403.2 220.1H407.3V224.2H403.2zM411.4 220.1H415.5V224.2H411.4zM60.4 228.4H64.5V232.5H60.4zM93.4 228.4H97.5V232.5H93.4zM159.5 244.9H163.6V249.1H159.5zM76.9 249.1H81.0V253.2H76.9zM122.3 278.1H126.4V282.2H122.3zM213.2 278.1H217.3V282.2H213.2zM188.4 286.3H192.5V290.5H188.4zM246.2 286.3H250.3V290.5H246.2zM159.5 290.5H163.6V294.6H159.5zM225.6 290.5H229.7V294.6H225.6zM237.9 290.5H242.1V294.6H237.9zM155.3 294.6H159.5V298.8H155.3zM390.8 294.6H394.9V298.8H390.8zM399.0 294.6H403.2V298.8H399.0zM64.5 298.8H68.6V302.9H64.5zM151.2 298.8H155.3V302.9H151.2zM217.3 302.9H221.4V307.0H217.3zM56.2 307.0H60.4V311.2H56.2zM52.1 311.2H56.2V315.3H52.1zM143.0 315.3H147.1V319.5H143.0zM287.5 315.3H291.6V319.5H287.5zM382.5 319.5H386.6V323.6H382.5zM147.1 323.6H151.2V327.7H147.1z"/>
<path fill="#ffac00" d="M415.5 37.9H419.7V42.1H415.5zM204.9 87.6H209.0V91.8H204.9zM233.8 87.6H237.9V91.8H233.8zM64.5 104.2H68.6V108.3H64.5zM332.9 104.2H337.1V108.3H332.9zM353.6 108.3H357.7V112.5H353.6zM143.0 112.5H147.1V116.6H143.0zM378.4 120.7H382.5V124.9H378.4zM200.8 129.0H204.9V133.2H200.8zM209.0 141.4H213.2V145.6H209.0zM361.9 141.4H366.0V145.6H361.9zM328.8 145.6H332.9V149.7H328.8zM163.6 149.7H167.7V153.9H163.6zM204.9 149.7H209.0V153.9H204.9zM167.7 153.9H171.9V158.0H167.7zM209.0 153.9H213.2V158.0H209.0zM89.3 158.0H93.4V162.1H89.3zM126.4 158.0H130.6V162.1H126.4zM287.5 158.0H291.6V162.1H287.5zM134.7 162.1H138.8V166.3H134.7zM163.6 170.4H167.7V174.6H163.6zM180.1 170.4H184.3V174.6H180.1zM85.1 178.7H89.3V182.8H85.1zM143.0 178.7H147.1V182.8H143.0zM85.1 182.8H89.3V187.0H85.1zM138.8 182.8H143.0V187.0H138.8zM105.8 187.0H109.9V191.1H105.8zM118.2 195.3H122.3V199.4H118.2zM130.6 195.3H134.7V199.4H130.6zM229.7 203.5H233.8V207.7H229.7zM237.9 211.8H246.2V216.0H237.9zM266.9 211.8H271.0V216.0H266.9zM357.7 224.2H361.9V228.4H357.7zM271.0 232.5H275.1V236.7H271.0zM109.9 236.7H118.2V240.8H109.9zM138.8 236.7H143.0V240.8H138.8zM147.1 236.7H151.2V240.8H147.1zM147.1 240.8H151.2V244.9H147.1zM312.3 240.8H316.4V244.9H312.3zM415.5 240.8H419.7V244.9H415.5zM229.7 244.9H233.8V249.1H229.7zM97.5 249.1H101.7V253.2H97.5zM378.4 249.1H382.5V253.2H378.4zM386.6 249.1H390.8V253.2H386.6zM217.3 253.2H221.4V257.4H217.3zM382.5 253.2H390.8V257.4H382.5zM299.9 257.4H304.0V261.5H299.9zM382.5 257.4H386.6V261.5H382.5zM399.0 265.6H403.2V269.8H399.0zM97.5 273.9H101.7V278.1H97.5zM370.1 278.1H374.2V282.2H370.1zM271.0 282.2H275.1V286.3H271.0zM299.9 282.2H304.0V286.3H299.9z"/>
<path fill="#ff5900" d="M419.7 37.9H423.8V42.1H419.7zM192.5 87.6H196.6V91.8H192.5zM196.6 91.8H200.8V95.9H196.6zM176.0 95.9H180.1V100.0H176.0zM184.3 95.9H188.4V100.0H184.3zM213.2 95.9H217.3V100.0H213.2zM366.0 104.2H370.1V108.3H366.0zM56.2 108.3H60.4V112.5H56.2zM159.5 112.5H163.6V116.6H159.5zM229.7 112.5H233.8V116.6H229.7zM345.3 112.5H349.5V116.6H345.3zM97.5 116.6H101.7V120.7H97.5zM109.9 116.6H114.0V120.7H109.9zM349.5 116.6H353.6V120.7H349.5zM370.1 116.6H374.2V120.7H370.1zM378.4 116.6H382.5V120.7H378.4zM97.5 120.7H101.7V124.9H97.5zM180.1 120.7H184.3V124.9H180.1zM324.7 120.7H328.8V124.9H324.7zM353.6 120.7H357.7V124.9H353.6zM68.6 124.9H72.8V129.0H68.6zM180.1 124.9H184.3V129.0H180.1zM328.8 124.9H332.9V129.0H328.8zM68.6 129.0H72.8V133.2H68.6zM76.9 129.0H81.0V133.2H76.9zM143.0 129.0H147.1V133.2H143.0zM155.3 129.0H159.5V133.2H155.3zM328.8 129.0H332.9V133.2H328.8zM349.5 129.0H353.6V133.2H349.5zM52.1 133.2H60.4V137.3H52.1zM328.8 133.2H332.9V137.3H328.8zM345.3 133.2H349.5V137.3H345.3zM101.7 137.3H105.8V141.4H101.7zM308.2 145.6H312.3V149.7H308.2zM337.1 145.6H345.3V149.7H337.1zM143.0 149.7H147.1V153.9H143.0zM304.0 149.7H308.2V153.9H304.0zM341.2 149.7H345.3V153.9H341.2zM89.3 153.9H93.4V158.0H89.3zM283.4 153.9H287.5V158.0H283.4zM97.5 158.0H101.7V162.1H97.5zM114.0 158.0H118.2V162.1H114.0zM97.5 166.3H101.7V170.4H97.5zM271.0 166.3H275.1V170.4H271.0zM266.9 170.4H271.0V174.6H266.9zM97.5 174.6H101.7V178.7H97.5zM250.3 174.6H258.6V178.7H250.3zM109.9 178.7H114.0V182.8H109.9zM118.2 182.8H122.3V187.0H118.2zM126.4 182.8H130.6V187.0H126.4zM250.3 216.0H254.5V220.1H250.3zM217.3 224.2H221.4V228.4H217.3zM242.1 224.2H246.2V228.4H242.1zM209.0 228.4H213.2V232.5H209.0zM225.6 228.4H229.7V232.5H225.6zM225.6 232.5H229.7V236.7H225.6zM221.4 236.7H225.6V240.8H221.4zM337.1 240.8H341.2V244.9H337.1zM105.8 249.1H109.9V253.2H105.8zM415.5 249.1H419.7V253.2H415.5zM101.7 253.2H105.8V257.4H101.7zM196.6 253.2H204.9V257.4H196.6zM308.2 257.4H312.3V261.5H308.2zM419.7 257.4H423.8V261.5H419.7zM118.2 261.5H122.3V265.6H118.2zM423.8 265.6H427.9V269.8H423.8zM366.0 278.1H370.1V282.2H366.0zM320.6 282.2H324.7V286.3H320.6zM316.4 294.6H320.6V298.8H316.4zM324.7 311.2H328.8V315.3H324.7zM217.3 315.3H221.4V319.5H217.3zM304.0 315.3H308.2V319.5H304.0zM353.6 319.5H357.7V323.6H353.6z"/>
<path fill="#ff2600" d="M423.8 37.9H427.9V42.1H423.8zM217.3 104.2H221.4V108.3H217.3zM167.7 108.3H171.9V112.5H167.7zM176.0 112.5H180.1V116.6H176.0zM328.8 112.5H332.9V116.6H328.8zM337.1 112.5H341.2V116.6H337.1zM370.1 112.5H374.2V116.6H370.1zM60.4 116.6H64.5V120.7H60.4zM332.9 116.6H341.2V120.7H332.9zM60.4 120.7H64.5V124.9H60.4zM89.3 129.0H93.4V133.2H89.3zM163.6 129.0H167.7V133.2H163.6zM291.6 129.0H295.8V133.2H291.6zM308.2 129.0H312.3V133.2H308.2zM81.0 133.2H85.1V137.3H81.0zM138.8 133.2H143.0V137.3H138.8zM167.7 133.2H176.0V137.3H167.7zM308.2 137.3H312.3V141.4H308.2zM81.0 141.4H85.1V145.6H81.0zM126.4 149.7H130.6V153.9H126.4zM138.8 149.7H143.0V153.9H138.8zM283.4 149.7H287.5V153.9H283.4zM275.1 153.9H279.2V158.0H275.1zM105.8 162.1H109.9V166.3H105.8zM105.8 166.3H109.9V170.4H105.8zM204.9 240.8H209.0V244.9H204.9zM204.9 244.9H209.0V249.1H204.9zM341.2 244.9H345.3V249.1H341.2zM200.8 249.1H204.9V253.2H200.8zM349.5 249.1H353.6V253.2H349.5zM411.4 249.1H415.5V253.2H411.4zM122.3 253.2H126.4V257.4H122.3zM357.7 253.2H361.9V257.4H357.7zM399.0 253.2H403.2V257.4H399.0zM89.3 261.5H93.4V265.6H89.3zM312.3 261.5H316.4V265.6H312.3zM93.4 265.6H97.5V269.8H93.4zM304.0 307.0H308.2V311.2H304.0zM353.6 307.0H357.7V311.2H353.6zM332.9 315.3H337.1V319.5H332.9zM349.5 319.5H353.6V323.6H349.5zM209.0 323.6H213.2V327.7H209.0z"/>
<path fill="#20ffdf" d="M386.6 42.1H390.8V46.2H386.6zM52.1 50.4H56.2V54.5H52.1zM68.6 50.4H72.8V54.5H68.6zM213.2 50.4H217.3V54.5H213.2zM221.4 50.4H225.6V54.5H221.4zM225.6 54.5H229.7V58.6H225.6zM407.3 58.6H411.4V62.8H407.3zM225.6 66.9H229.7V71.1H225.6zM60.4 75.2H68.6V79.3H60.4zM411.4 95.9H415.5V100.0H411.4zM411.4 100.0H415.5V104.2H411.4zM423.8 108.3H427.9V112.5H423.8zM295.8 112.5H299.9V116.6H295.8zM246.2 120.7H250.3V124.9H246.2zM394.9 153.9H399.0V158.0H394.9zM382.5 158.0H386.6V162.1H382.5zM324.7 170.4H328.8V174.6H324.7zM316.4 187.0H320.6V191.1H316.4zM271.0 195.3H275.1V199.4H271.0zM374.2 195.3H378.4V199.4H374.2zM366.0 199.4H370.1V203.5H366.0zM374.2 199.4H378.4V203.5H374.2zM370.1 203.5H374.2V207.7H370.1zM403.2 203.5H407.3V207.7H403.2zM423.8 203.5H427.9V207.7H423.8zM279.2 207.7H283.4V211.8H279.2zM312.3 207.7H316.4V211.8H312.3zM423.8 207.7H427.9V211.8H423.8zM308.2 211.8H312.3V216.0H308.2zM403.2 211.8H407.3V216.0H403.2zM415.5 211.8H419.7V216.0H415.5zM81.0 216.0H85.1V220.1H81.0zM287.5 216.0H291.6V220.1H287.5zM171.9 232.5H176.0V236.7H171.9zM159.5 249.1H163.6V253.2H159.5zM184.3 273.9H188.4V278.1H184.3zM97.5 286.3H101.7V290.5H97.5zM76.9 290.5H81.0V294.6H76.9zM250.3 290.5H258.6V294.6H250.3zM209.0 294.6H213.2V298.8H209.0zM242.1 294.6H246.2V298.8H242.1zM68.6 298.8H72.8V302.9H68.6zM209.0 298.8H213.2V302.9H209.0zM271.0 302.9H283.4V307.0H271.0zM93.4 307.0H97.5V311.2H93.4zM68.6 311.2H72.8V315.3H68.6zM89.3 311.2H93.4V315.3H89.3zM97.5 311.2H101.7V315.3H97.5zM72.8 315.3H76.9V319.5H72.8zM89.3 315.3H97.5V319.5H89.3zM138.8 315.3H143.0V319.5H138.8zM403.2 315.3H407.3V319.5H403.2zM76.9 319.5H81.0V323.6H76.9zM394.9 319.5H399.0V323.6H394.9zM419.7 319.5H427.9V323.6H419.7zM76.9 323.6H81.0V327.7H76.9zM262.7 323.6H266.9V327.7H262.7zM415.5 323.6H419.7V327.7H415.5z"/>
<path fill="#1affe5" d="M390.8 42.1H399.0V46.2H390.8zM399.0 46.2H403.2V50.4H399.0zM217.3 50.4H221.4V54.5H217.3zM357.7 50.4H361.9V54.5H357.7zM324.7 54.5H328.8V58.6H324.7zM225.6 58.6H229.7V62.8H225.6zM200.8 62.8H204.9V66.9H200.8zM225.6 62.8H229.7V66.9H225.6zM312.3 62.8H316.4V66.9H312.3zM52.1 66.9H56.2V71.1H52.1zM200.8 66.9H204.9V71.1H200.8zM56.2 71.1H60.4V75.2H56.2zM221.4 71.1H225.6V75.2H221.4zM209.0 75.2H217.3V79.3H209.0zM279.2 75.2H283.4V79.3H279.2zM275.1 79.3H279.2V83.5H275.1zM262.7 87.6H266.9V91.8H262.7zM411.4 87.6H415.5V91.8H411.4zM337.1 95.9H341.2V100.0H337.1zM394.9 95.9H399.0V100.0H394.9zM316.4 100.0H320.6V104.2H316.4zM407.3 100.0H411.4V104.2H407.3zM246.2 116.6H250.3V120.7H246.2zM271.0 120.7H275.1V124.9H271.0zM386.6 153.9H394.9V158.0H386.6zM394.9 158.0H399.0V162.1H394.9zM386.6 162.1H390.8V166.3H386.6zM394.9 162.1H399.0V166.3H394.9zM324.7 166.3H328.8V170.4H324.7zM370.1 195.3H374.2V199.4H370.1zM370.1 199.4H374.2V203.5H370.1zM407.3 199.4H411.4V203.5H407.3zM415.5 199.4H419.7V203.5H415.5zM72.8 207.7H76.9V211.8H72.8zM403.2 207.7H407.3V211.8H403.2zM419.7 207.7H423.8V211.8H419.7zM72.8 211.8H76.9V216.0H72.8zM283.4 211.8H287.5V216.0H283.4zM299.9 216.0H304.0V220.1H299.9zM76.9 220.1H81.0V224.2H76.9zM60.4 232.5H64.5V236.7H60.4zM89.3 232.5H93.4V236.7H89.3zM163.6 240.8H167.7V244.9H163.6zM180.1 257.4H184.3V261.5H180.1zM118.2 282.2H122.3V286.3H118.2zM163.6 282.2H167.7V286.3H163.6zM155.3 290.5H159.5V294.6H155.3zM147.1 298.8H151.2V302.9H147.1zM68.6 302.9H72.8V307.0H68.6zM390.8 302.9H394.9V307.0H390.8zM399.0 302.9H403.2V307.0H399.0zM68.6 307.0H72.8V311.2H68.6zM89.3 307.0H93.4V311.2H89.3zM97.5 307.0H101.7V311.2H97.5zM138.8 307.0H143.0V311.2H138.8zM403.2 307.0H407.3V311.2H403.2zM85.1 311.2H89.3V315.3H85.1zM403.2 311.2H407.3V315.3H403.2zM85.1 315.3H89.3V319.5H85.1zM97.5 315.3H101.7V319.5H97.5zM390.8 315.3H394.9V319.5H390.8zM81.0 319.5H101.7V323.6H81.0zM266.9 319.5H279.2V323.6H266.9zM81.0 323.6H97.5V327.7H81.0zM419.7 323.6H423.8V327.7H419.7z"/>
<path fill="#ff6c00" d="M419.7 42.1H423.8V46.2H419.7zM196.6 87.6H200.8V91.8H196.6zM200.8 91.8H204.9V95.9H200.8zM229.7 91.8H233.8V95.9H229.7zM171.9 95.9H176.0V100.0H171.9zM209.0 95.9H213.2V100.0H209.0zM374.2 100.0H378.4V104.2H374.2zM163.6 104.2H167.7V108.3H163.6zM180.1 104.2H184.3V108.3H180.1zM97.5 108.3H101.7V112.5H97.5zM324.7 108.3H328.8V112.5H324.7zM341.2 108.3H345.3V112.5H341.2zM180.1 112.5H184.3V116.6H180.1zM361.9 112.5H366.0V116.6H361.9zM93.4 116.6H97.5V120.7H93.4zM353.6 116.6H357.7V120.7H353.6zM361.9 116.6H366.0V120.7H361.9zM382.5 116.6H386.6V120.7H382.5zM217.3 120.7H221.4V124.9H217.3zM357.7 120.7H361.9V124.9H357.7zM72.8 124.9H76.9V129.0H72.8zM81.0 124.9H85.1V129.0H81.0zM105.8 124.9H109.9V129.0H105.8zM134.7 124.9H147.1V129.0H134.7zM291.6 124.9H295.8V129.0H291.6zM357.7 124.9H361.9V129.0H357.7zM151.2 133.2H155.3V137.3H151.2zM353.6 133.2H357.7V137.3H353.6zM353.6 137.3H357.7V141.4H353.6zM76.9 141.4H81.0V145.6H76.9zM349.5 145.6H353.6V149.7H349.5zM109.9 149.7H118.2V153.9H109.9zM345.3 149.7H349.5V153.9H345.3zM138.8 153.9H143.0V158.0H138.8zM287.5 153.9H291.6V158.0H287.5zM345.3 153.9H349.5V158.0H345.3zM345.3 158.0H349.5V162.1H345.3zM155.3 162.1H159.5V166.3H155.3zM275.1 162.1H279.2V166.3H275.1zM349.5 162.1H353.6V166.3H349.5zM151.2 166.3H155.3V170.4H151.2zM97.5 178.7H101.7V182.8H97.5zM130.6 182.8H134.7V187.0H130.6zM118.2 187.0H122.3V191.1H118.2zM217.3 220.1H221.4V224.2H217.3zM229.7 220.1H233.8V224.2H229.7zM237.9 220.1H242.1V224.2H237.9zM266.9 220.1H271.0V224.2H266.9zM233.8 228.4H242.1V232.5H233.8zM229.7 232.5H233.8V236.7H229.7zM341.2 240.8H345.3V244.9H341.2zM403.2 240.8H407.3V244.9H403.2zM126.4 244.9H134.7V249.1H126.4zM312.3 249.1H316.4V253.2H312.3zM204.9 253.2H209.0V257.4H204.9zM423.8 257.4H427.9V261.5H423.8zM64.5 261.5H68.6V265.6H64.5zM126.4 261.5H130.6V265.6H126.4zM399.0 261.5H403.2V265.6H399.0zM109.9 265.6H114.0V269.8H109.9zM370.1 265.6H374.2V269.8H370.1zM299.9 269.8H304.0V273.9H299.9zM304.0 278.1H308.2V282.2H304.0zM312.3 286.3H316.4V290.5H312.3zM366.0 290.5H370.1V294.6H366.0zM320.6 294.6H324.7V298.8H320.6zM361.9 302.9H366.0V307.0H361.9zM357.7 311.2H361.9V315.3H357.7zM328.8 323.6H332.9V327.7H328.8z"/>
<path fill="#ff3900" d="M423.8 42.1H427.9V46.2H423.8zM225.6 95.9H233.8V100.0H225.6zM233.8 100.0H237.9V104.2H233.8zM382.5 104.2H386.6V108.3H382.5zM60.4 112.5H64.5V116.6H60.4zM332.9 120.7H337.1V124.9H332.9zM56.2 129.0H60.4V133.2H56.2zM126.4 129.0H134.7V133.2H126.4zM287.5 129.0H291.6V133.2H287.5zM312.3 129.0H316.4V133.2H312.3zM163.6 133.2H167.7V137.3H163.6zM143.0 137.3H147.1V141.4H143.0zM167.7 137.3H176.0V141.4H167.7zM308.2 141.4H312.3V145.6H308.2zM101.7 145.6H105.8V149.7H101.7zM143.0 145.6H147.1V149.7H143.0zM250.3 145.6H254.5V149.7H250.3zM85.1 149.7H89.3V153.9H85.1zM101.7 149.7H105.8V153.9H101.7zM250.3 149.7H254.5V153.9H250.3zM291.6 149.7H299.9V153.9H291.6zM93.4 153.9H101.7V158.0H93.4zM109.9 158.0H114.0V162.1H109.9zM101.7 162.1H105.8V166.3H101.7zM250.3 162.1H254.5V166.3H250.3zM101.7 170.4H105.8V174.6H101.7zM250.3 224.2H254.5V228.4H250.3zM407.3 244.9H411.4V249.1H407.3zM114.0 249.1H118.2V253.2H114.0zM122.3 249.1H126.4V253.2H122.3zM109.9 253.2H114.0V257.4H109.9zM130.6 253.2H134.7V257.4H130.6zM361.9 253.2H366.0V257.4H361.9zM114.0 257.4H118.2V261.5H114.0zM126.4 257.4H130.6V261.5H126.4zM312.3 257.4H316.4V261.5H312.3zM415.5 257.4H419.7V261.5H415.5zM72.8 261.5H76.9V265.6H72.8zM97.5 265.6H101.7V269.8H97.5zM320.6 302.9H324.7V307.0H320.6zM328.8 302.9H332.9V307.0H328.8zM320.6 307.0H324.7V311.2H320.6zM328.8 307.0H332.9V311.2H328.8zM304.0 311.2H308.2V315.3H304.0zM316.4 311.2H320.6V315.3H316.4z"/>
<path fill="#13ffec" d="M374.2 46.2H378.4V50.4H374.2zM56.2 50.4H60.4V54.5H56.2zM52.1 54.5H56.2V58.6H52.1zM209.0 54.5H213.2V58.6H209.0zM221.4 54.5H225.6V58.6H221.4zM403.2 54.5H407.3V58.6H403.2zM204.9 58.6H209.0V62.8H204.9zM52.1 62.8H56.2V66.9H52.1zM287.5 66.9H291.6V71.1H287.5zM386.6 158.0H390.8V162.1H386.6zM320.6 162.1H324.7V166.3H320.6zM390.8 162.1H394.9V166.3H390.8zM411.4 199.4H415.5V203.5H411.4zM419.7 203.5H423.8V207.7H419.7zM81.0 207.7H85.1V211.8H81.0zM81.0 211.8H85.1V216.0H81.0zM407.3 211.8H415.5V216.0H407.3zM76.9 216.0H81.0V220.1H76.9zM72.8 224.2H76.9V228.4H72.8zM81.0 224.2H85.1V228.4H81.0zM89.3 236.7H93.4V240.8H89.3zM52.1 244.9H60.4V249.1H52.1zM81.0 244.9H85.1V249.1H81.0zM130.6 278.1H134.7V282.2H130.6zM81.0 290.5H89.3V294.6H81.0zM151.2 294.6H155.3V298.8H151.2zM237.9 298.8H242.1V302.9H237.9zM93.4 302.9H97.5V307.0H93.4zM266.9 302.9H271.0V307.0H266.9zM394.9 302.9H399.0V307.0H394.9zM85.1 307.0H89.3V311.2H85.1zM72.8 311.2H76.9V315.3H72.8zM283.4 311.2H287.5V315.3H283.4zM76.9 315.3H85.1V319.5H76.9zM101.7 315.3H105.8V319.5H101.7zM394.9 315.3H403.2V319.5H394.9zM138.8 319.5H143.0V323.6H138.8zM262.7 319.5H266.9V323.6H262.7zM97.5 323.6H101.7V327.7H97.5zM258.6 323.6H262.7V327.7H258.6zM423.8 323.6H427.9V327.7H423.8z"/>
<path fill="#0dfff2" d="M378.4 46.2H382.5V50.4H378.4zM394.9 46.2H399.0V50.4H394.9zM60.4 50.4H68.6V54.5H60.4zM72.8 54.5H76.9V58.6H72.8zM213.2 54.5H217.3V58.6H213.2zM52.1 58.6H56.2V62.8H52.1zM72.8 66.9H76.9V71.1H72.8zM221.4 66.9H225.6V71.1H221.4zM68.6 71.1H72.8V75.2H68.6zM204.9 71.1H209.0V75.2H204.9zM283.4 71.1H287.5V75.2H283.4zM415.5 71.1H419.7V75.2H415.5zM415.5 75.2H419.7V79.3H415.5zM271.0 83.5H275.1V87.6H271.0zM390.8 158.0H394.9V162.1H390.8zM316.4 166.3H320.6V170.4H316.4zM312.3 170.4H316.4V174.6H312.3zM287.5 174.6H291.6V178.7H287.5zM316.4 182.8H320.6V187.0H316.4zM271.0 191.1H275.1V195.3H271.0zM415.5 203.5H419.7V207.7H415.5zM415.5 207.7H419.7V211.8H415.5zM68.6 228.4H72.8V232.5H68.6zM85.1 228.4H89.3V232.5H85.1zM155.3 257.4H159.5V261.5H155.3zM180.1 278.1H184.3V282.2H180.1zM89.3 290.5H93.4V294.6H89.3zM72.8 294.6H76.9V298.8H72.8zM246.2 294.6H250.3V298.8H246.2zM89.3 302.9H93.4V307.0H89.3zM283.4 307.0H287.5V311.2H283.4zM390.8 307.0H394.9V311.2H390.8zM76.9 311.2H85.1V315.3H76.9zM101.7 311.2H105.8V315.3H101.7zM237.9 311.2H242.1V315.3H237.9zM390.8 311.2H394.9V315.3H390.8zM399.0 311.2H403.2V315.3H399.0zM279.2 315.3H283.4V319.5H279.2zM101.7 319.5H105.8V323.6H101.7zM258.6 319.5H262.7V323.6H258.6zM101.7 323.6H105.8V327.7H101.7z"/>
<path fill="#06fff9" d="M382.5 46.2H394.9V50.4H382.5zM361.9 50.4H366.0V54.5H361.9zM399.0 50.4H403.2V54.5H399.0zM217.3 54.5H221.4V58.6H217.3zM221.4 58.6H225.6V62.8H221.4zM320.6 58.6H324.7V62.8H320.6zM204.9 62.8H209.0V66.9H204.9zM221.4 62.8H225.6V66.9H221.4zM60.4 71.1H68.6V75.2H60.4zM217.3 71.1H221.4V75.2H217.3zM411.4 83.5H415.5V87.6H411.4zM353.6 87.6H357.7V91.8H353.6zM374.2 87.6H378.4V91.8H374.2zM258.6 91.8H262.7V95.9H258.6zM254.5 95.9H258.6V100.0H254.5zM320.6 174.6H324.7V178.7H320.6zM312.3 203.5H316.4V207.7H312.3zM407.3 203.5H415.5V207.7H407.3zM76.9 207.7H81.0V211.8H76.9zM407.3 207.7H415.5V211.8H407.3zM76.9 211.8H81.0V216.0H76.9zM304.0 211.8H308.2V216.0H304.0zM291.6 216.0H299.9V220.1H291.6zM76.9 224.2H81.0V228.4H76.9zM52.1 236.7H56.2V240.8H52.1zM60.4 244.9H64.5V249.1H60.4zM122.3 282.2H126.4V286.3H122.3zM93.4 290.5H97.5V294.6H93.4zM254.5 294.6H258.6V298.8H254.5zM258.6 298.8H262.7V302.9H258.6zM97.5 302.9H101.7V307.0H97.5zM262.7 302.9H266.9V307.0H262.7zM72.8 307.0H76.9V311.2H72.8zM81.0 307.0H85.1V311.2H81.0zM101.7 307.0H105.8V311.2H101.7zM394.9 307.0H403.2V311.2H394.9zM394.9 311.2H399.0V315.3H394.9zM262.7 315.3H266.9V319.5H262.7zM138.8 323.6H143.0V327.7H138.8z"/>
<path fill="#ff6600" d="M423.8 46.2H427.9V50.4H423.8zM184.3 87.6H188.4V91.8H184.3zM188.4 95.9H192.5V100.0H188.4zM167.7 100.0H171.9V104.2H167.7zM213.2 104.2H217.3V108.3H213.2zM60.4 108.3H64.5V112.5H60.4zM233.8 108.3H237.9V112.5H233.8zM225.6 116.6H229.7V120.7H225.6zM320.6 116.6H324.7V120.7H320.6zM93.4 120.7H97.5V124.9H93.4zM151.2 120.7H155.3V124.9H151.2zM320.6 120.7H324.7V124.9H320.6zM147.1 124.9H151.2V129.0H147.1zM320.6 124.9H328.8V129.0H320.6zM101.7 129.0H105.8V133.2H101.7zM118.2 129.0H122.3V133.2H118.2zM147.1 129.0H155.3V133.2H147.1zM180.1 129.0H184.3V133.2H180.1zM324.7 129.0H328.8V133.2H324.7zM353.6 129.0H357.7V133.2H353.6zM64.5 133.2H72.8V137.3H64.5zM101.7 133.2H105.8V137.3H101.7zM147.1 133.2H151.2V137.3H147.1zM155.3 133.2H159.5V137.3H155.3zM262.7 133.2H266.9V137.3H262.7zM324.7 133.2H328.8V137.3H324.7zM349.5 133.2H353.6V137.3H349.5zM147.1 137.3H151.2V141.4H147.1zM159.5 137.3H163.6V141.4H159.5zM328.8 137.3H332.9V141.4H328.8zM349.5 137.3H353.6V141.4H349.5zM147.1 141.4H151.2V145.6H147.1zM176.0 141.4H180.1V145.6H176.0zM345.3 141.4H357.7V145.6H345.3zM345.3 145.6H349.5V149.7H345.3zM118.2 149.7H122.3V153.9H118.2zM337.1 149.7H341.2V153.9H337.1zM114.0 153.9H118.2V158.0H114.0zM341.2 153.9H345.3V158.0H341.2zM167.7 158.0H171.9V162.1H167.7zM349.5 158.0H353.6V162.1H349.5zM159.5 162.1H163.6V166.3H159.5zM246.2 162.1H250.3V166.3H246.2zM118.2 166.3H122.3V170.4H118.2zM155.3 166.3H163.6V170.4H155.3zM122.3 170.4H126.4V174.6H122.3zM130.6 174.6H134.7V178.7H130.6zM246.2 174.6H250.3V178.7H246.2zM258.6 174.6H262.7V178.7H258.6zM101.7 178.7H105.8V182.8H101.7zM114.0 182.8H118.2V187.0H114.0zM122.3 187.0H130.6V191.1H122.3zM221.4 220.1H229.7V224.2H221.4zM242.1 220.1H246.2V224.2H242.1zM229.7 224.2H242.1V228.4H229.7zM266.9 224.2H271.0V228.4H266.9zM204.9 228.4H209.0V232.5H204.9zM229.7 228.4H233.8V232.5H229.7zM242.1 228.4H246.2V232.5H242.1zM250.3 232.5H254.5V236.7H250.3zM258.6 232.5H262.7V236.7H258.6zM225.6 236.7H229.7V240.8H225.6zM221.4 240.8H225.6V244.9H221.4zM320.6 240.8H324.7V244.9H320.6zM349.5 244.9H353.6V249.1H349.5zM357.7 249.1H361.9V253.2H357.7zM419.7 253.2H423.8V257.4H419.7zM134.7 257.4H138.8V261.5H134.7zM304.0 261.5H308.2V265.6H304.0zM415.5 265.6H419.7V269.8H415.5zM423.8 269.8H427.9V273.9H423.8zM308.2 282.2H312.3V286.3H308.2zM324.7 286.3H328.8V290.5H324.7zM308.2 290.5H316.4V294.6H308.2zM304.0 294.6H308.2V298.8H304.0zM324.7 294.6H328.8V298.8H324.7zM316.4 315.3H320.6V319.5H316.4zM308.2 319.5H312.3V323.6H308.2zM328.8 319.5H332.9V323.6H328.8z"/>
<path fill="#00f2ff" d="M366.0 50.4H370.1V54.5H366.0zM394.9 50.4H399.0V54.5H394.9zM68.6 54.5H72.8V58.6H68.6zM337.1 54.5H341.2V58.6H337.1zM403.2 58.6H407.3V62.8H403.2zM56.2 62.8H60.4V66.9H56.2zM295.8 66.9H299.9V71.1H295.8zM279.2 79.3H283.4V83.5H279.2zM266.9 87.6H271.0V91.8H266.9zM386.6 91.8H390.8V95.9H386.6zM250.3 104.2H254.5V108.3H250.3zM250.3 120.7H254.5V124.9H250.3zM266.9 120.7H271.0V124.9H266.9zM316.4 174.6H320.6V178.7H316.4zM283.4 178.7H287.5V182.8H283.4zM312.3 199.4H316.4V203.5H312.3zM52.1 240.8H60.4V244.9H52.1zM64.5 244.9H68.6V249.1H64.5zM76.9 244.9H81.0V249.1H76.9zM176.0 278.1H180.1V282.2H176.0zM85.1 294.6H89.3V298.8H85.1zM93.4 294.6H97.5V298.8H93.4zM85.1 298.8H89.3V302.9H85.1zM246.2 298.8H250.3V302.9H246.2zM254.5 298.8H258.6V302.9H254.5zM81.0 302.9H85.1V307.0H81.0zM262.7 307.0H279.2V311.2H262.7zM258.6 311.2H271.0V315.3H258.6zM279.2 311.2H283.4V315.3H279.2zM254.5 319.5H258.6V323.6H254.5zM254.5 323.6H258.6V327.7H254.5z"/>
<path fill="#00e5ff" d="M370.1 50.4H374.2V54.5H370.1zM390.8 50.4H394.9V54.5H390.8zM64.5 54.5H68.6V58.6H64.5zM341.2 54.5H345.3V58.6H341.2zM60.4 66.9H64.5V71.1H60.4zM299.9 66.9H304.0V71.1H299.9zM287.5 71.1H291.6V75.2H287.5zM411.4 71.1H415.5V75.2H411.4zM275.1 83.5H279.2V87.6H275.1zM407.3 91.8H411.4V95.9H407.3zM328.8 95.9H332.9V100.0H328.8zM308.2 104.2H312.3V108.3H308.2zM279.2 116.6H283.4V120.7H279.2zM291.6 174.6H295.8V178.7H291.6zM304.0 174.6H312.3V178.7H304.0zM279.2 182.8H283.4V187.0H279.2zM275.1 187.0H279.2V191.1H275.1zM299.9 211.8H304.0V216.0H299.9zM85.1 232.5H89.3V236.7H85.1zM60.4 240.8H64.5V244.9H60.4zM68.6 244.9H76.9V249.1H68.6zM180.1 265.6H184.3V269.8H180.1zM147.1 269.8H151.2V273.9H147.1zM180.1 273.9H184.3V278.1H180.1zM167.7 278.1H176.0V282.2H167.7zM126.4 282.2H130.6V286.3H126.4zM105.8 286.3H109.9V290.5H105.8zM155.3 286.3H159.5V290.5H155.3zM81.0 294.6H85.1V298.8H81.0zM81.0 298.8H85.1V302.9H81.0zM242.1 302.9H246.2V307.0H242.1zM254.5 302.9H258.6V307.0H254.5zM134.7 307.0H138.8V311.2H134.7zM254.5 307.0H258.6V311.2H254.5zM254.5 311.2H258.6V315.3H254.5zM134.7 315.3H138.8V319.5H134.7zM242.1 319.5H246.2V323.6H242.1z"/>
<path fill="#00dfff" d="M374.2 50.4H378.4V54.5H374.2zM382.5 50.4H390.8V54.5H382.5zM68.6 58.6H72.8V62.8H68.6zM64.5 66.9H68.6V71.1H64.5zM411.4 75.2H415.5V79.3H411.4zM312.3 195.3H316.4V199.4H312.3zM279.2 203.5H283.4V207.7H279.2zM287.5 211.8H291.6V216.0H287.5zM76.9 228.4H81.0V232.5H76.9zM143.0 273.9H147.1V278.1H143.0zM163.6 278.1H167.7V282.2H163.6zM97.5 294.6H101.7V298.8H97.5zM76.9 298.8H81.0V302.9H76.9zM246.2 302.9H254.5V307.0H246.2zM109.9 315.3H114.0V319.5H109.9zM242.1 315.3H246.2V319.5H242.1zM109.9 319.5H114.0V323.6H109.9zM134.7 319.5H138.8V323.6H134.7z"/>
<path fill="#00d9ff" d="M378.4 50.4H382.5V54.5H378.4zM345.3 54.5H349.5V58.6H345.3zM324.7 58.6H328.8V62.8H324.7zM68.6 62.8H72.8V66.9H68.6zM304.0 66.9H308.2V71.1H304.0zM407.3 66.9H411.4V71.1H407.3zM378.4 87.6H382.5V91.8H378.4zM312.3 100.0H316.4V104.2H312.3zM254.5 120.7H258.6V124.9H254.5zM262.7 120.7H266.9V124.9H262.7zM295.8 174.6H304.0V178.7H295.8zM312.3 178.7H316.4V182.8H312.3zM275.1 195.3H279.2V199.4H275.1zM308.2 203.5H312.3V207.7H308.2zM304.0 207.7H308.2V211.8H304.0zM85.1 236.7H89.3V240.8H85.1zM180.1 269.8H184.3V273.9H180.1zM109.9 286.3H114.0V290.5H109.9zM143.0 298.8H147.1V302.9H143.0zM242.1 307.0H246.2V311.2H242.1zM250.3 307.0H254.5V311.2H250.3zM109.9 311.2H114.0V315.3H109.9zM242.1 311.2H246.2V315.3H242.1zM109.9 323.6H114.0V327.7H109.9zM250.3 323.6H254.5V327.7H250.3z"/>
<path fill="#00ffff" d="M56.2 54.5H60.4V58.6H56.2zM328.8 54.5H332.9V58.6H328.8zM209.0 58.6H221.4V62.8H209.0zM56.2 66.9H60.4V71.1H56.2zM204.9 66.9H209.0V71.1H204.9zM217.3 66.9H221.4V71.1H217.3zM291.6 66.9H295.8V71.1H291.6zM411.4 66.9H415.5V71.1H411.4zM209.0 71.1H213.2V75.2H209.0zM332.9 95.9H337.1V100.0H332.9zM407.3 95.9H411.4V100.0H407.3zM304.0 108.3H308.2V112.5H304.0zM275.1 199.4H279.2V203.5H275.1zM308.2 207.7H312.3V211.8H308.2zM56.2 236.7H60.4V240.8H56.2zM180.1 261.5H184.3V265.6H180.1zM101.7 286.3H105.8V290.5H101.7zM250.3 294.6H254.5V298.8H250.3zM242.1 298.8H246.2V302.9H242.1zM85.1 302.9H89.3V307.0H85.1zM237.9 302.9H242.1V307.0H237.9zM76.9 307.0H81.0V311.2H76.9zM237.9 307.0H242.1V311.2H237.9zM258.6 315.3H262.7V319.5H258.6zM266.9 315.3H279.2V319.5H266.9z"/>
<path fill="#00ecff" d="M60.4 54.5H64.5V58.6H60.4zM399.0 54.5H403.2V58.6H399.0zM56.2 58.6H60.4V62.8H56.2zM316.4 62.8H320.6V66.9H316.4zM68.6 66.9H72.8V71.1H68.6zM283.4 75.2H287.5V79.3H283.4zM411.4 79.3H415.5V83.5H411.4zM345.3 91.8H349.5V95.9H345.3zM403.2 95.9H407.3V100.0H403.2zM312.3 174.6H316.4V178.7H312.3zM72.8 228.4H76.9V232.5H72.8zM81.0 228.4H85.1V232.5H81.0zM60.4 236.7H64.5V240.8H60.4zM163.6 244.9H167.7V249.1H163.6zM159.5 253.2H163.6V257.4H159.5zM134.7 278.1H138.8V282.2H134.7zM159.5 282.2H163.6V286.3H159.5zM97.5 290.5H101.7V294.6H97.5zM76.9 294.6H81.0V298.8H76.9zM97.5 298.8H101.7V302.9H97.5zM250.3 298.8H254.5V302.9H250.3zM76.9 302.9H81.0V307.0H76.9zM101.7 302.9H105.8V307.0H101.7zM138.8 302.9H143.0V307.0H138.8zM105.8 307.0H109.9V311.2H105.8zM258.6 307.0H262.7V311.2H258.6zM134.7 311.2H138.8V315.3H134.7zM271.0 311.2H279.2V315.3H271.0zM254.5 315.3H258.6V319.5H254.5zM242.1 323.6H246.2V327.7H242.1z"/>
<path fill="#00f9ff" d="M332.9 54.5H337.1V58.6H332.9zM72.8 58.6H76.9V62.8H72.8zM72.8 62.8H76.9V66.9H72.8zM209.0 62.8H221.4V66.9H209.0zM407.3 62.8H411.4V66.9H407.3zM209.0 66.9H217.3V71.1H209.0zM213.2 71.1H217.3V75.2H213.2zM399.0 95.9H403.2V100.0H399.0zM291.6 112.5H295.8V116.6H291.6zM320.6 166.3H324.7V170.4H320.6zM316.4 170.4H324.7V174.6H316.4zM316.4 178.7H320.6V182.8H316.4zM64.5 232.5H68.6V236.7H64.5zM167.7 236.7H171.9V240.8H167.7zM176.0 236.7H180.1V240.8H176.0zM85.1 240.8H89.3V244.9H85.1zM151.2 265.6H155.3V269.8H151.2zM89.3 294.6H93.4V298.8H89.3zM72.8 298.8H76.9V302.9H72.8zM89.3 298.8H97.5V302.9H89.3zM72.8 302.9H76.9V307.0H72.8zM258.6 302.9H262.7V307.0H258.6zM279.2 307.0H283.4V311.2H279.2zM105.8 311.2H109.9V315.3H105.8zM105.8 315.3H109.9V319.5H105.8zM105.8 319.5H109.9V323.6H105.8zM105.8 323.6H109.9V327.7H105.8z"/>
<path fill="#00ccff" d="M349.5 54.5H353.6V58.6H349.5zM64.5 58.6H68.6V62.8H64.5zM399.0 58.6H403.2V62.8H399.0zM64.5 62.8H68.6V66.9H64.5zM403.2 62.8H407.3V66.9H403.2zM361.9 83.5H366.0V87.6H361.9zM271.0 87.6H275.1V91.8H271.0zM349.5 87.6H353.6V91.8H349.5zM262.7 91.8H266.9V95.9H262.7zM250.3 108.3H254.5V112.5H250.3zM312.3 182.8H316.4V187.0H312.3zM312.3 187.0H316.4V191.1H312.3zM275.1 191.1H279.2V195.3H275.1zM291.6 211.8H299.9V216.0H291.6zM64.5 240.8H68.6V244.9H64.5zM81.0 240.8H85.1V244.9H81.0zM163.6 249.1H167.7V253.2H163.6zM138.8 278.1H143.0V282.2H138.8zM101.7 290.5H105.8V294.6H101.7zM147.1 294.6H151.2V298.8H147.1zM109.9 307.0H114.0V311.2H109.9zM246.2 311.2H250.3V315.3H246.2zM246.2 315.3H250.3V319.5H246.2zM246.2 319.5H250.3V323.6H246.2zM246.2 323.6H250.3V327.7H246.2z"/>
<path fill="#00bfff" d="M353.6 54.5H357.7V58.6H353.6zM328.8 58.6H332.9V62.8H328.8zM320.6 62.8H324.7V66.9H320.6zM287.5 75.2H291.6V79.3H287.5zM283.4 79.3H287.5V83.5H283.4zM357.7 83.5H361.9V87.6H357.7zM407.3 83.5H411.4V87.6H407.3zM287.5 178.7H291.6V182.8H287.5zM167.7 240.8H171.9V244.9H167.7zM176.0 244.9H180.1V249.1H176.0zM176.0 249.1H180.1V253.2H176.0zM176.0 253.2H180.1V257.4H176.0zM159.5 257.4H163.6V261.5H159.5zM159.5 278.1H163.6V282.2H159.5zM130.6 282.2H134.7V286.3H130.6zM101.7 294.6H105.8V298.8H101.7z"/>
<path fill="#00b2ff" d="M357.7 54.5H361.9V58.6H357.7zM394.9 58.6H399.0V62.8H394.9zM407.3 79.3H411.4V83.5H407.3zM370.1 83.5H374.2V87.6H370.1zM341.2 91.8H345.3V95.9H341.2zM320.6 95.9H324.7V100.0H320.6zM254.5 100.0H258.6V104.2H254.5zM275.1 116.6H279.2V120.7H275.1zM279.2 199.4H283.4V203.5H279.2zM299.9 207.7H304.0V211.8H299.9zM76.9 232.5H81.0V236.7H76.9zM68.6 236.7H72.8V240.8H68.6zM81.0 236.7H85.1V240.8H81.0zM76.9 240.8H81.0V244.9H76.9zM155.3 265.6H159.5V269.8H155.3zM155.3 282.2H159.5V286.3H155.3zM105.8 290.5H109.9V294.6H105.8zM114.0 307.0H118.2V311.2H114.0zM130.6 315.3H134.7V319.5H130.6z"/>
<path fill="#00a6ff" d="M361.9 54.5H366.0V58.6H361.9zM378.4 54.5H382.5V58.6H378.4zM399.0 62.8H403.2V66.9H399.0zM295.8 71.1H299.9V75.2H295.8zM353.6 83.5H357.7V87.6H353.6zM275.1 87.6H279.2V91.8H275.1zM382.5 87.6H386.6V91.8H382.5zM287.5 207.7H291.6V211.8H287.5zM176.0 261.5H180.1V265.6H176.0zM159.5 273.9H163.6V278.1H159.5zM143.0 278.1H147.1V282.2H143.0zM109.9 290.5H122.3V294.6H109.9zM105.8 294.6H109.9V298.8H105.8zM109.9 298.8H114.0V302.9H109.9zM114.0 302.9H118.2V307.0H114.0zM130.6 302.9H134.7V307.0H130.6zM130.6 323.6H134.7V327.7H130.6z"/>
<path fill="#009fff" d="M366.0 54.5H370.1V58.6H366.0zM374.2 54.5H378.4V58.6H374.2zM337.1 58.6H341.2V62.8H337.1zM324.7 62.8H328.8V66.9H324.7zM304.0 178.7H308.2V182.8H304.0zM308.2 195.3H312.3V199.4H308.2zM283.4 203.5H287.5V207.7H283.4zM72.8 236.7H81.0V240.8H72.8zM171.9 240.8H176.0V244.9H171.9zM167.7 244.9H171.9V249.1H167.7zM155.3 269.8H159.5V273.9H155.3zM176.0 269.8H180.1V273.9H176.0zM122.3 290.5H126.4V294.6H122.3z"/>
<path fill="#0099ff" d="M370.1 54.5H374.2V58.6H370.1zM390.8 58.6H394.9V62.8H390.8zM266.9 91.8H271.0V95.9H266.9zM304.0 104.2H308.2V108.3H304.0zM295.8 108.3H299.9V112.5H295.8zM291.6 178.7H295.8V182.8H291.6zM308.2 182.8H312.3V187.0H308.2zM279.2 195.3H283.4V199.4H279.2zM295.8 207.7H299.9V211.8H295.8zM163.6 257.4H167.7V261.5H163.6zM159.5 261.5H163.6V265.6H159.5zM176.0 265.6H180.1V269.8H176.0zM134.7 282.2H138.8V286.3H134.7zM109.9 294.6H114.0V298.8H109.9zM114.0 298.8H118.2V302.9H114.0zM118.2 307.0H122.3V311.2H118.2zM126.4 307.0H130.6V311.2H126.4zM118.2 311.2H122.3V315.3H118.2zM126.4 311.2H130.6V315.3H126.4zM118.2 315.3H122.3V319.5H118.2zM118.2 319.5H122.3V323.6H118.2zM118.2 323.6H122.3V327.7H118.2z"/>
<path fill="#00acff" d="M382.5 54.5H386.6V58.6H382.5zM332.9 58.6H337.1V62.8H332.9zM312.3 66.9H316.4V71.1H312.3zM403.2 66.9H407.3V71.1H403.2zM407.3 75.2H411.4V79.3H407.3zM394.9 91.8H403.2V95.9H394.9zM258.6 95.9H262.7V100.0H258.6zM283.4 182.8H287.5V187.0H283.4zM279.2 187.0H283.4V191.1H279.2zM304.0 203.5H308.2V207.7H304.0zM72.8 240.8H76.9V244.9H72.8zM163.6 253.2H167.7V257.4H163.6zM151.2 269.8H155.3V273.9H151.2zM163.6 273.9H176.0V278.1H163.6zM126.4 286.3H130.6V290.5H126.4zM151.2 286.3H155.3V290.5H151.2zM138.8 298.8H143.0V302.9H138.8zM130.6 319.5H134.7V323.6H130.6z"/>
<path fill="#00b9ff" d="M386.6 54.5H390.8V58.6H386.6zM407.3 71.1H411.4V75.2H407.3zM279.2 83.5H283.4V87.6H279.2zM403.2 91.8H407.3V95.9H403.2zM250.3 112.5H254.5V116.6H250.3zM308.2 178.7H312.3V182.8H308.2zM308.2 199.4H312.3V203.5H308.2zM72.8 232.5H76.9V236.7H72.8zM68.6 240.8H72.8V244.9H68.6zM176.0 257.4H180.1V261.5H176.0zM176.0 273.9H180.1V278.1H176.0zM105.8 298.8H109.9V302.9H105.8zM109.9 302.9H114.0V307.0H109.9zM130.6 307.0H134.7V311.2H130.6zM114.0 311.2H118.2V315.3H114.0zM130.6 311.2H134.7V315.3H130.6zM114.0 315.3H118.2V319.5H114.0zM114.0 319.5H118.2V323.6H114.0zM114.0 323.6H118.2V327.7H114.0z"/>
<path fill="#00c6ff" d="M390.8 54.5H394.9V58.6H390.8zM308.2 66.9H312.3V71.1H308.2zM291.6 71.1H295.8V75.2H291.6zM366.0 83.5H370.1V87.6H366.0zM390.8 91.8H394.9V95.9H390.8zM299.9 108.3H304.0V112.5H299.9zM287.5 112.5H291.6V116.6H287.5zM250.3 116.6H254.5V120.7H250.3zM81.0 232.5H85.1V236.7H81.0zM122.3 286.3H126.4V290.5H122.3zM134.7 302.9H138.8V307.0H134.7z"/>
<path fill="#00d2ff" d="M394.9 54.5H399.0V58.6H394.9zM60.4 58.6H64.5V62.8H60.4zM60.4 62.8H64.5V66.9H60.4zM407.3 87.6H411.4V91.8H407.3zM324.7 95.9H328.8V100.0H324.7zM258.6 120.7H262.7V124.9H258.6zM312.3 191.1H316.4V195.3H312.3zM283.4 207.7H287.5V211.8H283.4zM68.6 232.5H72.8V236.7H68.6zM64.5 236.7H68.6V240.8H64.5zM171.9 236.7H176.0V240.8H171.9zM176.0 240.8H180.1V244.9H176.0zM155.3 261.5H159.5V265.6H155.3zM114.0 286.3H122.3V290.5H114.0zM151.2 290.5H155.3V294.6H151.2zM101.7 298.8H105.8V302.9H101.7zM105.8 302.9H109.9V307.0H105.8zM246.2 307.0H250.3V311.2H246.2zM250.3 311.2H254.5V315.3H250.3zM250.3 315.3H254.5V319.5H250.3zM250.3 319.5H254.5V323.6H250.3zM134.7 323.6H138.8V327.7H134.7z"/>
<path fill="#008cff" d="M341.2 58.6H345.3V62.8H341.2zM291.6 75.2H295.8V79.3H291.6zM283.4 83.5H287.5V87.6H283.4zM295.8 178.7H299.9V182.8H295.8zM308.2 187.0H312.3V191.1H308.2zM304.0 199.4H308.2V203.5H304.0zM167.7 249.1H171.9V253.2H167.7zM163.6 261.5H167.7V265.6H163.6zM163.6 269.8H171.9V273.9H163.6zM151.2 282.2H155.3V286.3H151.2zM126.4 290.5H130.6V294.6H126.4zM147.1 290.5H151.2V294.6H147.1zM122.3 294.6H126.4V298.8H122.3zM143.0 294.6H147.1V298.8H143.0zM118.2 298.8H126.4V302.9H118.2zM122.3 302.9H126.4V307.0H122.3zM122.3 311.2H126.4V315.3H122.3zM122.3 315.3H126.4V319.5H122.3zM126.4 319.5H130.6V323.6H126.4zM126.4 323.6H130.6V327.7H126.4z"/>
<path fill="#0080ff" d="M345.3 58.6H349.5V62.8H345.3zM403.2 75.2H407.3V79.3H403.2zM349.5 83.5H353.6V87.6H349.5zM403.2 83.5H407.3V87.6H403.2zM271.0 116.6H275.1V120.7H271.0zM287.5 182.8H291.6V187.0H287.5zM283.4 187.0H287.5V191.1H283.4zM283.4 199.4H287.5V203.5H283.4zM167.7 257.4H171.9V261.5H167.7zM167.7 261.5H176.0V265.6H167.7zM171.9 265.6H176.0V269.8H171.9zM147.1 278.1H151.2V282.2H147.1zM138.8 282.2H143.0V286.3H138.8zM126.4 294.6H130.6V298.8H126.4z"/>
<path fill="#006cff" d="M349.5 58.6H353.6V62.8H349.5zM390.8 62.8H394.9V66.9H390.8zM304.0 71.1H308.2V75.2H304.0zM378.4 83.5H382.5V87.6H378.4zM399.0 87.6H403.2V91.8H399.0zM291.6 182.8H295.8V187.0H291.6zM151.2 273.9H155.3V278.1H151.2zM151.2 278.1H155.3V282.2H151.2zM130.6 290.5H134.7V294.6H130.6zM138.8 294.6H143.0V298.8H138.8z"/>
<path fill="#0060ff" d="M353.6 58.6H357.7V62.8H353.6zM374.2 58.6H378.4V62.8H374.2zM394.9 66.9H399.0V71.1H394.9zM357.7 79.3H361.9V83.5H357.7zM366.0 79.3H370.1V83.5H366.0zM287.5 83.5H291.6V87.6H287.5zM390.8 87.6H394.9V91.8H390.8zM332.9 91.8H337.1V95.9H332.9zM295.8 182.8H299.9V187.0H295.8zM287.5 191.1H295.8V195.3H287.5zM295.8 195.3H299.9V199.4H295.8zM134.7 286.3H138.8V290.5H134.7z"/>
<path fill="#0053ff" d="M357.7 58.6H374.2V62.8H357.7zM341.2 62.8H345.3V66.9H341.2zM386.6 62.8H390.8V66.9H386.6zM399.0 75.2H403.2V79.3H399.0zM353.6 79.3H357.7V83.5H353.6zM345.3 83.5H349.5V87.6H345.3zM283.4 87.6H287.5V91.8H283.4zM341.2 87.6H345.3V91.8H341.2zM275.1 91.8H279.2V95.9H275.1zM258.6 100.0H262.7V104.2H258.6zM254.5 108.3H258.6V112.5H254.5zM295.8 187.0H304.0V191.1H295.8zM143.0 286.3H147.1V290.5H143.0z"/>
<path fill="#0066ff" d="M378.4 58.6H382.5V62.8H378.4zM337.1 62.8H341.2V66.9H337.1zM324.7 66.9H328.8V71.1H324.7zM399.0 71.1H403.2V75.2H399.0zM295.8 75.2H299.9V79.3H295.8zM291.6 79.3H295.8V83.5H291.6zM361.9 79.3H366.0V83.5H361.9zM262.7 95.9H266.9V100.0H262.7zM299.9 104.2H304.0V108.3H299.9zM258.6 116.6H262.7V120.7H258.6zM266.9 116.6H271.0V120.7H266.9zM299.9 182.8H304.0V187.0H299.9zM287.5 187.0H291.6V191.1H287.5zM304.0 187.0H308.2V191.1H304.0zM304.0 191.1H308.2V195.3H304.0zM287.5 195.3H295.8V199.4H287.5zM299.9 195.3H304.0V199.4H299.9zM287.5 199.4H299.9V203.5H287.5zM134.7 294.6H138.8V298.8H134.7z"/>
<path fill="#0079ff" d="M382.5 58.6H386.6V62.8H382.5zM320.6 66.9H324.7V71.1H320.6zM403.2 79.3H407.3V83.5H403.2zM279.2 87.6H283.4V91.8H279.2zM386.6 87.6H390.8V91.8H386.6zM304.0 182.8H308.2V187.0H304.0zM287.5 203.5H291.6V207.7H287.5zM143.0 282.2H147.1V286.3H143.0zM147.1 286.3H151.2V290.5H147.1z"/>
<path fill="#0086ff" d="M386.6 58.6H390.8V62.8H386.6zM328.8 62.8H332.9V66.9H328.8zM394.9 62.8H399.0V66.9H394.9zM399.0 66.9H403.2V71.1H399.0zM299.9 71.1H304.0V75.2H299.9zM337.1 91.8H341.2V95.9H337.1zM254.5 116.6H258.6V120.7H254.5zM299.9 203.5H304.0V207.7H299.9zM171.9 244.9H176.0V249.1H171.9zM171.9 249.1H176.0V253.2H171.9zM167.7 253.2H176.0V257.4H167.7zM171.9 257.4H176.0V261.5H171.9zM159.5 265.6H171.9V269.8H159.5zM171.9 269.8H176.0V273.9H171.9zM155.3 273.9H159.5V278.1H155.3zM155.3 278.1H159.5V282.2H155.3zM147.1 282.2H151.2V286.3H147.1zM130.6 286.3H134.7V290.5H130.6zM126.4 298.8H134.7V302.9H126.4zM122.3 319.5H126.4V323.6H122.3zM122.3 323.6H126.4V327.7H122.3z"/>
<path fill="#0073ff" d="M332.9 62.8H337.1V66.9H332.9zM271.0 91.8H275.1V95.9H271.0zM312.3 95.9H316.4V100.0H312.3zM254.5 104.2H258.6V108.3H254.5zM291.6 108.3H295.8V112.5H291.6zM283.4 191.1H287.5V195.3H283.4zM283.4 195.3H287.5V199.4H283.4zM304.0 195.3H308.2V199.4H304.0zM299.9 199.4H304.0V203.5H299.9zM291.6 203.5H299.9V207.7H291.6zM130.6 294.6H134.7V298.8H130.6z"/>
<path fill="#0040ff" d="M345.3 62.8H349.5V66.9H345.3zM382.5 62.8H386.6V66.9H382.5zM337.1 66.9H341.2V71.1H337.1zM316.4 71.1H320.6V75.2H316.4zM394.9 71.1H399.0V75.2H394.9zM299.9 75.2H304.0V79.3H299.9zM349.5 79.3H353.6V83.5H349.5zM291.6 83.5H295.8V87.6H291.6zM138.8 290.5H143.0V294.6H138.8z"/>
<path fill="#002dff" d="M349.5 62.8H353.6V66.9H349.5zM341.2 66.9H345.3V71.1H341.2zM386.6 66.9H390.8V71.1H386.6zM328.8 71.1H332.9V75.2H328.8zM386.6 83.5H390.8V87.6H386.6zM394.9 83.5H399.0V87.6H394.9zM304.0 95.9H308.2V100.0H304.0zM299.9 100.0H304.0V104.2H299.9z"/>
<path fill="#0019ff" d="M353.6 62.8H357.7V66.9H353.6zM370.1 62.8H374.2V66.9H370.1zM345.3 66.9H349.5V71.1H345.3zM341.2 71.1H345.3V75.2H341.2zM299.9 79.3H304.0V83.5H299.9zM283.4 91.8H287.5V95.9H283.4zM308.2 91.8H312.3V95.9H308.2zM271.0 95.9H275.1V100.0H271.0zM291.6 104.2H295.8V108.3H291.6zM283.4 108.3H287.5V112.5H283.4zM258.6 112.5H262.7V116.6H258.6z"/>
<path fill="#0013ff" d="M357.7 62.8H361.9V66.9H357.7zM366.0 62.8H370.1V66.9H366.0zM382.5 66.9H386.6V71.1H382.5zM345.3 75.2H366.0V79.3H345.3zM304.0 91.8H308.2V95.9H304.0zM299.9 95.9H304.0V100.0H299.9zM258.6 104.2H262.7V108.3H258.6z"/>
<path fill="#000dff" d="M361.9 62.8H366.0V66.9H361.9zM345.3 71.1H349.5V75.2H345.3zM308.2 75.2H312.3V79.3H308.2zM341.2 75.2H345.3V79.3H341.2zM366.0 75.2H370.1V79.3H366.0zM390.8 75.2H394.9V79.3H390.8zM341.2 79.3H345.3V83.5H341.2zM382.5 79.3H386.6V83.5H382.5zM390.8 79.3H394.9V83.5H390.8zM299.9 83.5H304.0V87.6H299.9zM295.8 87.6H299.9V91.8H295.8zM299.9 91.8H304.0V95.9H299.9zM262.7 100.0H266.9V104.2H262.7zM295.8 100.0H299.9V104.2H295.8z"/>
<path fill="#0026ff" d="M374.2 62.8H378.4V66.9H374.2zM332.9 71.1H337.1V75.2H332.9zM394.9 75.2H399.0V79.3H394.9zM345.3 79.3H349.5V83.5H345.3zM378.4 79.3H382.5V83.5H378.4zM320.6 91.8H324.7V95.9H320.6zM275.1 112.5H279.2V116.6H275.1z"/>
<path fill="#0033ff" d="M378.4 62.8H382.5V66.9H378.4zM320.6 71.1H328.8V75.2H320.6zM287.5 87.6H291.6V91.8H287.5zM279.2 91.8H283.4V95.9H279.2zM324.7 91.8H328.8V95.9H324.7z"/>
<path fill="#0093ff" d="M316.4 66.9H320.6V71.1H316.4zM403.2 71.1H407.3V75.2H403.2zM287.5 79.3H291.6V83.5H287.5zM374.2 83.5H378.4V87.6H374.2zM345.3 87.6H349.5V91.8H345.3zM403.2 87.6H407.3V91.8H403.2zM316.4 95.9H320.6V100.0H316.4zM308.2 100.0H312.3V104.2H308.2zM283.4 112.5H287.5V116.6H283.4zM299.9 178.7H304.0V182.8H299.9zM279.2 191.1H283.4V195.3H279.2zM308.2 191.1H312.3V195.3H308.2zM291.6 207.7H295.8V211.8H291.6zM159.5 269.8H163.6V273.9H159.5zM147.1 273.9H151.2V278.1H147.1zM114.0 294.6H122.3V298.8H114.0zM134.7 298.8H138.8V302.9H134.7zM118.2 302.9H122.3V307.0H118.2zM126.4 302.9H130.6V307.0H126.4zM122.3 307.0H126.4V311.2H122.3zM126.4 315.3H130.6V319.5H126.4z"/>
<path fill="#0059ff" d="M328.8 66.9H332.9V71.1H328.8zM308.2 71.1H312.3V75.2H308.2zM394.9 87.6H399.0V91.8H394.9zM304.0 100.0H308.2V104.2H304.0zM254.5 112.5H258.6V116.6H254.5zM279.2 112.5H283.4V116.6H279.2zM262.7 116.6H266.9V120.7H262.7zM291.6 187.0H295.8V191.1H291.6zM295.8 191.1H304.0V195.3H295.8zM143.0 290.5H147.1V294.6H143.0z"/>
<path fill="#004dff" d="M332.9 66.9H337.1V71.1H332.9zM370.1 79.3H374.2V83.5H370.1zM399.0 83.5H403.2V87.6H399.0zM308.2 95.9H312.3V100.0H308.2zM134.7 290.5H138.8V294.6H134.7z"/>
<path fill="#0006ff" d="M349.5 66.9H353.6V71.1H349.5zM378.4 66.9H382.5V71.1H378.4zM386.6 71.1H390.8V75.2H386.6zM337.1 75.2H341.2V79.3H337.1zM370.1 75.2H374.2V79.3H370.1zM386.6 79.3H390.8V83.5H386.6zM299.9 87.6H304.0V91.8H299.9zM287.5 91.8H291.6V95.9H287.5z"/>
<path fill="#0000f9" d="M353.6 66.9H357.7V71.1H353.6zM374.2 66.9H378.4V71.1H374.2zM382.5 71.1H386.6V75.2H382.5zM316.4 75.2H320.6V79.3H316.4zM324.7 75.2H332.9V79.3H324.7zM378.4 75.2H382.5V79.3H378.4zM386.6 75.2H390.8V79.3H386.6zM304.0 79.3H308.2V83.5H304.0zM332.9 87.6H337.1V91.8H332.9zM295.8 95.9H299.9V100.0H295.8zM258.6 108.3H262.7V112.5H258.6zM262.7 112.5H266.9V116.6H262.7z"/>
<path fill="#0000ec" d="M357.7 66.9H361.9V71.1H357.7zM366.0 66.9H370.1V71.1H366.0zM357.7 71.1H361.9V75.2H357.7zM374.2 71.1H378.4V75.2H374.2zM279.2 95.9H283.4V100.0H279.2zM291.6 95.9H295.8V100.0H291.6zM291.6 100.0H295.8V104.2H291.6zM279.2 108.3H283.4V112.5H279.2z"/>
<path fill="#0000e6" d="M361.9 66.9H366.0V71.1H361.9zM361.9 71.1H374.2V75.2H361.9zM308.2 79.3H312.3V83.5H308.2zM312.3 87.6H316.4V91.8H312.3zM283.4 95.9H291.6V100.0H283.4z"/>
<path fill="#0000f2" d="M370.1 66.9H374.2V71.1H370.1zM353.6 71.1H357.7V75.2H353.6zM378.4 71.1H382.5V75.2H378.4zM320.6 75.2H324.7V79.3H320.6zM382.5 75.2H386.6V79.3H382.5zM337.1 79.3H341.2V83.5H337.1zM304.0 83.5H308.2V87.6H304.0zM337.1 83.5H341.2V87.6H337.1zM308.2 87.6H312.3V91.8H308.2zM287.5 104.2H291.6V108.3H287.5zM266.9 112.5H271.0V116.6H266.9z"/>
<path fill="#0046ff" d="M390.8 66.9H394.9V71.1H390.8zM312.3 71.1H316.4V75.2H312.3zM399.0 79.3H403.2V83.5H399.0zM382.5 83.5H386.6V87.6H382.5zM328.8 91.8H332.9V95.9H328.8zM287.5 108.3H291.6V112.5H287.5zM138.8 286.3H143.0V290.5H138.8z"/>
<path fill="#ffb900" d="M109.9 71.1H114.0V75.2H109.9zM180.1 83.5H184.3V87.6H180.1zM196.6 83.5H200.8V87.6H196.6zM237.9 87.6H242.1V91.8H237.9zM163.6 95.9H167.7V100.0H163.6zM105.8 100.0H109.9V104.2H105.8zM68.6 104.2H72.8V108.3H68.6zM114.0 104.2H118.2V108.3H114.0zM328.8 104.2H332.9V108.3H328.8zM390.8 104.2H394.9V108.3H390.8zM118.2 108.3H122.3V112.5H118.2zM184.3 108.3H188.4V112.5H184.3zM237.9 108.3H242.1V112.5H237.9zM138.8 112.5H143.0V116.6H138.8zM316.4 112.5H320.6V116.6H316.4zM312.3 116.6H316.4V120.7H312.3zM283.4 124.9H287.5V129.0H283.4zM370.1 124.9H374.2V129.0H370.1zM271.0 129.0H275.1V133.2H271.0zM213.2 133.2H217.3V137.3H213.2zM68.6 141.4H72.8V145.6H68.6zM163.6 145.6H167.7V149.7H163.6zM204.9 145.6H209.0V149.7H204.9zM213.2 149.7H217.3V153.9H213.2zM357.7 149.7H361.9V153.9H357.7zM171.9 153.9H176.0V158.0H171.9zM291.6 158.0H295.8V162.1H291.6zM299.9 158.0H304.0V162.1H299.9zM180.1 162.1H184.3V166.3H180.1zM337.1 162.1H341.2V166.3H337.1zM184.3 166.3H188.4V170.4H184.3zM341.2 166.3H345.3V170.4H341.2zM167.7 174.6H171.9V178.7H167.7zM184.3 174.6H188.4V178.7H184.3zM93.4 187.0H101.7V191.1H93.4zM337.1 187.0H345.3V191.1H337.1zM109.9 191.1H114.0V195.3H109.9zM337.1 191.1H341.2V195.3H337.1zM341.2 195.3H349.5V199.4H341.2zM229.7 199.4H233.8V203.5H229.7zM217.3 207.7H221.4V211.8H217.3zM233.8 207.7H237.9V211.8H233.8zM250.3 207.7H254.5V211.8H250.3zM262.7 207.7H266.9V211.8H262.7zM204.9 220.1H209.0V224.2H204.9zM361.9 220.1H366.0V224.2H361.9zM357.7 228.4H361.9V232.5H357.7zM370.1 228.4H374.2V232.5H370.1zM118.2 236.7H122.3V240.8H118.2zM134.7 236.7H138.8V240.8H134.7zM394.9 236.7H399.0V240.8H394.9zM407.3 236.7H411.4V240.8H407.3zM147.1 244.9H151.2V249.1H147.1zM366.0 244.9H370.1V249.1H366.0zM304.0 249.1H308.2V253.2H304.0zM209.0 257.4H213.2V261.5H209.0zM295.8 261.5H299.9V265.6H295.8zM386.6 261.5H390.8V265.6H386.6zM378.4 265.6H382.5V269.8H378.4zM394.9 265.6H399.0V269.8H394.9zM374.2 269.8H378.4V273.9H374.2zM275.1 278.1H279.2V282.2H275.1zM370.1 282.2H374.2V286.3H370.1zM299.9 319.5H304.0V323.6H299.9z"/>
<path fill="#0020ff" d="M337.1 71.1H341.2V75.2H337.1zM390.8 71.1H394.9V75.2H390.8zM304.0 75.2H308.2V79.3H304.0zM394.9 79.3H399.0V83.5H394.9zM295.8 83.5H299.9V87.6H295.8zM341.2 83.5H345.3V87.6H341.2zM390.8 83.5H394.9V87.6H390.8zM291.6 87.6H295.8V91.8H291.6zM337.1 87.6H341.2V91.8H337.1zM312.3 91.8H320.6V95.9H312.3z"/>
<path fill="#0000ff" d="M349.5 71.1H353.6V75.2H349.5zM312.3 75.2H316.4V79.3H312.3zM332.9 75.2H337.1V79.3H332.9zM374.2 75.2H378.4V79.3H374.2zM304.0 87.6H308.2V91.8H304.0zM291.6 91.8H299.9V95.9H291.6zM275.1 95.9H279.2V100.0H275.1zM271.0 112.5H275.1V116.6H271.0z"/>
<path fill="#0039ff" d="M295.8 79.3H299.9V83.5H295.8zM374.2 79.3H378.4V83.5H374.2zM266.9 95.9H271.0V100.0H266.9zM295.8 104.2H299.9V108.3H295.8z"/>
<path fill="#0000d2" d="M312.3 79.3H316.4V83.5H312.3zM332.9 83.5H337.1V87.6H332.9zM316.4 87.6H320.6V91.8H316.4zM283.4 104.2H287.5V108.3H283.4z"/>
<path fill="#0000c6" d="M316.4 79.3H320.6V83.5H316.4zM324.7 79.3H328.8V83.5H324.7zM271.0 100.0H275.1V104.2H271.0zM283.4 100.0H287.5V104.2H283.4zM262.7 108.3H266.9V112.5H262.7zM275.1 108.3H279.2V112.5H275.1z"/>
<path fill="#0000bf" d="M320.6 79.3H324.7V83.5H320.6zM328.8 83.5H332.9V87.6H328.8zM279.2 100.0H283.4V104.2H279.2z"/>
<path fill="#0000cc" d="M328.8 79.3H332.9V83.5H328.8zM312.3 83.5H316.4V87.6H312.3zM320.6 87.6H328.8V91.8H320.6zM262.7 104.2H266.9V108.3H262.7z"/>
<path fill="#0000df" d="M332.9 79.3H337.1V83.5H332.9zM308.2 83.5H312.3V87.6H308.2zM266.9 100.0H271.0V104.2H266.9z"/>
<path fill="#0000b9" d="M316.4 83.5H320.6V87.6H316.4zM275.1 100.0H279.2V104.2H275.1z"/>
<path fill="#0000b2" d="M320.6 83.5H328.8V87.6H320.6zM279.2 104.2H283.4V108.3H279.2z"/>
<path fill="#0000d9" d="M328.8 87.6H332.9V91.8H328.8zM287.5 100.0H291.6V104.2H287.5z"/>
<path fill="#ff6000" d="M180.1 91.8H184.3V95.9H180.1zM180.1 100.0H184.3V104.2H180.1zM101.7 108.3H109.9V112.5H101.7zM97.5 112.5H101.7V116.6H97.5zM109.9 112.5H114.0V116.6H109.9zM68.6 116.6H72.8V120.7H68.6zM155.3 116.6H159.5V120.7H155.3zM180.1 116.6H184.3V120.7H180.1zM366.0 116.6H370.1V120.7H366.0zM68.6 120.7H72.8V124.9H68.6zM109.9 120.7H114.0V124.9H109.9zM85.1 124.9H89.3V129.0H85.1zM101.7 124.9H105.8V129.0H101.7zM151.2 124.9H155.3V129.0H151.2zM316.4 124.9H320.6V129.0H316.4zM353.6 124.9H357.7V129.0H353.6zM72.8 129.0H76.9V133.2H72.8zM320.6 129.0H324.7V133.2H320.6zM60.4 133.2H64.5V137.3H60.4zM72.8 133.2H76.9V137.3H72.8zM320.6 133.2H324.7V137.3H320.6zM316.4 137.3H320.6V141.4H316.4zM345.3 137.3H349.5V141.4H345.3zM163.6 141.4H167.7V145.6H163.6zM312.3 141.4H316.4V145.6H312.3zM332.9 141.4H337.1V145.6H332.9zM105.8 149.7H109.9V153.9H105.8zM130.6 153.9H138.8V158.0H130.6zM97.5 162.1H101.7V166.3H97.5zM126.4 174.6H130.6V178.7H126.4zM105.8 178.7H109.9V182.8H105.8zM130.6 178.7H134.7V182.8H130.6zM262.7 216.0H266.9V220.1H262.7zM213.2 224.2H217.3V228.4H213.2zM221.4 224.2H229.7V228.4H221.4zM254.5 232.5H258.6V236.7H254.5zM217.3 240.8H221.4V244.9H217.3zM122.3 244.9H126.4V249.1H122.3zM213.2 244.9H217.3V249.1H213.2zM316.4 244.9H320.6V249.1H316.4zM209.0 249.1H213.2V253.2H209.0zM394.9 249.1H399.0V253.2H394.9zM370.1 253.2H374.2V257.4H370.1zM394.9 253.2H399.0V257.4H394.9zM89.3 257.4H93.4V261.5H89.3zM122.3 261.5H126.4V265.6H122.3zM423.8 261.5H427.9V265.6H423.8zM105.8 265.6H109.9V269.8H105.8zM419.7 265.6H423.8V269.8H419.7zM97.5 269.8H101.7V273.9H97.5zM89.3 273.9H93.4V278.1H89.3zM312.3 282.2H320.6V286.3H312.3zM366.0 282.2H370.1V286.3H366.0zM366.0 286.3H370.1V290.5H366.0zM209.0 319.5H213.2V323.6H209.0zM353.6 323.6H357.7V327.7H353.6z"/>
<path fill="#ff4c00" d="M184.3 91.8H188.4V95.9H184.3zM192.5 91.8H196.6V95.9H192.5zM217.3 95.9H221.4V100.0H217.3zM233.8 95.9H237.9V100.0H233.8zM171.9 100.0H180.1V104.2H171.9zM163.6 108.3H167.7V112.5H163.6zM328.8 108.3H332.9V112.5H328.8zM105.8 112.5H109.9V116.6H105.8zM386.6 112.5H390.8V116.6H386.6zM101.7 116.6H109.9V120.7H101.7zM221.4 116.6H225.6V120.7H221.4zM349.5 120.7H353.6V124.9H349.5zM155.3 124.9H159.5V129.0H155.3zM332.9 124.9H337.1V129.0H332.9zM349.5 124.9H353.6V129.0H349.5zM64.5 129.0H68.6V133.2H64.5zM122.3 129.0H126.4V133.2H122.3zM138.8 129.0H143.0V133.2H138.8zM316.4 129.0H320.6V133.2H316.4zM332.9 129.0H337.1V133.2H332.9zM345.3 129.0H349.5V133.2H345.3zM143.0 133.2H147.1V137.3H143.0zM316.4 133.2H320.6V137.3H316.4zM332.9 133.2H337.1V137.3H332.9zM341.2 133.2H345.3V137.3H341.2zM76.9 137.3H81.0V141.4H76.9zM163.6 137.3H167.7V141.4H163.6zM337.1 137.3H341.2V141.4H337.1zM167.7 141.4H176.0V145.6H167.7zM250.3 141.4H254.5V145.6H250.3zM337.1 141.4H341.2V145.6H337.1zM81.0 145.6H85.1V149.7H81.0zM118.2 145.6H122.3V149.7H118.2zM122.3 149.7H126.4V153.9H122.3zM275.1 158.0H279.2V162.1H275.1zM114.0 162.1H118.2V166.3H114.0zM246.2 170.4H250.3V174.6H246.2zM101.7 174.6H105.8V178.7H101.7zM118.2 174.6H122.3V178.7H118.2zM118.2 178.7H126.4V182.8H118.2zM254.5 216.0H258.6V220.1H254.5zM209.0 232.5H221.4V236.7H209.0zM213.2 236.7H217.3V240.8H213.2zM328.8 240.8H337.1V244.9H328.8zM114.0 244.9H118.2V249.1H114.0zM209.0 244.9H213.2V249.1H209.0zM399.0 244.9H403.2V249.1H399.0zM353.6 249.1H357.7V253.2H353.6zM105.8 253.2H109.9V257.4H105.8zM134.7 253.2H138.8V257.4H134.7zM312.3 253.2H316.4V257.4H312.3zM366.0 253.2H370.1V257.4H366.0zM97.5 257.4H101.7V261.5H97.5zM370.1 257.4H374.2V261.5H370.1zM109.9 261.5H114.0V265.6H109.9zM101.7 265.6H105.8V269.8H101.7zM304.0 269.8H308.2V273.9H304.0zM76.9 278.1H81.0V282.2H76.9zM328.8 290.5H332.9V294.6H328.8zM320.6 298.8H324.7V302.9H320.6zM361.9 298.8H366.0V302.9H361.9z"/>
<path fill="#ff4600" d="M188.4 91.8H192.5V95.9H188.4zM167.7 104.2H171.9V108.3H167.7zM332.9 108.3H337.1V112.5H332.9zM324.7 112.5H328.8V116.6H324.7zM366.0 112.5H370.1V116.6H366.0zM64.5 116.6H68.6V120.7H64.5zM324.7 116.6H328.8V120.7H324.7zM345.3 116.6H349.5V120.7H345.3zM328.8 120.7H332.9V124.9H328.8zM64.5 124.9H68.6V129.0H64.5zM299.9 124.9H304.0V129.0H299.9zM308.2 124.9H312.3V129.0H308.2zM345.3 124.9H349.5V129.0H345.3zM81.0 129.0H85.1V133.2H81.0zM97.5 129.0H101.7V133.2H97.5zM337.1 129.0H345.3V133.2H337.1zM76.9 133.2H81.0V137.3H76.9zM337.1 133.2H341.2V137.3H337.1zM254.5 137.3H258.6V141.4H254.5zM101.7 141.4H105.8V145.6H101.7zM105.8 153.9H109.9V158.0H105.8zM250.3 153.9H254.5V158.0H250.3zM250.3 158.0H254.5V162.1H250.3zM114.0 166.3H118.2V170.4H114.0zM114.0 174.6H118.2V178.7H114.0zM258.6 216.0H262.7V220.1H258.6zM262.7 220.1H266.9V224.2H262.7zM246.2 224.2H250.3V228.4H246.2zM262.7 224.2H266.9V228.4H262.7zM250.3 228.4H254.5V232.5H250.3zM200.8 232.5H209.0V236.7H200.8zM345.3 244.9H349.5V249.1H345.3zM130.6 249.1H134.7V253.2H130.6zM316.4 249.1H320.6V253.2H316.4zM101.7 257.4H109.9V261.5H101.7zM130.6 257.4H134.7V261.5H130.6zM105.8 261.5H109.9V265.6H105.8zM308.2 261.5H312.3V265.6H308.2zM415.5 261.5H419.7V265.6H415.5zM52.1 265.6H56.2V269.8H52.1zM366.0 269.8H370.1V273.9H366.0zM312.3 278.1H316.4V282.2H312.3zM56.2 282.2H60.4V286.3H56.2zM324.7 282.2H328.8V286.3H324.7zM328.8 294.6H332.9V298.8H328.8zM304.0 298.8H308.2V302.9H304.0zM324.7 302.9H328.8V307.0H324.7zM324.7 307.0H328.8V311.2H324.7zM328.8 311.2H332.9V315.3H328.8zM312.3 315.3H316.4V319.5H312.3z"/>
<path fill="#ff4000" d="M221.4 95.9H225.6V100.0H221.4zM176.0 104.2H180.1V108.3H176.0zM233.8 104.2H237.9V108.3H233.8zM366.0 108.3H370.1V112.5H366.0zM386.6 108.3H390.8V112.5H386.6zM217.3 112.5H221.4V116.6H217.3zM341.2 112.5H345.3V116.6H341.2zM159.5 116.6H163.6V120.7H159.5zM64.5 120.7H68.6V124.9H64.5zM345.3 120.7H349.5V124.9H345.3zM304.0 124.9H308.2V129.0H304.0zM337.1 124.9H345.3V129.0H337.1zM60.4 129.0H64.5V133.2H60.4zM134.7 129.0H138.8V133.2H134.7zM159.5 129.0H163.6V133.2H159.5zM176.0 133.2H180.1V137.3H176.0zM271.0 133.2H275.1V137.3H271.0zM118.2 137.3H122.3V141.4H118.2zM312.3 137.3H316.4V141.4H312.3zM118.2 141.4H122.3V145.6H118.2zM299.9 149.7H304.0V153.9H299.9zM101.7 153.9H105.8V158.0H101.7zM279.2 153.9H283.4V158.0H279.2zM101.7 158.0H105.8V162.1H101.7zM271.0 162.1H275.1V166.3H271.0zM114.0 170.4H118.2V174.6H114.0zM262.7 170.4H266.9V174.6H262.7zM105.8 174.6H114.0V178.7H105.8zM250.3 220.1H254.5V224.2H250.3zM254.5 228.4H262.7V232.5H254.5zM209.0 236.7H213.2V240.8H209.0zM209.0 240.8H213.2V244.9H209.0zM320.6 244.9H324.7V249.1H320.6zM109.9 249.1H114.0V253.2H109.9zM126.4 249.1H130.6V253.2H126.4zM192.5 249.1H196.6V253.2H192.5zM204.9 249.1H209.0V253.2H204.9zM415.5 253.2H419.7V257.4H415.5zM109.9 257.4H114.0V261.5H109.9zM399.0 257.4H403.2V261.5H399.0zM101.7 261.5H105.8V265.6H101.7zM407.3 261.5H415.5V265.6H407.3zM56.2 265.6H60.4V269.8H56.2zM93.4 269.8H97.5V273.9H93.4zM308.2 273.9H312.3V278.1H308.2zM316.4 278.1H320.6V282.2H316.4zM52.1 282.2H56.2V286.3H52.1zM328.8 286.3H332.9V290.5H328.8zM308.2 294.6H316.4V298.8H308.2zM328.8 298.8H332.9V302.9H328.8zM353.6 311.2H357.7V315.3H353.6zM308.2 315.3H312.3V319.5H308.2z"/>
<path fill="#ff2d00" d="M217.3 100.0H221.4V104.2H217.3zM370.1 104.2H374.2V108.3H370.1zM217.3 108.3H221.4V112.5H217.3zM229.7 108.3H233.8V112.5H229.7zM52.1 112.5H60.4V116.6H52.1zM382.5 112.5H386.6V116.6H382.5zM328.8 116.6H332.9V120.7H328.8zM60.4 124.9H64.5V129.0H60.4zM93.4 129.0H97.5V133.2H93.4zM176.0 129.0H180.1V133.2H176.0zM275.1 133.2H279.2V137.3H275.1zM143.0 141.4H147.1V145.6H143.0zM271.0 158.0H275.1V162.1H271.0zM109.9 162.1H114.0V166.3H109.9zM109.9 166.3H114.0V170.4H109.9zM105.8 170.4H109.9V174.6H105.8zM254.5 170.4H262.7V174.6H254.5zM254.5 224.2H262.7V228.4H254.5zM204.9 236.7H209.0V240.8H204.9zM399.0 249.1H403.2V253.2H399.0zM118.2 253.2H122.3V257.4H118.2zM126.4 253.2H130.6V257.4H126.4zM316.4 253.2H320.6V257.4H316.4zM366.0 257.4H370.1V261.5H366.0zM76.9 261.5H81.0V265.6H76.9zM93.4 261.5H97.5V265.6H93.4zM366.0 261.5H370.1V265.6H366.0zM60.4 265.6H64.5V269.8H60.4zM85.1 273.9H89.3V278.1H85.1zM312.3 273.9H316.4V278.1H312.3zM361.9 294.6H366.0V298.8H361.9zM304.0 302.9H308.2V307.0H304.0zM225.6 319.5H229.7V323.6H225.6zM332.9 319.5H337.1V323.6H332.9zM349.5 323.6H353.6V327.7H349.5z"/>
<path fill="#ff1a00" d="M221.4 100.0H225.6V104.2H221.4zM229.7 100.0H233.8V104.2H229.7zM378.4 104.2H382.5V108.3H378.4zM171.9 108.3H176.0V112.5H171.9zM374.2 112.5H382.5V116.6H374.2zM56.2 116.6H60.4V120.7H56.2zM176.0 120.7H180.1V124.9H176.0zM52.1 124.9H56.2V129.0H52.1zM163.6 124.9H167.7V129.0H163.6zM308.2 133.2H312.3V137.3H308.2zM81.0 137.3H85.1V141.4H81.0zM258.6 137.3H262.7V141.4H258.6zM122.3 145.6H126.4V149.7H122.3zM295.8 145.6H299.9V149.7H295.8zM254.5 158.0H258.6V162.1H254.5zM254.5 162.1H258.6V166.3H254.5zM254.5 166.3H258.6V170.4H254.5zM200.8 236.7H204.9V240.8H200.8zM192.5 244.9H196.6V249.1H192.5zM316.4 257.4H320.6V261.5H316.4zM403.2 257.4H407.3V261.5H403.2zM411.4 257.4H415.5V261.5H411.4zM312.3 265.6H316.4V269.8H312.3zM89.3 269.8H93.4V273.9H89.3zM312.3 269.8H316.4V273.9H312.3zM332.9 294.6H337.1V298.8H332.9zM308.2 298.8H316.4V302.9H308.2zM332.9 298.8H337.1V302.9H332.9zM316.4 302.9H320.6V307.0H316.4zM332.9 302.9H337.1V307.0H332.9zM316.4 307.0H320.6V311.2H316.4zM332.9 307.0H337.1V311.2H332.9zM312.3 311.2H316.4V315.3H312.3zM349.5 311.2H353.6V315.3H349.5z"/>
<path fill="#ff1300" d="M225.6 100.0H229.7V104.2H225.6zM229.7 104.2H233.8V108.3H229.7zM374.2 104.2H378.4V108.3H374.2zM370.1 108.3H374.2V112.5H370.1zM382.5 108.3H386.6V112.5H382.5zM167.7 112.5H171.9V116.6H167.7zM52.1 116.6H56.2V120.7H52.1zM52.1 120.7H60.4V124.9H52.1zM163.6 120.7H167.7V124.9H163.6zM167.7 129.0H171.9V133.2H167.7zM295.8 129.0H308.2V133.2H295.8zM283.4 133.2H287.5V137.3H283.4zM97.5 137.3H101.7V141.4H97.5zM291.6 145.6H295.8V149.7H291.6zM97.5 149.7H101.7V153.9H97.5zM279.2 149.7H283.4V153.9H279.2zM254.5 153.9H258.6V158.0H254.5zM266.9 158.0H271.0V162.1H266.9zM258.6 166.3H262.7V170.4H258.6zM196.6 236.7H200.8V240.8H196.6zM192.5 240.8H196.6V244.9H192.5zM328.8 244.9H332.9V249.1H328.8zM337.1 244.9H341.2V249.1H337.1zM411.4 253.2H415.5V257.4H411.4zM361.9 257.4H366.0V261.5H361.9zM60.4 278.1H68.6V282.2H60.4zM332.9 290.5H337.1V294.6H332.9zM361.9 290.5H366.0V294.6H361.9zM308.2 311.2H312.3V315.3H308.2z"/>
<path fill="#ff3300" d="M171.9 104.2H176.0V108.3H171.9zM176.0 108.3H180.1V112.5H176.0zM163.6 112.5H167.7V116.6H163.6zM225.6 112.5H229.7V116.6H225.6zM341.2 116.6H345.3V120.7H341.2zM159.5 120.7H163.6V124.9H159.5zM337.1 120.7H345.3V124.9H337.1zM159.5 124.9H163.6V129.0H159.5zM52.1 129.0H56.2V133.2H52.1zM85.1 129.0H89.3V133.2H85.1zM97.5 133.2H101.7V137.3H97.5zM312.3 133.2H316.4V137.3H312.3zM304.0 145.6H308.2V149.7H304.0zM287.5 149.7H291.6V153.9H287.5zM105.8 158.0H109.9V162.1H105.8zM101.7 166.3H105.8V170.4H101.7zM250.3 166.3H254.5V170.4H250.3zM266.9 166.3H271.0V170.4H266.9zM109.9 170.4H114.0V174.6H109.9zM250.3 170.4H254.5V174.6H250.3zM254.5 220.1H262.7V224.2H254.5zM192.5 236.7H196.6V240.8H192.5zM403.2 244.9H407.3V249.1H403.2zM118.2 249.1H122.3V253.2H118.2zM114.0 253.2H118.2V257.4H114.0zM118.2 257.4H126.4V261.5H118.2zM97.5 261.5H101.7V265.6H97.5zM308.2 265.6H312.3V269.8H308.2zM366.0 265.6H370.1V269.8H366.0zM308.2 269.8H312.3V273.9H308.2zM72.8 278.1H76.9V282.2H72.8zM320.6 278.1H324.7V282.2H320.6zM316.4 298.8H320.6V302.9H316.4zM357.7 302.9H361.9V307.0H357.7zM332.9 323.6H337.1V327.7H332.9z"/>
<path fill="#ff0600" d="M221.4 104.2H225.6V108.3H221.4zM85.1 133.2H89.3V137.3H85.1zM93.4 133.2H97.5V137.3H93.4zM126.4 133.2H130.6V137.3H126.4zM287.5 133.2H291.6V137.3H287.5zM304.0 133.2H308.2V137.3H304.0zM122.3 137.3H126.4V141.4H122.3zM122.3 141.4H126.4V145.6H122.3zM130.6 149.7H134.7V153.9H130.6zM258.6 158.0H262.7V162.1H258.6zM200.8 244.9H204.9V249.1H200.8zM56.2 269.8H60.4V273.9H56.2zM316.4 269.8H320.6V273.9H316.4zM332.9 286.3H337.1V290.5H332.9zM357.7 298.8H361.9V302.9H357.7zM353.6 302.9H357.7V307.0H353.6zM349.5 307.0H353.6V311.2H349.5z"/>
<path fill="#ff0000" d="M225.6 104.2H229.7V108.3H225.6zM167.7 116.6H176.0V120.7H167.7zM167.7 120.7H171.9V124.9H167.7zM167.7 124.9H176.0V129.0H167.7zM130.6 133.2H134.7V137.3H130.6zM291.6 133.2H295.8V137.3H291.6zM138.8 137.3H143.0V141.4H138.8zM262.7 137.3H266.9V141.4H262.7zM299.9 137.3H304.0V141.4H299.9zM97.5 141.4H101.7V145.6H97.5zM295.8 141.4H299.9V145.6H295.8zM85.1 145.6H89.3V149.7H85.1zM134.7 149.7H138.8V153.9H134.7zM254.5 149.7H258.6V153.9H254.5zM262.7 158.0H266.9V162.1H262.7zM200.8 240.8H204.9V244.9H200.8zM324.7 249.1H328.8V253.2H324.7zM345.3 249.1H349.5V253.2H345.3zM403.2 253.2H407.3V257.4H403.2zM361.9 261.5H366.0V265.6H361.9zM316.4 265.6H320.6V269.8H316.4zM361.9 273.9H366.0V278.1H361.9zM361.9 286.3H366.0V290.5H361.9zM308.2 302.9H316.4V307.0H308.2zM312.3 307.0H316.4V311.2H312.3zM337.1 307.0H341.2V311.2H337.1zM337.1 311.2H341.2V315.3H337.1zM337.1 315.3H341.2V319.5H337.1zM345.3 315.3H349.5V319.5H345.3zM337.1 319.5H341.2V323.6H337.1zM345.3 319.5H349.5V323.6H345.3zM337.1 323.6H341.2V327.7H337.1zM345.3 323.6H349.5V327.7H345.3z"/>
<path fill="#0000a6" d="M266.9 104.2H271.0V108.3H266.9z"/>
<path fill="#000099" d="M271.0 104.2H275.1V108.3H271.0z"/>
<path fill="#00009f" d="M275.1 104.2H279.2V108.3H275.1z"/>
<path fill="#ff0d00" d="M221.4 108.3H229.7V112.5H221.4zM171.9 112.5H176.0V116.6H171.9zM171.9 129.0H176.0V133.2H171.9zM134.7 133.2H138.8V137.3H134.7zM304.0 137.3H308.2V141.4H304.0zM254.5 141.4H258.6V145.6H254.5zM299.9 141.4H304.0V145.6H299.9zM287.5 145.6H291.6V149.7H287.5zM271.0 153.9H275.1V158.0H271.0zM258.6 162.1H266.9V166.3H258.6zM332.9 244.9H337.1V249.1H332.9zM403.2 249.1H411.4V253.2H403.2zM320.6 253.2H324.7V257.4H320.6zM353.6 253.2H357.7V257.4H353.6zM407.3 257.4H411.4V261.5H407.3zM316.4 261.5H320.6V265.6H316.4zM64.5 265.6H68.6V269.8H64.5zM89.3 265.6H93.4V269.8H89.3zM52.1 269.8H56.2V273.9H52.1zM320.6 273.9H324.7V278.1H320.6zM52.1 278.1H60.4V282.2H52.1z"/>
<path fill="#0000ac" d="M266.9 108.3H275.1V112.5H266.9z"/>
<path fill="#f90000" d="M374.2 108.3H382.5V112.5H374.2zM171.9 120.7H176.0V124.9H171.9zM89.3 133.2H93.4V137.3H89.3zM295.8 133.2H304.0V137.3H295.8zM295.8 137.3H299.9V141.4H295.8zM291.6 141.4H295.8V145.6H291.6zM97.5 145.6H101.7V149.7H97.5zM254.5 145.6H258.6V149.7H254.5zM283.4 145.6H287.5V149.7H283.4zM89.3 149.7H93.4V153.9H89.3zM275.1 149.7H279.2V153.9H275.1zM196.6 244.9H200.8V249.1H196.6zM407.3 253.2H411.4V257.4H407.3zM320.6 257.4H324.7V261.5H320.6zM361.9 265.6H366.0V269.8H361.9zM361.9 269.8H366.0V273.9H361.9zM52.1 273.9H56.2V278.1H52.1zM81.0 273.9H85.1V278.1H81.0zM328.8 278.1H332.9V282.2H328.8zM361.9 278.1H366.0V282.2H361.9zM361.9 282.2H366.0V286.3H361.9zM337.1 302.9H341.2V307.0H337.1zM308.2 307.0H312.3V311.2H308.2zM345.3 311.2H349.5V315.3H345.3z"/>
<path fill="#f20000" d="M85.1 137.3H89.3V141.4H85.1zM291.6 137.3H295.8V141.4H291.6zM85.1 141.4H89.3V145.6H85.1zM287.5 141.4H291.6V145.6H287.5zM126.4 145.6H130.6V149.7H126.4zM138.8 145.6H143.0V149.7H138.8zM93.4 149.7H97.5V153.9H93.4zM258.6 153.9H262.7V158.0H258.6zM266.9 153.9H271.0V158.0H266.9zM196.6 240.8H200.8V244.9H196.6zM357.7 257.4H361.9V261.5H357.7zM60.4 269.8H64.5V273.9H60.4zM320.6 269.8H324.7V273.9H320.6zM56.2 273.9H60.4V278.1H56.2zM324.7 273.9H328.8V278.1H324.7zM337.1 298.8H341.2V302.9H337.1zM345.3 307.0H349.5V311.2H345.3zM341.2 311.2H345.3V315.3H341.2zM341.2 315.3H345.3V319.5H341.2zM225.6 323.6H229.7V327.7H225.6z"/>
<path fill="#e50000" d="M89.3 137.3H93.4V141.4H89.3zM126.4 137.3H130.6V141.4H126.4zM271.0 137.3H283.4V141.4H271.0zM283.4 141.4H287.5V145.6H283.4zM279.2 145.6H283.4V149.7H279.2zM328.8 249.1H332.9V253.2H328.8zM341.2 249.1H345.3V253.2H341.2zM349.5 253.2H353.6V257.4H349.5zM320.6 265.6H324.7V269.8H320.6zM337.1 294.6H341.2V298.8H337.1zM341.2 302.9H345.3V307.0H341.2zM349.5 302.9H353.6V307.0H349.5zM221.4 319.5H225.6V323.6H221.4z"/>
<path fill="#ec0000" d="M93.4 137.3H97.5V141.4H93.4zM266.9 137.3H271.0V141.4H266.9zM283.4 137.3H291.6V141.4H283.4zM138.8 141.4H143.0V145.6H138.8zM262.7 153.9H266.9V158.0H262.7zM324.7 253.2H328.8V257.4H324.7zM320.6 261.5H324.7V265.6H320.6zM68.6 265.6H72.8V269.8H68.6zM85.1 265.6H89.3V269.8H85.1zM85.1 269.8H89.3V273.9H85.1zM60.4 273.9H64.5V278.1H60.4zM332.9 282.2H337.1V286.3H332.9zM341.2 307.0H345.3V311.2H341.2zM217.3 319.5H221.4V323.6H217.3zM341.2 319.5H345.3V323.6H341.2zM341.2 323.6H345.3V327.7H341.2z"/>
<path fill="#d90000" d="M130.6 137.3H134.7V141.4H130.6zM89.3 141.4H97.5V145.6H89.3zM258.6 141.4H262.7V145.6H258.6zM279.2 141.4H283.4V145.6H279.2zM258.6 149.7H262.7V153.9H258.6zM332.9 249.1H341.2V253.2H332.9zM324.7 257.4H328.8V261.5H324.7zM81.0 265.6H85.1V269.8H81.0zM324.7 269.8H328.8V273.9H324.7zM64.5 273.9H68.6V278.1H64.5zM76.9 273.9H81.0V278.1H76.9zM328.8 273.9H332.9V278.1H328.8zM337.1 290.5H341.2V294.6H337.1zM353.6 298.8H357.7V302.9H353.6zM213.2 323.6H217.3V327.7H213.2z"/>
<path fill="#df0000" d="M134.7 137.3H138.8V141.4H134.7zM126.4 141.4H130.6V145.6H126.4zM271.0 149.7H275.1V153.9H271.0zM357.7 294.6H361.9V298.8H357.7zM345.3 302.9H349.5V307.0H345.3z"/>
<path fill="#cc0000" d="M130.6 141.4H138.8V145.6H130.6zM275.1 141.4H279.2V145.6H275.1zM134.7 145.6H138.8V149.7H134.7zM258.6 145.6H262.7V149.7H258.6zM262.7 149.7H266.9V153.9H262.7zM328.8 253.2H332.9V257.4H328.8zM324.7 261.5H328.8V265.6H324.7zM76.9 265.6H81.0V269.8H76.9zM324.7 265.6H328.8V269.8H324.7zM68.6 273.9H72.8V278.1H68.6zM337.1 286.3H341.2V290.5H337.1z"/>
<path fill="#bf0000" d="M262.7 141.4H266.9V145.6H262.7zM271.0 141.4H275.1V145.6H271.0zM357.7 265.6H361.9V269.8H357.7zM357.7 290.5H361.9V294.6H357.7zM341.2 294.6H345.3V298.8H341.2zM345.3 298.8H349.5V302.9H345.3z"/>
<path fill="#b90000" d="M266.9 141.4H271.0V145.6H266.9zM262.7 145.6H271.0V149.7H262.7zM328.8 257.4H332.9V261.5H328.8zM68.6 269.8H72.8V273.9H68.6zM328.8 269.8H332.9V273.9H328.8zM357.7 269.8H361.9V273.9H357.7zM337.1 282.2H341.2V286.3H337.1z"/>
<path fill="#d20000" d="M89.3 145.6H97.5V149.7H89.3zM130.6 145.6H134.7V149.7H130.6zM275.1 145.6H279.2V149.7H275.1zM266.9 149.7H271.0V153.9H266.9zM353.6 257.4H357.7V261.5H353.6zM357.7 261.5H361.9V265.6H357.7zM72.8 265.6H76.9V269.8H72.8zM64.5 269.8H68.6V273.9H64.5zM332.9 278.1H337.1V282.2H332.9zM341.2 298.8H345.3V302.9H341.2z"/>
<path fill="#c60000" d="M271.0 145.6H275.1V149.7H271.0zM345.3 253.2H349.5V257.4H345.3zM81.0 269.8H85.1V273.9H81.0zM72.8 273.9H76.9V278.1H72.8zM349.5 298.8H353.6V302.9H349.5z"/>
<path fill="#b30000" d="M332.9 253.2H337.1V257.4H332.9zM349.5 257.4H353.6V261.5H349.5zM353.6 261.5H357.7V265.6H353.6zM332.9 273.9H337.1V278.1H332.9zM353.6 294.6H357.7V298.8H353.6z"/>
<path fill="#a60000" d="M337.1 253.2H341.2V257.4H337.1zM72.8 269.8H76.9V273.9H72.8zM337.1 278.1H341.2V282.2H337.1zM357.7 278.1H361.9V282.2H357.7zM357.7 282.2H361.9V286.3H357.7zM345.3 294.6H349.5V298.8H345.3zM217.3 323.6H225.6V327.7H217.3z"/>
<path fill="#ac0000" d="M341.2 253.2H345.3V257.4H341.2zM328.8 261.5H332.9V265.6H328.8zM328.8 265.6H332.9V269.8H328.8zM76.9 269.8H81.0V273.9H76.9zM357.7 273.9H361.9V278.1H357.7zM357.7 286.3H361.9V290.5H357.7zM341.2 290.5H345.3V294.6H341.2z"/>
<path fill="#990000" d="M332.9 257.4H337.1V261.5H332.9zM345.3 257.4H349.5V261.5H345.3zM353.6 265.6H357.7V269.8H353.6zM341.2 286.3H345.3V290.5H341.2z"/>
<path fill="#8c0000" d="M337.1 257.4H345.3V261.5H337.1zM341.2 282.2H345.3V286.3H341.2zM353.6 290.5H357.7V294.6H353.6z"/>
<path fill="#930000" d="M332.9 261.5H337.1V265.6H332.9zM349.5 261.5H353.6V265.6H349.5zM332.9 265.6H337.1V269.8H332.9zM337.1 273.9H341.2V278.1H337.1z"/>
<path fill="#800000" d="M337.1 261.5H349.5V265.6H337.1zM337.1 265.6H353.6V269.8H337.1zM341.2 269.8H353.6V273.9H341.2zM341.2 273.9H357.7V278.1H341.2zM341.2 278.1H357.7V282.2H341.2zM345.3 282.2H357.7V286.3H345.3zM345.3 286.3H357.7V290.5H345.3zM349.5 290.5H353.6V294.6H349.5z"/>
<path fill="#9f0000" d="M332.9 269.8H337.1V273.9H332.9zM349.5 294.6H353.6V298.8H349.5z"/>
<path fill="#860000" d="M337.1 269.8H341.2V273.9H337.1zM353.6 269.8H357.7V273.9H353.6zM345.3 290.5H349.5V294.6H345.3z"/>
</g>
<rect x="52.1" y="33.8" width="375.8" height="293.9" fill="none" stroke="#3a3a3a" stroke-width="1"/>
<path d="M91.3 33.8v3.5M91.3 327.7v-3.5M132.6 33.8v3.5M132.6 327.7v-3.5M173.9 33.8v3.5M173.9 327.7v-3.5M215.2 33.8v3.5M215.2 327.7v-3.5M256.5 33.8v3.5M256.5 327.7v-3.5M297.8 33.8v3.5M297.8 327.7v-3.5M339.1 33.8v3.5M339.1 327.7v-3.5M380.4 33.8v3.5M380.4 327.7v-3.5M421.7 33.8v3.5M421.7 327.7v-3.5M52.1 73.1h3.5M427.9 73.1h-3.5M52.1 114.5h3.5M427.9 114.5h-3.5M52.1 155.9h3.5M427.9 155.9h-3.5M52.1 197.3h3.5M427.9 197.3h-3.5M52.1 238.7h3.5M427.9 238.7h-3.5M52.1 280.1h3.5M427.9 280.1h-3.5M52.1 321.5h3.5M427.9 321.5h-3.5" stroke="#3a3a3a" stroke-width="1" fill="none"/>
<text x="91.3" y="340" font-size="9.6" fill="#222" text-anchor="middle" font-family="Liberation Sans, sans-serif">10</text>
<text x="132.6" y="340" font-size="9.6" fill="#222" text-anchor="middle" font-family="Liberation Sans, sans-serif">20</text>
<text x="173.9" y="340" font-size="9.6" fill="#222" text-anchor="middle" font-family="Liberation Sans, sans-serif">30</text>
<text x="215.2" y="340" font-size="9.6" fill="#222" text-anchor="middle" font-family="Liberation Sans, sans-serif">40</text>
<text x="256.5" y="340" font-size="9.6" fill="#222" text-anchor="middle" font-family="Liberation Sans, sans-serif">50</text>
<text x="297.8" y="340" font-size="9.6" fill="#222" text-anchor="middle" font-family="Liberation Sans, sans-serif">60</text>
<text x="339.1" y="340" font-size="9.6" fill="#222" text-anchor="middle" font-family="Liberation Sans, sans-serif">70</text>
<text x="380.4" y="340" font-size="9.6" fill="#222" text-anchor="middle" font-family="Liberation Sans, sans-serif">80</text>
<text x="421.7" y="340" font-size="9.6" fill="#222" text-anchor="middle" font-family="Liberation Sans, sans-serif">90</text>
<text x="48.8" y="76.5" font-size="9.6" fill="#222" text-anchor="end" font-family="Liberation Sans, sans-serif">10</text>
<text x="48.8" y="117.9" font-size="9.6" fill="#222" text-anchor="end" font-family="Liberation Sans, sans-serif">20</text>
<text x="48.8" y="159.3" font-size="9.6" fill="#222" text-anchor="end" font-family="Liberation Sans, sans-serif">30</text>
<text x="48.8" y="200.7" font-size="9.6" fill="#222" text-anchor="end" font-family="Liberation Sans, sans-serif">40</text>
<text x="48.8" y="242.1" font-size="9.6" fill="#222" text-anchor="end" font-family="Liberation Sans, sans-serif">50</text>
<text x="48.8" y="283.5" font-size="9.6" fill="#222" text-anchor="end" font-family="Liberation Sans, sans-serif">60</text>
<text x="48.8" y="324.9" font-size="9.6" fill="#222" text-anchor="end" font-family="Liberation Sans, sans-serif">70</text>
<text x="230.5" y="362" font-size="17.5" text-anchor="middle" font-family="Liberation Sans, sans-serif">West-East Pixel Index</text>
<text transform="translate(26,184.5) rotate(-90)" font-size="17.7" text-anchor="middle" font-family="Liberation Sans, sans-serif">North-South Pixel Index</text>
<text x="243.5" y="20.3" font-size="19" text-anchor="middle" font-family="Liberation Sans, sans-serif">(a)</text>
<rect x="163.5" y="146.1" width="61.8" height="61.7" fill="none" stroke="#2626e6" stroke-width="2.3" stroke-dasharray="6 0.9"/>
<circle cx="194" cy="176.8" r="3.4" fill="#00e000" stroke="#808080" stroke-width="1.4"/>
<defs><linearGradient id="jetv" x1="0" y1="1" x2="0" y2="0"><stop offset="0.000" stop-color="#000080"/><stop offset="0.031" stop-color="#00009f"/><stop offset="0.062" stop-color="#0000bf"/><stop offset="0.094" stop-color="#0000df"/><stop offset="0.125" stop-color="#0000ff"/><stop offset="0.156" stop-color="#0020ff"/><stop offset="0.188" stop-color="#0040ff"/><stop offset="0.219" stop-color="#0060ff"/><stop offset="0.250" stop-color="#0080ff"/><stop offset="0.281" stop-color="#009fff"/><stop offset="0.312" stop-color="#00bfff"/><stop offset="0.344" stop-color="#00dfff"/><stop offset="0.375" stop-color="#00ffff"/><stop offset="0.406" stop-color="#20ffdf"/><stop offset="0.438" stop-color="#40ffbf"/><stop offset="0.469" stop-color="#60ff9f"/><stop offset="0.500" stop-color="#80ff80"/><stop offset="0.531" stop-color="#9fff60"/><stop offset="0.562" stop-color="#bfff40"/><stop offset="0.594" stop-color="#dfff20"/><stop offset="0.625" stop-color="#ffff00"/><stop offset="0.656" stop-color="#ffdf00"/><stop offset="0.688" stop-color="#ffbf00"/><stop offset="0.719" stop-color="#ff9f00"/><stop offset="0.750" stop-color="#ff8000"/><stop offset="0.781" stop-color="#ff6000"/><stop offset="0.812" stop-color="#ff4000"/><stop offset="0.844" stop-color="#ff2000"/><stop offset="0.875" stop-color="#ff0000"/><stop offset="0.906" stop-color="#df0000"/><stop offset="0.938" stop-color="#bf0000"/><stop offset="0.969" stop-color="#9f0000"/><stop offset="1.000" stop-color="#800000"/></linearGradient>
<linearGradient id="jeth" x1="0" y1="0" x2="1" y2="0"><stop offset="0.000" stop-color="#000080"/><stop offset="0.031" stop-color="#00009f"/><stop offset="0.062" stop-color="#0000bf"/><stop offset="0.094" stop-color="#0000df"/><stop offset="0.125" stop-color="#0000ff"/><stop offset="0.156" stop-color="#0020ff"/><stop offset="0.188" stop-color="#0040ff"/><stop offset="0.219" stop-color="#0060ff"/><stop offset="0.250" stop-color="#0080ff"/><stop offset="0.281" stop-color="#009fff"/><stop offset="0.312" stop-color="#00bfff"/><stop offset="0.344" stop-color="#00dfff"/><stop offset="0.375" stop-color="#00ffff"/><stop offset="0.406" stop-color="#20ffdf"/><stop offset="0.438" stop-color="#40ffbf"/><stop offset="0.469" stop-color="#60ff9f"/><stop offset="0.500" stop-color="#80ff80"/><stop offset="0.531" stop-color="#9fff60"/><stop offset="0.562" stop-color="#bfff40"/><stop offset="0.594" stop-color="#dfff20"/><stop offset="0.625" stop-color="#ffff00"/><stop offset="0.656" stop-color="#ffdf00"/><stop offset="0.688" stop-color="#ffbf00"/><stop offset="0.719" stop-color="#ff9f00"/><stop offset="0.750" stop-color="#ff8000"/><stop offset="0.781" stop-color="#ff6000"/><stop offset="0.812" stop-color="#ff4000"/><stop offset="0.844" stop-color="#ff2000"/><stop offset="0.875" stop-color="#ff0000"/><stop offset="0.906" stop-color="#df0000"/><stop offset="0.938" stop-color="#bf0000"/><stop offset="0.969" stop-color="#9f0000"/><stop offset="1.000" stop-color="#800000"/></linearGradient></defs>
<rect x="458" y="211" width="10.8" height="119.2" fill="url(#jetv)" stroke="#333" stroke-width="0.8"/>
<path d="M458 300.7h2.5M468.8 300.7h-2.5" stroke="#333" stroke-width="0.8"/>
<text x="471" y="304.7" font-size="11.5" fill="#222" font-family="Liberation Sans, sans-serif">30</text>
<path d="M458 264.1h2.5M468.8 264.1h-2.5" stroke="#333" stroke-width="0.8"/>
<text x="471" y="268.1" font-size="11.5" fill="#222" font-family="Liberation Sans, sans-serif">35</text>
<path d="M458 227.5h2.5M468.8 227.5h-2.5" stroke="#333" stroke-width="0.8"/>
<text x="471" y="231.5" font-size="11.5" fill="#222" font-family="Liberation Sans, sans-serif">40</text>
<text transform="translate(502.6,265.5) rotate(-90)" font-size="19.4" textLength="146.5" lengthAdjust="spacingAndGlyphs" text-anchor="middle" font-family="Liberation Sans, sans-serif">Temperature (°C)</text>
<g transform="translate(458.1,35.5)">
<circle r="15.3" fill="none" stroke="#1a1a1a" stroke-width="1.9"/>
<circle r="13.0" fill="none" stroke="#9a9a9a" stroke-width="0.9"/>
<path d="M0,-19.6 L2.3,-2.3 L0,0 L-2.3,-2.3Z M0,20 L2.3,2.3 L0,0 L-2.3,2.3Z M-20.2,0 L-2.3,-2.3 L0,0 L-2.3,2.3Z M19.4,0 L2.3,-2.3 L0,0 L2.3,2.3Z" fill="#111"/>
<path d="M0,-19.6 L2.3,-2.3 L0,0Z M0,20 L-2.3,2.3 L0,0Z M-20.2,0 L-2.3,2.3 L0,0Z M19.4,0 L2.3,-2.3 L0,0Z" fill="#555"/>
<path d="M-3.2,-3.2 L-8,-8 L-2.2,-4.2Z M3.2,-3.2 L8,-8 L4.2,-2.2Z M-3.2,3.2 L-8,8 L-4.2,2.2Z M3.2,3.2 L8,8 L2.2,4.2Z" fill="#333" stroke="#333" stroke-width="0.6"/>
</g>
<text x="457.6" y="13.6" font-size="15.5" text-anchor="middle" font-family="Liberation Serif, serif">N</text>
<rect x="444.2" y="107.6" width="19.6" height="7.6" rx="1.6" fill="none" stroke="#2a2aff" stroke-width="1.5" stroke-dasharray="3 0.7"/>
<text x="435.5" y="136.3" font-size="17.1" font-family="Liberation Sans, sans-serif">15×15 Window</text>
<circle cx="453.4" cy="146.4" r="4.6" fill="#00e000"/>
<text x="437.6" y="165.7" font-size="18" font-family="Liberation Sans, sans-serif">Target Pixel</text>
<path d="M225.3 145.1L697.2 61.6M225.3 207.8L620.5 288.9" stroke="#f04444" stroke-width="1.4" stroke-dasharray="24 5.5" fill="none"/>
<path d="M700.2 241.7L700.2 63.2M700.2 241.7L623.4 287.4M714.9 242.8L714.9 64.2M714.9 242.8L638.1 288.5M729.5 243.8L729.5 65.3M729.5 243.8L652.7 289.5M744.2 244.8L744.2 66.3M744.2 244.8L667.4 290.6M758.9 245.9L758.9 67.4M758.9 245.9L682.1 291.6M773.6 246.9L773.6 68.4M773.6 246.9L696.8 292.7M788.2 248.0L788.2 69.5M788.2 248.0L711.4 293.8M802.9 249.0L802.9 70.5M802.9 249.0L726.1 294.8M817.6 250.1L817.6 71.6M817.6 250.1L740.8 295.9M832.2 251.1L832.2 72.6M832.2 251.1L755.4 296.9M846.9 252.2L846.9 73.7M846.9 252.2L770.1 297.9M861.6 253.2L861.6 74.8M861.6 253.2L784.8 299.0M876.2 254.3L876.2 75.8M876.2 254.3L799.4 300.0M890.9 255.3L890.9 76.8M890.9 255.3L814.1 301.1M905.6 256.4L905.6 77.9M905.6 256.4L828.8 302.1M920.2 257.4L920.2 78.9M920.2 257.4L843.5 303.2M700.2 241.7L920.2 257.4M700.2 241.7L623.4 287.4M700.2 206.0L920.2 221.8M700.2 206.0L623.4 251.8M700.2 170.3L920.2 186.0M700.2 170.3L623.4 216.0M700.2 134.6L920.2 150.3M700.2 134.6L623.4 180.3M700.2 98.9L920.2 114.6M700.2 98.9L623.4 144.6M700.2 63.2L920.2 78.9M700.2 63.2L623.4 108.9M700.2 241.7L700.2 63.2M700.2 241.7L920.2 257.4M674.6 256.9L674.6 78.4M674.6 256.9L894.6 272.7M649.0 272.2L649.0 93.7M649.0 272.2L869.0 287.9M623.4 287.4L623.4 108.9M623.4 287.4L843.5 303.2" stroke="#dcdcdc" stroke-width="0.8" fill="none"/>
<path d="M623.4 108.9L623.4 287.4M623.4 287.4L843.5 303.2L920.2 257.4M623.4 287.4h-4.5M623.4 251.8h-4.5M623.4 216.0h-4.5M623.4 180.3h-4.5M623.4 144.6h-4.5M623.4 108.9h-4.5M623.4 287.4l-3.2 1.9M638.1 288.5l-3.2 1.9M652.7 289.5l-3.2 1.9M667.4 290.6l-3.2 1.9M682.1 291.6l-3.2 1.9M696.8 292.7l-3.2 1.9M711.4 293.8l-3.2 1.9M726.1 294.8l-3.2 1.9M740.8 295.9l-3.2 1.9M755.4 296.9l-3.2 1.9M770.1 297.9l-3.2 1.9M784.8 299.0l-3.2 1.9M799.4 300.0l-3.2 1.9M814.1 301.1l-3.2 1.9M828.8 302.1l-3.2 1.9M843.5 303.2l-3.2 1.9M920.2 257.4l4.4 0.3M894.6 272.7l4.4 0.3M869.0 287.9l4.4 0.3M843.5 303.2l4.4 0.3" stroke="#555" stroke-width="0.9" fill="none"/>
<text x="615.4" y="290.8" font-size="9.6" fill="#222" text-anchor="end" font-family="Liberation Sans, sans-serif">30</text>
<text x="615.4" y="255.2" font-size="9.6" fill="#222" text-anchor="end" font-family="Liberation Sans, sans-serif">32</text>
<text x="615.4" y="219.4" font-size="9.6" fill="#222" text-anchor="end" font-family="Liberation Sans, sans-serif">34</text>
<text x="615.4" y="183.7" font-size="9.6" fill="#222" text-anchor="end" font-family="Liberation Sans, sans-serif">36</text>
<text x="615.4" y="148.0" font-size="9.6" fill="#222" text-anchor="end" font-family="Liberation Sans, sans-serif">38</text>
<text x="615.4" y="112.3" font-size="9.6" fill="#222" text-anchor="end" font-family="Liberation Sans, sans-serif">40</text>
<text x="613.9" y="301.4" font-size="9.6" fill="#222" text-anchor="middle" font-family="Liberation Sans, sans-serif">0</text>
<text x="628.6" y="302.5" font-size="9.6" fill="#222" text-anchor="middle" font-family="Liberation Sans, sans-serif">1</text>
<text x="643.2" y="303.5" font-size="9.6" fill="#222" text-anchor="middle" font-family="Liberation Sans, sans-serif">2</text>
<text x="657.9" y="304.6" font-size="9.6" fill="#222" text-anchor="middle" font-family="Liberation Sans, sans-serif">3</text>
<text x="672.6" y="305.6" font-size="9.6" fill="#222" text-anchor="middle" font-family="Liberation Sans, sans-serif">4</text>
<text x="687.3" y="306.7" font-size="9.6" fill="#222" text-anchor="middle" font-family="Liberation Sans, sans-serif">5</text>
<text x="701.9" y="307.8" font-size="9.6" fill="#222" text-anchor="middle" font-family="Liberation Sans, sans-serif">6</text>
<text x="716.6" y="308.8" font-size="9.6" fill="#222" text-anchor="middle" font-family="Liberation Sans, sans-serif">7</text>
<text x="731.3" y="309.9" font-size="9.6" fill="#222" text-anchor="middle" font-family="Liberation Sans, sans-serif">8</text>
<text x="745.9" y="310.9" font-size="9.6" fill="#222" text-anchor="middle" font-family="Liberation Sans, sans-serif">9</text>
<text x="760.6" y="311.9" font-size="9.6" fill="#222" text-anchor="middle" font-family="Liberation Sans, sans-serif">10</text>
<text x="775.3" y="313.0" font-size="9.6" fill="#222" text-anchor="middle" font-family="Liberation Sans, sans-serif">11</text>
<text x="789.9" y="314.0" font-size="9.6" fill="#222" text-anchor="middle" font-family="Liberation Sans, sans-serif">12</text>
<text x="804.6" y="315.1" font-size="9.6" fill="#222" text-anchor="middle" font-family="Liberation Sans, sans-serif">13</text>
<text x="819.3" y="316.1" font-size="9.6" fill="#222" text-anchor="middle" font-family="Liberation Sans, sans-serif">14</text>
<text x="834.0" y="317.2" font-size="9.6" fill="#222" text-anchor="middle" font-family="Liberation Sans, sans-serif">15</text>
<text x="930.2" y="267.4" font-size="9.6" fill="#222" text-anchor="middle" font-family="Liberation Sans, sans-serif">0</text>
<text x="904.6" y="282.7" font-size="9.6" fill="#222" text-anchor="middle" font-family="Liberation Sans, sans-serif">5</text>
<text x="879.0" y="297.9" font-size="9.6" fill="#222" text-anchor="middle" font-family="Liberation Sans, sans-serif">10</text>
<text x="853.5" y="313.2" font-size="9.6" fill="#222" text-anchor="middle" font-family="Liberation Sans, sans-serif">15</text>
<g stroke="#111" stroke-width="0.6" stroke-linejoin="round">
<polygon points="709.8,115.5 724.4,121.9 719.3,121.4 704.6,115.0" fill="#ff1200"/>
<polygon points="724.4,121.9 739.1,126.5 734.0,126.0 719.3,121.4" fill="#ff5100"/>
<polygon points="739.1,126.5 753.8,132.9 748.6,130.6 734.0,126.0" fill="#ff7a00"/>
<polygon points="753.8,132.9 768.4,137.5 763.3,137.0 748.6,130.6" fill="#ffb900"/>
<polygon points="768.4,137.5 783.1,138.6 778.0,138.1 763.3,137.0" fill="#ffe200"/>
<polygon points="783.1,138.6 797.8,139.6 792.7,139.1 778.0,138.1" fill="#ffe200"/>
<polygon points="797.8,139.6 812.4,137.1 807.3,136.6 792.7,139.1" fill="#ffe200"/>
<polygon points="812.4,137.1 827.1,132.8 822.0,132.3 807.3,136.6" fill="#ffb900"/>
<polygon points="827.1,132.8 841.8,130.3 836.7,129.8 822.0,132.3" fill="#ff7a00"/>
<polygon points="841.8,130.3 856.5,126.0 851.3,125.5 836.7,129.8" fill="#ff5100"/>
<polygon points="856.5,126.0 871.1,125.3 866.0,124.7 851.3,125.5" fill="#ff1200"/>
<polygon points="871.1,125.3 885.8,137.0 880.7,131.1 866.0,124.7" fill="#fc0000"/>
<polygon points="885.8,137.0 900.5,148.8 895.3,162.5 880.7,131.1" fill="#ff7a00"/>
<polygon points="900.5,148.8 915.1,164.1 910.0,186.8 895.3,162.5" fill="#fff700"/>
<polygon points="704.6,115.0 719.3,121.4 714.2,119.1 699.5,116.2" fill="#e80000"/>
<polygon points="719.3,121.4 734.0,126.0 728.9,123.7 714.2,119.1" fill="#ff2700"/>
<polygon points="734.0,126.0 748.6,130.6 743.5,130.1 728.9,123.7" fill="#ff5100"/>
<polygon points="748.6,130.6 763.3,137.0 758.2,136.5 743.5,130.1" fill="#ff7a00"/>
<polygon points="763.3,137.0 778.0,138.1 772.9,142.9 758.2,136.5" fill="#ffb900"/>
<polygon points="778.0,138.1 792.7,139.1 787.5,142.2 772.9,142.9" fill="#ffb900"/>
<polygon points="792.7,139.1 807.3,136.6 802.2,137.9 787.5,142.2" fill="#ffb900"/>
<polygon points="807.3,136.6 822.0,132.3 816.9,135.3 802.2,137.9" fill="#ff8f00"/>
<polygon points="822.0,132.3 836.7,129.8 831.5,132.8 816.9,135.3" fill="#ff5100"/>
<polygon points="836.7,129.8 851.3,125.5 846.2,130.3 831.5,132.8" fill="#ff2700"/>
<polygon points="851.3,125.5 866.0,124.7 860.9,129.6 846.2,130.3" fill="#e80000"/>
<polygon points="866.0,124.7 880.7,131.1 875.6,139.5 860.9,129.6" fill="#d30000"/>
<polygon points="880.7,131.1 895.3,162.5 890.2,174.5 875.6,139.5" fill="#ff1200"/>
<polygon points="895.3,162.5 910.0,186.8 904.9,195.2 890.2,174.5" fill="#8aff75"/>
<polygon points="699.5,116.2 714.2,119.1 709.1,103.4 694.4,117.5" fill="#d30000"/>
<polygon points="714.2,119.1 728.9,123.7 723.7,111.8 709.1,103.4" fill="#e80000"/>
<polygon points="728.9,123.7 743.5,130.1 738.4,121.9 723.7,111.8" fill="#ff1200"/>
<polygon points="743.5,130.1 758.2,136.5 753.1,133.3 738.4,121.9" fill="#ff5100"/>
<polygon points="758.2,136.5 772.9,142.9 767.7,142.4 753.1,133.3" fill="#ff8f00"/>
<polygon points="772.9,142.9 787.5,142.2 782.4,141.7 767.7,142.4" fill="#ffce00"/>
<polygon points="787.5,142.2 802.2,137.9 797.1,139.1 782.4,141.7" fill="#ffb900"/>
<polygon points="802.2,137.9 816.9,135.3 811.8,138.4 797.1,139.1" fill="#ff7a00"/>
<polygon points="816.9,135.3 831.5,132.8 826.4,139.4 811.8,138.4" fill="#ff5100"/>
<polygon points="831.5,132.8 846.2,130.3 841.1,138.7 826.4,139.4" fill="#ff2700"/>
<polygon points="846.2,130.3 860.9,129.6 855.8,141.5 841.1,138.7" fill="#fc0000"/>
<polygon points="860.9,129.6 875.6,139.5 870.4,151.5 855.8,141.5" fill="#e80000"/>
<polygon points="875.6,139.5 890.2,174.5 885.1,182.9 870.4,151.5" fill="#ff5100"/>
<polygon points="890.2,174.5 904.9,195.2 899.8,201.8 885.1,182.9" fill="#22ffdd"/>
<polygon points="694.4,117.5 709.1,103.4 703.9,117.3 689.3,117.9" fill="#be0000"/>
<polygon points="709.1,103.4 723.7,111.8 718.6,119.1 703.9,117.3" fill="#800000"/>
<polygon points="723.7,111.8 738.4,121.9 733.3,123.7 718.6,119.1" fill="#800000"/>
<polygon points="738.4,121.9 753.1,133.3 748.0,131.9 733.3,123.7" fill="#cd0000"/>
<polygon points="753.1,133.3 767.7,142.4 762.6,141.9 748.0,131.9" fill="#ff4600"/>
<polygon points="767.7,142.4 782.4,141.7 777.3,142.9 762.6,141.9" fill="#ffa400"/>
<polygon points="782.4,141.7 797.1,139.1 792.0,142.2 777.3,142.9" fill="#ff8f00"/>
<polygon points="797.1,139.1 811.8,138.4 806.6,143.2 792.0,142.2" fill="#ff6500"/>
<polygon points="811.8,138.4 826.4,139.4 821.3,147.9 806.6,143.2" fill="#ff5100"/>
<polygon points="826.4,139.4 841.1,138.7 836.0,150.7 821.3,147.9" fill="#ff5100"/>
<polygon points="841.1,138.7 855.8,141.5 850.6,155.3 836.0,150.7" fill="#ff3c00"/>
<polygon points="855.8,141.5 870.4,151.5 865.3,165.3 850.6,155.3" fill="#ff5100"/>
<polygon points="870.4,151.5 885.1,182.9 880.0,182.4 865.3,165.3" fill="#ffb900"/>
<polygon points="885.1,182.9 899.8,201.8 894.6,201.3 880.0,182.4" fill="#00e2ff"/>
<polygon points="689.3,117.9 703.9,117.3 698.8,122.9 684.1,122.2" fill="#9f0000"/>
<polygon points="703.9,117.3 718.6,119.1 713.5,123.9 698.8,122.9" fill="#8c0000"/>
<polygon points="718.6,119.1 733.3,123.7 728.2,125.0 713.5,123.9" fill="#940000"/>
<polygon points="733.3,123.7 748.0,131.9 742.8,133.2 728.2,125.0" fill="#be0000"/>
<polygon points="748.0,131.9 762.6,141.9 757.5,136.0 742.8,133.2" fill="#ff1200"/>
<polygon points="762.6,141.9 777.3,142.9 772.2,140.6 757.5,136.0" fill="#ff7a00"/>
<polygon points="777.3,142.9 792.0,142.2 786.8,143.4 772.2,140.6" fill="#ff7a00"/>
<polygon points="792.0,142.2 806.6,143.2 801.5,149.9 786.8,143.4" fill="#ff6500"/>
<polygon points="806.6,143.2 821.3,147.9 816.2,156.3 801.5,149.9" fill="#ff6500"/>
<polygon points="821.3,147.9 836.0,150.7 830.9,162.7 816.2,156.3" fill="#ff8f00"/>
<polygon points="836.0,150.7 850.6,155.3 845.5,169.1 830.9,162.7" fill="#ffa400"/>
<polygon points="850.6,155.3 865.3,165.3 860.2,179.0 845.5,169.1" fill="#ffce00"/>
<polygon points="865.3,165.3 880.0,182.4 874.9,190.8 860.2,179.0" fill="#c8ff37"/>
<polygon points="880.0,182.4 894.6,201.3 889.5,200.8 874.9,190.8" fill="#0dfff2"/>
<polygon points="684.1,122.2 698.8,122.9 693.7,129.5 679.0,130.0" fill="#ad0000"/>
<polygon points="698.8,122.9 713.5,123.9 708.4,129.6 693.7,129.5" fill="#a90000"/>
<polygon points="713.5,123.9 728.2,125.0 723.0,130.7 708.4,129.6" fill="#a90000"/>
<polygon points="728.2,125.0 742.8,133.2 737.7,134.4 723.0,130.7" fill="#a90000"/>
<polygon points="742.8,133.2 757.5,136.0 752.4,137.3 737.7,134.4" fill="#fc0000"/>
<polygon points="757.5,136.0 772.2,140.6 767.1,142.8 752.4,137.3" fill="#ff1200"/>
<polygon points="772.2,140.6 786.8,143.4 781.7,148.3 767.1,142.8" fill="#ff3c00"/>
<polygon points="786.8,143.4 801.5,149.9 796.4,156.5 781.7,148.3" fill="#ff5100"/>
<polygon points="801.5,149.9 816.2,156.3 811.1,164.7 796.4,156.5" fill="#ff8f00"/>
<polygon points="816.2,156.3 830.9,162.7 825.7,172.9 811.1,164.7" fill="#ffce00"/>
<polygon points="830.9,162.7 845.5,169.1 840.4,182.8 825.7,172.9" fill="#f2ff0d"/>
<polygon points="845.5,169.1 860.2,179.0 855.1,191.0 840.4,182.8" fill="#b4ff4b"/>
<polygon points="860.2,179.0 874.9,190.8 869.7,199.2 855.1,191.0" fill="#4bffb4"/>
<polygon points="874.9,190.8 889.5,200.8 884.4,202.0 869.7,199.2" fill="#00ceff"/>
<polygon points="679.0,130.0 693.7,129.5 688.6,137.9 673.9,139.5" fill="#e60000"/>
<polygon points="693.7,129.5 708.4,129.6 703.2,137.2 688.6,137.9" fill="#d30000"/>
<polygon points="708.4,129.6 723.0,130.7 717.9,137.9 703.2,137.2" fill="#c80000"/>
<polygon points="723.0,130.7 737.7,134.4 732.6,140.2 717.9,137.9" fill="#c80000"/>
<polygon points="737.7,134.4 752.4,137.3 747.3,143.0 732.6,140.2" fill="#e80000"/>
<polygon points="752.4,137.3 767.1,142.8 761.9,148.5 747.3,143.0" fill="#fc0000"/>
<polygon points="767.1,142.8 781.7,148.3 776.6,154.9 761.9,148.5" fill="#ff3100"/>
<polygon points="781.7,148.3 796.4,156.5 791.3,163.1 776.6,154.9" fill="#ff6500"/>
<polygon points="796.4,156.5 811.1,164.7 805.9,172.2 791.3,163.1" fill="#ffb900"/>
<polygon points="811.1,164.7 825.7,172.9 820.6,183.0 805.9,172.2" fill="#f2ff0d"/>
<polygon points="825.7,172.9 840.4,182.8 835.3,193.9 820.6,183.0" fill="#9fff60"/>
<polygon points="840.4,182.8 855.1,191.0 850.0,203.0 835.3,193.9" fill="#37ffc8"/>
<polygon points="855.1,191.0 869.7,199.2 864.6,206.7 850.0,203.0" fill="#00e2ff"/>
<polygon points="869.7,199.2 884.4,202.0 879.3,203.3 864.6,206.7" fill="#008fff"/>
<polygon points="673.9,139.5 688.6,137.9 683.5,148.1 668.8,149.2" fill="#ff3100"/>
<polygon points="688.6,137.9 703.2,137.2 698.1,147.3 683.5,148.1" fill="#ff1200"/>
<polygon points="703.2,137.2 717.9,137.9 712.8,148.4 698.1,147.3" fill="#fc0000"/>
<polygon points="717.9,137.9 732.6,140.2 727.5,151.2 712.8,148.4" fill="#f80000"/>
<polygon points="732.6,140.2 747.3,143.0 742.1,154.1 727.5,151.2" fill="#ff0800"/>
<polygon points="747.3,143.0 761.9,148.5 756.8,155.1 742.1,154.1" fill="#ff1d00"/>
<polygon points="761.9,148.5 776.6,154.9 771.5,159.7 756.8,155.1" fill="#ff5100"/>
<polygon points="776.6,154.9 791.3,163.1 786.1,167.9 771.5,159.7" fill="#ff8f00"/>
<polygon points="791.3,163.1 805.9,172.2 800.8,181.5 786.1,167.9" fill="#ffe200"/>
<polygon points="805.9,172.2 820.6,183.0 815.5,193.2 800.8,181.5" fill="#beff41"/>
<polygon points="820.6,183.0 835.3,193.9 830.2,205.0 815.5,193.2" fill="#4bffb4"/>
<polygon points="835.3,193.9 850.0,203.0 844.8,211.4 830.2,205.0" fill="#00d8ff"/>
<polygon points="850.0,203.0 864.6,206.7 859.5,207.1 844.8,211.4" fill="#007aff"/>
<polygon points="864.6,206.7 879.3,203.3 874.2,208.1 859.5,207.1" fill="#005bff"/>
<polyline points="673.9,139.5 688.6,137.9 703.2,137.2 717.9,137.9 732.6,140.2 747.3,143.0 761.9,148.5 776.6,154.9 791.3,163.1 805.9,172.2 820.6,183.0 835.3,193.9 850.0,203.0 864.6,206.7 879.3,203.3" fill="none" stroke="#33e633" stroke-width="2.8" stroke-linejoin="round" stroke-linecap="round"/>
<polygon points="668.8,149.2 683.5,148.1 678.3,161.8 663.7,162.2" fill="#ff7e00"/>
<polygon points="683.5,148.1 698.1,147.3 693.0,162.9 678.3,161.8" fill="#ff6500"/>
<polygon points="698.1,147.3 712.8,148.4 707.7,163.9 693.0,162.9" fill="#ff5100"/>
<polygon points="712.8,148.4 727.5,151.2 722.4,165.0 707.7,163.9" fill="#ff5100"/>
<polygon points="727.5,151.2 742.1,154.1 737.0,162.5 722.4,165.0" fill="#ff6500"/>
<polygon points="742.1,154.1 756.8,155.1 751.7,161.7 737.0,162.5" fill="#ff7a00"/>
<polygon points="756.8,155.1 771.5,159.7 766.4,164.6 751.7,161.7" fill="#ff7a00"/>
<polygon points="771.5,159.7 786.1,167.9 781.0,174.5 766.4,164.6" fill="#ffa400"/>
<polygon points="786.1,167.9 800.8,181.5 795.7,189.9 781.0,174.5" fill="#fff700"/>
<polygon points="800.8,181.5 815.5,193.2 810.4,203.4 795.7,189.9" fill="#75ff8a"/>
<polygon points="815.5,193.2 830.2,205.0 825.0,215.2 810.4,203.4" fill="#00f7ff"/>
<polygon points="830.2,205.0 844.8,211.4 839.7,214.5 825.0,215.2" fill="#007aff"/>
<polygon points="844.8,211.4 859.5,207.1 854.4,208.4 839.7,214.5" fill="#003cff"/>
<polygon points="859.5,207.1 874.2,208.1 869.0,216.5 854.4,208.4" fill="#007aff"/>
<polygon points="663.7,162.2 678.3,161.8 673.2,184.5 658.5,184.7" fill="#fff300"/>
<polygon points="678.3,161.8 693.0,162.9 687.9,183.8 673.2,184.5" fill="#ffe200"/>
<polygon points="693.0,162.9 707.7,163.9 702.6,183.1 687.9,183.8" fill="#ffe200"/>
<polygon points="707.7,163.9 722.4,165.0 717.2,180.5 702.6,183.1" fill="#ffe200"/>
<polygon points="722.4,165.0 737.0,162.5 731.9,174.4 717.2,180.5" fill="#ffe200"/>
<polygon points="737.0,162.5 751.7,161.7 746.6,170.1 731.9,174.4" fill="#ffb900"/>
<polygon points="751.7,161.7 766.4,164.6 761.2,172.1 746.6,170.1" fill="#ffa400"/>
<polygon points="766.4,164.6 781.0,174.5 775.9,181.2 761.2,172.1" fill="#ffb900"/>
<polygon points="781.0,174.5 795.7,189.9 790.6,198.3 775.9,181.2" fill="#ddff22"/>
<polygon points="795.7,189.9 810.4,203.4 805.2,213.6 790.6,198.3" fill="#37ffc8"/>
<polygon points="810.4,203.4 825.0,215.2 819.9,223.6 805.2,213.6" fill="#00a4ff"/>
<polygon points="825.0,215.2 839.7,214.5 834.6,217.5 819.9,223.6" fill="#0027ff"/>
<polygon points="839.7,214.5 854.4,208.4 849.3,215.0 834.6,217.5" fill="#003cff"/>
<polygon points="854.4,208.4 869.0,216.5 863.9,216.0 849.3,215.0" fill="#008fff"/>
<polygon points="658.5,184.7 673.2,184.5 668.1,205.4 653.4,205.6" fill="#28ffd7"/>
<polygon points="673.2,184.5 687.9,183.8 682.8,204.7 668.1,205.4" fill="#37ffc8"/>
<polygon points="687.9,183.8 702.6,183.1 697.4,202.2 682.8,204.7" fill="#4bffb4"/>
<polygon points="702.6,183.1 717.2,180.5 712.1,196.1 697.4,202.2" fill="#60ff9f"/>
<polygon points="717.2,180.5 731.9,174.4 726.8,186.4 712.1,196.1" fill="#8aff75"/>
<polygon points="731.9,174.4 746.6,170.1 741.5,180.3 726.8,186.4" fill="#ddff22"/>
<polygon points="746.6,170.1 761.2,172.1 756.1,180.5 741.5,180.3" fill="#ffe200"/>
<polygon points="761.2,172.1 775.9,181.2 770.8,187.8 756.1,180.5" fill="#ffed00"/>
<polygon points="775.9,181.2 790.6,198.3 785.5,206.7 770.8,187.8" fill="#b4ff4b"/>
<polygon points="790.6,198.3 805.2,213.6 800.1,222.0 785.5,206.7" fill="#00f7ff"/>
<polygon points="805.2,213.6 819.9,223.6 814.8,232.0 800.1,222.0" fill="#0051ff"/>
<polygon points="819.9,223.6 834.6,217.5 829.5,227.7 814.8,232.0" fill="#0000e8"/>
<polygon points="834.6,217.5 849.3,215.0 844.1,218.0 829.5,227.7" fill="#003cff"/>
<polygon points="849.3,215.0 863.9,216.0 858.8,220.9 844.1,218.0" fill="#0065ff"/>
<polygon points="653.4,205.6 668.1,205.4 663.0,222.8 648.3,222.2" fill="#0057ff"/>
<polygon points="668.1,205.4 682.8,204.7 677.7,222.0 663.0,222.8" fill="#0065ff"/>
<polygon points="682.8,204.7 697.4,202.2 692.3,219.5 677.7,222.0" fill="#007aff"/>
<polygon points="697.4,202.2 712.1,196.1 707.0,209.8 692.3,219.5" fill="#00a4ff"/>
<polygon points="712.1,196.1 726.8,186.4 721.7,196.6 707.0,209.8" fill="#00f7ff"/>
<polygon points="726.8,186.4 741.5,180.3 736.3,187.0 721.7,196.6" fill="#75ff8a"/>
<polygon points="741.5,180.3 756.1,180.5 751.0,186.2 736.3,187.0" fill="#c8ff37"/>
<polygon points="756.1,180.5 770.8,187.8 765.7,192.6 751.0,186.2" fill="#d3ff2c"/>
<polygon points="770.8,187.8 785.5,206.7 780.3,211.5 765.7,192.6" fill="#8aff75"/>
<polygon points="785.5,206.7 800.1,222.0 795.0,226.9 780.3,211.5" fill="#00b9ff"/>
<polygon points="800.1,222.0 814.8,232.0 809.7,238.6 795.0,226.9" fill="#0012ff"/>
<polygon points="814.8,232.0 829.5,227.7 824.4,236.1 809.7,238.6" fill="#0000a9"/>
<polygon points="829.5,227.7 844.1,218.0 839.0,224.6 824.4,236.1" fill="#0000e8"/>
<polygon points="844.1,218.0 858.8,220.9 853.7,190.0 839.0,224.6" fill="#0065ff"/>
<polygon points="648.3,222.2 663.0,222.8 657.9,224.0 643.2,222.3" fill="#0000b8"/>
<polygon points="663.0,222.8 677.7,222.0 672.5,225.1 657.9,224.0" fill="#0000be"/>
<polygon points="677.7,222.0 692.3,219.5 687.2,226.1 672.5,225.1" fill="#0000d3"/>
<polygon points="692.3,219.5 707.0,209.8 701.9,218.2 687.2,226.1" fill="#0000fc"/>
<polygon points="707.0,209.8 721.7,196.6 716.5,205.0 701.9,218.2" fill="#007aff"/>
<polygon points="721.7,196.6 736.3,187.0 731.2,192.7 716.5,205.0" fill="#22ffdd"/>
<polygon points="736.3,187.0 751.0,186.2 745.9,191.1 731.2,192.7" fill="#9fff60"/>
<polygon points="751.0,186.2 765.7,192.6 760.5,196.6 745.9,191.1" fill="#b4ff4b"/>
<polygon points="765.7,192.6 780.3,211.5 775.2,212.8 760.5,196.6" fill="#75ff8a"/>
<polygon points="780.3,211.5 795.0,226.9 789.9,224.5 775.2,212.8" fill="#00a4ff"/>
<polygon points="795.0,226.9 809.7,238.6 804.6,241.7 789.9,224.5" fill="#0000fc"/>
<polygon points="809.7,238.6 824.4,236.1 819.2,240.9 804.6,241.7" fill="#000080"/>
<polygon points="824.4,236.1 839.0,224.6 833.9,225.9 819.2,240.9" fill="#0000a9"/>
<polygon points="839.0,224.6 853.7,190.0 848.6,221.6 833.9,225.9" fill="#003cff"/>
<polygon points="643.2,222.3 657.9,224.0 652.7,225.3 638.1,221.4" fill="#0000db"/>
<polygon points="657.9,224.0 672.5,225.1 667.4,228.1 652.7,225.3" fill="#0000d3"/>
<polygon points="672.5,225.1 687.2,226.1 682.1,229.0 667.4,228.1" fill="#0000d3"/>
<polygon points="687.2,226.1 701.9,218.2 696.8,221.3 682.1,229.0" fill="#0000d3"/>
<polygon points="701.9,218.2 716.5,205.0 711.4,209.9 696.8,221.3" fill="#003cff"/>
<polygon points="716.5,205.0 731.2,192.7 726.1,197.5 711.4,209.9" fill="#00e2ff"/>
<polygon points="731.2,192.7 745.9,191.1 740.8,195.0 726.1,197.5" fill="#7fff80"/>
<polygon points="745.9,191.1 760.5,196.6 755.4,198.7 740.8,195.0" fill="#9fff60"/>
<polygon points="760.5,196.6 775.2,212.8 770.1,209.6 755.4,198.7" fill="#6bff94"/>
<polygon points="775.2,212.8 789.9,224.5 784.8,222.2 770.1,209.6" fill="#00b9ff"/>
<polygon points="789.9,224.5 804.6,241.7 799.4,243.8 784.8,222.2" fill="#003cff"/>
<polygon points="804.6,241.7 819.2,240.9 814.1,242.7 799.4,243.8" fill="#000080"/>
<polygon points="819.2,240.9 833.9,225.9 828.8,225.9 814.1,242.7" fill="#000094"/>
<polygon points="833.9,225.9 848.6,221.6 843.5,220.4 828.8,225.9" fill="#0051ff"/>
</g>
<text x="782.3" y="20.3" font-size="19" text-anchor="middle" font-family="Liberation Sans, sans-serif">(b)</text>
<text transform="translate(589.9,186.4) rotate(-90)" font-size="19.4" text-anchor="middle" font-family="Liberation Sans, sans-serif">Temperature (°C)</text>
<text transform="translate(708,334.5) rotate(4.2)" font-size="17.3" text-anchor="middle" font-family="Liberation Sans, sans-serif">West-East Pixel Index</text>
<text transform="translate(894,323.5) rotate(-32.4)" font-size="17.3" text-anchor="middle" font-family="Liberation Sans, sans-serif">North-South Pixel Index</text>
<path d="M831 55.3H869.8" stroke="#3ee63e" stroke-width="4"/>
<text x="878.4" y="52.9" font-size="17.2" font-family="Liberation Sans, sans-serif">Cross-sectional</text>
<text x="878.4" y="73.8" font-size="17.2" font-family="Liberation Sans, sans-serif">Sample</text>
<rect x="961.3" y="121.6" width="5" height="99.6" fill="url(#jetv)"/>
<text x="968" y="221.3" font-size="11" fill="#222" font-family="Liberation Sans, sans-serif">34</text>
<text x="968" y="198.0" font-size="11" fill="#222" font-family="Liberation Sans, sans-serif">35</text>
<text x="968" y="174.8" font-size="11" fill="#222" font-family="Liberation Sans, sans-serif">36</text>
<text x="968" y="151.5" font-size="11" fill="#222" font-family="Liberation Sans, sans-serif">37</text>
<text x="968" y="128.2" font-size="11" fill="#222" font-family="Liberation Sans, sans-serif">38</text>
<text transform="translate(1007,165.3) rotate(-90)" font-size="19.4" text-anchor="middle" font-family="Liberation Sans, sans-serif">Temperature (°C)</text>
<path d="M58 436.5V690.6H962.3" stroke="#555" stroke-width="1.2" fill="none"/>
<path d="M58 436.5h8M58 507.1h8M58 577.7h8M58 648.3h8M114.5 690.6v-8M171.0 690.6v-8M227.5 690.6v-8M284.0 690.6v-8M340.5 690.6v-8M397.0 690.6v-8M453.5 690.6v-8M510.0 690.6v-8M566.5 690.6v-8M623.0 690.6v-8M679.5 690.6v-8M736.0 690.6v-8M792.5 690.6v-8M849.0 690.6v-8M905.5 690.6v-8" stroke="#555" stroke-width="1.1" fill="none"/>
<text x="53.3" y="440.8" font-size="12.2" fill="#222" text-anchor="end" font-family="Liberation Sans, sans-serif">1</text>
<text x="53.3" y="511.4" font-size="12.2" fill="#222" text-anchor="end" font-family="Liberation Sans, sans-serif">0.5</text>
<text x="53.3" y="582.0" font-size="12.2" fill="#222" text-anchor="end" font-family="Liberation Sans, sans-serif">0</text>
<text x="53.3" y="652.6" font-size="12.2" fill="#222" text-anchor="end" font-family="Liberation Sans, sans-serif">-0.5</text>
<text x="114.5" y="706" font-size="12.2" fill="#222" text-anchor="middle" font-family="Liberation Sans, sans-serif">1</text>
<text x="171.0" y="706" font-size="12.2" fill="#222" text-anchor="middle" font-family="Liberation Sans, sans-serif">2</text>
<text x="227.5" y="706" font-size="12.2" fill="#222" text-anchor="middle" font-family="Liberation Sans, sans-serif">3</text>
<text x="284.0" y="706" font-size="12.2" fill="#222" text-anchor="middle" font-family="Liberation Sans, sans-serif">4</text>
<text x="340.5" y="706" font-size="12.2" fill="#222" text-anchor="middle" font-family="Liberation Sans, sans-serif">5</text>
<text x="397.0" y="706" font-size="12.2" fill="#222" text-anchor="middle" font-family="Liberation Sans, sans-serif">6</text>
<text x="453.5" y="706" font-size="12.2" fill="#222" text-anchor="middle" font-family="Liberation Sans, sans-serif">7</text>
<text x="510.0" y="706" font-size="12.2" fill="#222" text-anchor="middle" font-family="Liberation Sans, sans-serif">8</text>
<text x="566.5" y="706" font-size="12.2" fill="#222" text-anchor="middle" font-family="Liberation Sans, sans-serif">9</text>
<text x="623.0" y="706" font-size="12.2" fill="#222" text-anchor="middle" font-family="Liberation Sans, sans-serif">10</text>
<text x="679.5" y="706" font-size="12.2" fill="#222" text-anchor="middle" font-family="Liberation Sans, sans-serif">11</text>
<text x="736.0" y="706" font-size="12.2" fill="#222" text-anchor="middle" font-family="Liberation Sans, sans-serif">12</text>
<text x="792.5" y="706" font-size="12.2" fill="#222" text-anchor="middle" font-family="Liberation Sans, sans-serif">13</text>
<text x="849.0" y="706" font-size="12.2" fill="#222" text-anchor="middle" font-family="Liberation Sans, sans-serif">14</text>
<text x="905.5" y="706" font-size="12.2" fill="#222" text-anchor="middle" font-family="Liberation Sans, sans-serif">15</text>
<path d="M962.3 441V690.6" stroke="#4a4aff" stroke-width="1.2" fill="none"/>
<text x="973.5" y="476.2" font-size="12.2" fill="#2020ff" font-family="Liberation Sans, sans-serif">0.08</text>
<text x="973.5" y="538.8" font-size="12.2" fill="#2020ff" font-family="Liberation Sans, sans-serif">0.06</text>
<text x="973.5" y="601.3" font-size="12.2" fill="#2020ff" font-family="Liberation Sans, sans-serif">0.04</text>
<text x="973.5" y="663.8" font-size="12.2" fill="#2020ff" font-family="Liberation Sans, sans-serif">0.02</text>
<path d="M962.3 471.9h7M962.3 534.5h7M962.3 597.0h7M962.3 659.5h7" stroke="#4a4aff" stroke-width="1.1" fill="none"/>
<text transform="translate(1020.5,566.7) rotate(-90)" font-size="24.3" fill="#1a1aff" text-anchor="middle" font-family="Liberation Sans, sans-serif">Curvedness</text>
<text transform="translate(23,548.3) rotate(-90)" font-size="24" fill="#111" text-anchor="middle" font-family="Liberation Sans, sans-serif">MSSI</text>
<text x="513.5" y="740.5" font-size="22.7" fill="#111" text-anchor="middle" font-family="Liberation Sans, sans-serif">West-East Pixel Index</text>
<text x="516.4" y="405" font-size="21.5" fill="#111" text-anchor="middle" font-family="Liberation Sans, sans-serif">(c)</text>
<polyline points="114.3,525.4 170.6,510.6 227.0,505.9 284.0,498.8 340.3,488.4 397.2,474.0 453.4,458.1 510.0,454.1 566.4,518.5 623.1,549.9 679.5,630.0 736.0,654.4 792.5,657.2 849.1,659.5 905.7,663.4" fill="none" stroke="#e4e4e4" stroke-width="1.3"/>
<polyline points="113.8,590.6 170.1,582.5 225.6,571.0 282.5,564.4 338.0,568.0 394.4,581.9 450.3,572.2 506.2,565.6 562.5,491.0 618.8,448.8 674.8,677.4 730.9,617.2 786.7,600.2 842.9,592.9 899.1,604.9" fill="none" stroke="#8c8cff" stroke-width="1" stroke-dasharray="2 1"/>
<g fill="#1010ff"><rect x="112.3" y="589.1" width="3" height="3"/><rect x="168.6" y="581.0" width="3" height="3"/><rect x="224.1" y="569.5" width="3" height="3"/><rect x="281.0" y="562.9" width="3" height="3"/><rect x="336.5" y="566.5" width="3" height="3"/><rect x="392.9" y="580.4" width="3" height="3"/><rect x="448.8" y="570.7" width="3" height="3"/><rect x="504.7" y="564.1" width="3" height="3"/><rect x="561.0" y="489.5" width="3" height="3"/><rect x="617.3" y="447.3" width="3" height="3"/><rect x="673.3" y="675.9" width="3" height="3"/><rect x="729.4" y="615.7" width="3" height="3"/><rect x="785.2" y="598.7" width="3" height="3"/><rect x="841.4" y="591.4" width="3" height="3"/><rect x="897.6" y="603.4" width="3" height="3"/></g>
<circle cx="114.3" cy="525.4" r="8.9" fill="#cc0000"/>
<circle cx="170.6" cy="510.6" r="8.4" fill="#c40000"/>
<circle cx="227.0" cy="505.9" r="8.4" fill="#8b0000"/>
<circle cx="284.0" cy="498.8" r="8.4" fill="#800000"/>
<circle cx="340.3" cy="488.4" r="8.4" fill="#7a0000"/>
<circle cx="397.2" cy="474.0" r="8.4" fill="#b00000"/>
<circle cx="453.4" cy="458.1" r="8.4" fill="#ee0000"/>
<circle cx="510.0" cy="454.1" r="7.7" fill="#ff4a10"/>
<circle cx="566.4" cy="518.5" r="6.1" fill="#f0a020"/>
<circle cx="623.1" cy="549.9" r="5.8" fill="#a8f060"/>
<circle cx="679.5" cy="630.0" r="13.0" fill="#00eef0"/>
<circle cx="736.0" cy="654.4" r="10.3" fill="#0038ff"/>
<circle cx="792.5" cy="657.2" r="9.3" fill="#0a0aa0"/>
<circle cx="849.1" cy="659.5" r="9.3" fill="#000080"/>
<circle cx="905.7" cy="663.4" r="8.9" fill="#0000c8"/>
<polyline points="114.3,525.4 170.6,510.6 227.0,505.9 284.0,498.8 340.3,488.4 397.2,474.0 453.4,458.1 510.0,454.1 566.4,518.5 623.1,549.9 679.5,630.0 736.0,654.4 792.5,657.2 849.1,659.5 905.7,663.4" fill="none" stroke="#ffffff" stroke-opacity="0.25" stroke-width="1.2" stroke-dasharray="3 2"/>
<path d="M116.3 607.7H188.8" stroke="#9aa0ff" stroke-width="1.6" stroke-dasharray="2 1"/>
<path d="M150.4 605.4l4.6 4.6M155 605.4l-4.6 4.6" stroke="#1010ff" stroke-width="2"/>
<text x="199.7" y="614.5" font-size="21.3" fill="#111" font-family="Liberation Sans, sans-serif">Curvedness</text>
<circle cx="172" cy="631.4" r="4" fill="#f5ec20"/>
<text x="200.2" y="639" font-size="21.3" fill="#111" font-family="Liberation Sans, sans-serif">Scale</text>
<rect x="115.8" y="644" width="72" height="4.8" fill="url(#jeth)"/>
<text x="135.6" y="664.6" font-size="14.8" fill="#111" text-anchor="middle" font-family="Liberation Sans, sans-serif">35</text>
<text x="159.6" y="664.6" font-size="14.8" fill="#111" text-anchor="middle" font-family="Liberation Sans, sans-serif">36</text>
<text x="181.7" y="664.6" font-size="14.8" fill="#111" text-anchor="middle" font-family="Liberation Sans, sans-serif">37</text>
<text x="200" y="664.6" font-size="21.3" fill="#111" textLength="157" lengthAdjust="spacingAndGlyphs" font-family="Liberation Sans, sans-serif">Temperature (°C)</text>
</svg>
</body></html>
